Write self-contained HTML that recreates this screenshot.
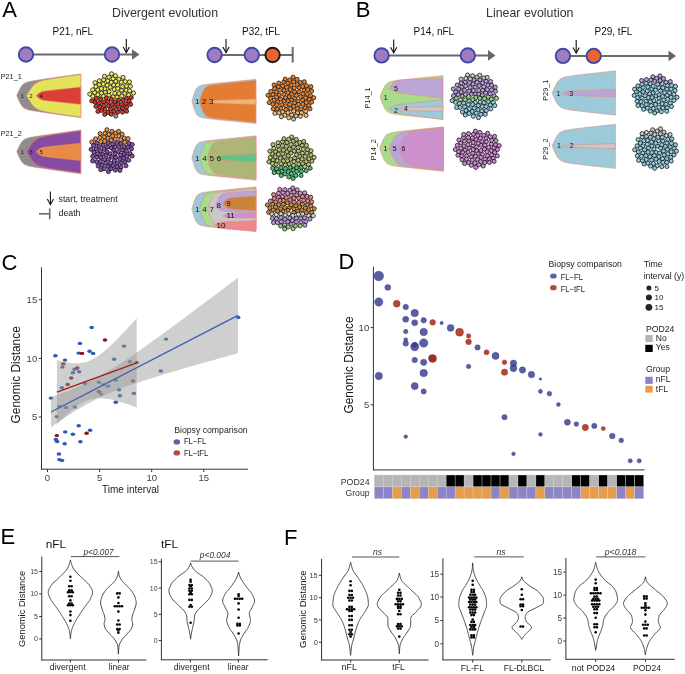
<!DOCTYPE html>
<html><head><meta charset="utf-8"><style>
html,body{margin:0;padding:0;background:#fff;}
svg{display:block;will-change:transform;}
text{font-family:"Liberation Sans", sans-serif;}
</style></head><body>
<svg width="685" height="674" viewBox="0 0 685 674">
<rect width="685" height="674" fill="#fff"/>
<text x="2.20" y="16.80" font-size="22" text-anchor="start" fill="#000" >A</text>
<text x="355.70" y="17.00" font-size="22" text-anchor="start" fill="#000" >B</text>
<text x="1.40" y="269.60" font-size="22" text-anchor="start" fill="#000" >C</text>
<text x="338.50" y="269.40" font-size="22" text-anchor="start" fill="#000" >D</text>
<text x="0.50" y="543.90" font-size="22" text-anchor="start" fill="#000" >E</text>
<text x="283.90" y="545.20" font-size="22" text-anchor="start" fill="#000" >F</text>
<text x="112.00" y="17.00" font-size="12.4" text-anchor="start" fill="#333" >Divergent evolution</text>
<text x="486.00" y="17.00" font-size="12.4" text-anchor="start" fill="#333" >Linear evolution</text>
<text x="52.60" y="35.00" font-size="10" text-anchor="start" fill="#111" >P21, nFL</text>
<line x1="26.00" y1="54.50" x2="133.00" y2="54.50" stroke="#6b6b6b" stroke-width="2.0" />
<path d="M132.00,49.20 L139.50,54.50 L132.00,59.80 Z" fill="#666"/>
<circle cx="26.00" cy="54.50" r="7.2" fill="#a27bbf" stroke="#3c48ab" stroke-width="1.9"/>
<circle cx="112.00" cy="54.50" r="7.2" fill="#a27bbf" stroke="#3c48ab" stroke-width="1.9"/>
<line x1="126.30" y1="39.00" x2="126.30" y2="52.50" stroke="#111" stroke-width="1.1" />
<path d="M123.20,46.90 L126.30,52.50 L129.40,46.90" fill="none" stroke="#111" stroke-width="1.1"/>
<text x="242.00" y="34.60" font-size="10" text-anchor="start" fill="#111" >P32, tFL</text>
<line x1="214.60" y1="55.00" x2="292.70" y2="55.00" stroke="#6b6b6b" stroke-width="2.0" />
<line x1="292.70" y1="47.00" x2="292.70" y2="62.60" stroke="#6b6b6b" stroke-width="2.0" />
<circle cx="214.60" cy="55.00" r="7.2" fill="#a27bbf" stroke="#3c48ab" stroke-width="1.9"/>
<circle cx="251.80" cy="55.00" r="7.2" fill="#a27bbf" stroke="#3c48ab" stroke-width="1.9"/>
<circle cx="272.60" cy="55.00" r="7.2" fill="#e8652d" stroke="#1a1a1a" stroke-width="1.9"/>
<line x1="226.00" y1="39.00" x2="226.00" y2="52.50" stroke="#111" stroke-width="1.1" />
<path d="M222.90,46.90 L226.00,52.50 L229.10,46.90" fill="none" stroke="#111" stroke-width="1.1"/>
<text x="413.60" y="35.00" font-size="10" text-anchor="start" fill="#111" >P14, nFL</text>
<line x1="381.60" y1="55.40" x2="490.00" y2="55.40" stroke="#6b6b6b" stroke-width="2.0" />
<path d="M488.00,50.10 L495.50,55.40 L488.00,60.70 Z" fill="#666"/>
<circle cx="381.60" cy="55.40" r="7.2" fill="#a27bbf" stroke="#3c48ab" stroke-width="1.9"/>
<circle cx="467.80" cy="55.40" r="7.2" fill="#a27bbf" stroke="#3c48ab" stroke-width="1.9"/>
<line x1="393.70" y1="39.50" x2="393.70" y2="52.80" stroke="#111" stroke-width="1.1" />
<path d="M390.60,47.20 L393.70,52.80 L396.80,47.20" fill="none" stroke="#111" stroke-width="1.1"/>
<text x="594.50" y="35.10" font-size="10" text-anchor="start" fill="#111" >P29, tFL</text>
<line x1="562.90" y1="55.90" x2="670.00" y2="55.90" stroke="#6b6b6b" stroke-width="2.0" />
<path d="M668.50,50.60 L676.00,55.90 L668.50,61.20 Z" fill="#666"/>
<circle cx="562.90" cy="55.90" r="7.2" fill="#a27bbf" stroke="#3c48ab" stroke-width="1.9"/>
<circle cx="593.70" cy="55.90" r="7.2" fill="#e8652d" stroke="#3c48ab" stroke-width="1.9"/>
<line x1="576.20" y1="40.00" x2="576.20" y2="53.00" stroke="#111" stroke-width="1.1" />
<path d="M573.10,47.40 L576.20,53.00 L579.30,47.40" fill="none" stroke="#111" stroke-width="1.1"/>
<line x1="50.40" y1="191.60" x2="50.40" y2="204.70" stroke="#111" stroke-width="1.1" />
<path d="M47.30,199.10 L50.40,204.70 L53.50,199.10" fill="none" stroke="#111" stroke-width="1.1"/>
<text x="58.50" y="202.20" font-size="8.8" text-anchor="start" fill="#222" >start, treatment</text>
<line x1="39.00" y1="213.80" x2="49.70" y2="213.80" stroke="#6b6b6b" stroke-width="1.6" />
<line x1="49.70" y1="208.40" x2="49.70" y2="219.30" stroke="#6b6b6b" stroke-width="1.6" />
<text x="58.50" y="216.40" font-size="8.8" text-anchor="start" fill="#222" >death</text>
<text x="0.70" y="78.50" font-size="7.3" text-anchor="start" fill="#222" >P21_1</text>
<path d="M16.7,95.6 L17.5,93.8 L18.3,92.1 L19.1,90.3 L19.9,88.7 L20.7,87.3 L21.5,86.1 L22.3,85.1 L23.1,84.3 L23.9,83.7 L24.7,83.2 L25.5,82.8 L26.3,82.4 L27.1,82.2 L27.9,81.9 L28.7,81.7 L29.5,81.5 L30.3,81.3 L31.1,81.2 L31.9,81.0 L32.7,80.9 L33.5,80.7 L34.3,80.6 L35.1,80.5 L35.9,80.3 L36.7,80.2 L37.5,80.1 L38.3,80.0 L39.1,79.8 L39.9,79.7 L40.7,79.6 L41.5,79.5 L42.3,79.4 L43.1,79.2 L43.9,79.1 L44.7,79.0 L45.5,78.9 L46.3,78.8 L47.1,78.7 L47.9,78.5 L48.7,78.4 L49.5,78.3 L50.3,78.2 L51.1,78.1 L51.9,78.0 L52.7,77.9 L53.5,77.7 L54.3,77.6 L55.1,77.5 L55.9,77.4 L56.7,77.3 L57.5,77.2 L58.3,77.1 L59.1,77.0 L59.9,76.8 L60.7,76.7 L61.5,76.6 L62.3,76.5 L63.1,76.4 L63.9,76.3 L64.7,76.2 L65.5,76.1 L66.3,75.9 L67.1,75.8 L67.9,75.7 L68.7,75.6 L69.5,75.5 L70.3,75.4 L71.1,75.3 L71.9,75.2 L72.7,75.0 L73.5,74.9 L74.3,74.8 L75.1,74.7 L75.9,74.6 L76.7,74.5 L77.5,74.4 L78.3,74.3 L79.1,74.1 L79.9,74.0 L80.7,73.9 L80.8,73.9 L80.8,117.7 L80.7,117.7 L79.9,117.6 L79.1,117.5 L78.3,117.3 L77.5,117.2 L76.7,117.1 L75.9,117.0 L75.1,116.9 L74.3,116.8 L73.5,116.7 L72.7,116.6 L71.9,116.4 L71.1,116.3 L70.3,116.2 L69.5,116.1 L68.7,116.0 L67.9,115.9 L67.1,115.8 L66.3,115.7 L65.5,115.5 L64.7,115.4 L63.9,115.3 L63.1,115.2 L62.3,115.1 L61.5,115.0 L60.7,114.9 L59.9,114.8 L59.1,114.6 L58.3,114.5 L57.5,114.4 L56.7,114.3 L55.9,114.2 L55.1,114.1 L54.3,114.0 L53.5,113.9 L52.7,113.7 L51.9,113.6 L51.1,113.5 L50.3,113.4 L49.5,113.3 L48.7,113.2 L47.9,113.1 L47.1,112.9 L46.3,112.8 L45.5,112.7 L44.7,112.6 L43.9,112.5 L43.1,112.4 L42.3,112.2 L41.5,112.1 L40.7,112.0 L39.9,111.9 L39.1,111.8 L38.3,111.6 L37.5,111.5 L36.7,111.4 L35.9,111.3 L35.1,111.1 L34.3,111.0 L33.5,110.9 L32.7,110.7 L31.9,110.6 L31.1,110.4 L30.3,110.3 L29.5,110.1 L28.7,109.9 L27.9,109.7 L27.1,109.4 L26.3,109.1 L25.5,108.8 L24.7,108.4 L23.9,107.9 L23.1,107.2 L22.3,106.4 L21.5,105.4 L20.7,104.2 L19.9,102.7 L19.1,101.0 L18.3,99.3 L17.5,97.4 L16.7,95.6 Z" fill="#8d8d8d" stroke="#e68b7c" stroke-width="0.6"/>
<path d="M26.4,95.6 L27.2,94.4 L28.0,93.1 L28.8,91.8 L29.6,90.6 L30.4,89.3 L31.2,88.2 L32.0,87.1 L32.8,86.1 L33.6,85.3 L34.4,84.5 L35.2,83.9 L36.0,83.3 L36.8,82.8 L37.6,82.4 L38.4,82.0 L39.2,81.7 L40.0,81.4 L40.8,81.1 L41.6,80.9 L42.4,80.6 L43.2,80.4 L44.0,80.2 L44.8,80.1 L45.6,79.9 L46.4,79.7 L47.2,79.6 L48.0,79.4 L48.8,79.3 L49.6,79.2 L50.4,79.0 L51.2,78.9 L52.0,78.7 L52.8,78.6 L53.6,78.5 L54.4,78.4 L55.2,78.2 L56.0,78.1 L56.8,78.0 L57.6,77.9 L58.4,77.8 L59.2,77.6 L60.0,77.5 L60.8,77.4 L61.6,77.3 L62.4,77.2 L63.2,77.0 L64.0,76.9 L64.8,76.8 L65.6,76.7 L66.4,76.6 L67.2,76.5 L68.0,76.4 L68.8,76.2 L69.6,76.1 L70.4,76.0 L71.2,75.9 L72.0,75.8 L72.8,75.7 L73.6,75.5 L74.4,75.4 L75.2,75.3 L76.0,75.2 L76.8,75.1 L77.6,75.0 L78.4,74.9 L79.2,74.8 L80.0,74.6 L80.8,74.5 L80.8,74.5 L80.8,117.1 L80.8,117.1 L80.0,117.0 L79.2,116.8 L78.4,116.7 L77.6,116.6 L76.8,116.5 L76.0,116.4 L75.2,116.3 L74.4,116.2 L73.6,116.0 L72.8,115.9 L72.0,115.8 L71.2,115.7 L70.4,115.6 L69.6,115.5 L68.8,115.4 L68.0,115.2 L67.2,115.1 L66.4,115.0 L65.6,114.9 L64.8,114.8 L64.0,114.7 L63.2,114.6 L62.4,114.4 L61.6,114.3 L60.8,114.2 L60.0,114.1 L59.2,114.0 L58.4,113.8 L57.6,113.7 L56.8,113.6 L56.0,113.5 L55.2,113.4 L54.4,113.2 L53.6,113.1 L52.8,113.0 L52.0,112.8 L51.2,112.7 L50.4,112.6 L49.6,112.4 L48.8,112.3 L48.0,112.2 L47.2,112.0 L46.4,111.8 L45.6,111.7 L44.8,111.5 L44.0,111.3 L43.2,111.1 L42.4,110.9 L41.6,110.7 L40.8,110.5 L40.0,110.2 L39.2,109.9 L38.4,109.6 L37.6,109.2 L36.8,108.8 L36.0,108.3 L35.2,107.7 L34.4,107.0 L33.6,106.2 L32.8,105.3 L32.0,104.3 L31.2,103.2 L30.4,102.0 L29.6,100.8 L28.8,99.5 L28.0,98.2 L27.2,96.9 L26.4,95.6 Z" fill="#e5e35a" stroke="#e68b7c" stroke-width="0.6"/>
<path d="M36.1,95.7 L36.9,95.0 L37.7,94.2 L38.5,93.5 L39.3,92.9 L40.1,92.4 L40.9,92.0 L41.7,91.7 L42.5,91.5 L43.3,91.3 L44.1,91.2 L44.9,91.0 L45.7,90.9 L46.5,90.8 L47.3,90.7 L48.1,90.6 L48.9,90.5 L49.7,90.4 L50.5,90.3 L51.3,90.2 L52.1,90.2 L52.9,90.1 L53.7,90.0 L54.5,89.9 L55.3,89.8 L56.1,89.7 L56.9,89.6 L57.7,89.5 L58.5,89.5 L59.3,89.4 L60.1,89.3 L60.9,89.2 L61.7,89.1 L62.5,89.0 L63.3,88.9 L64.1,88.9 L64.9,88.8 L65.7,88.7 L66.5,88.6 L67.3,88.5 L68.1,88.4 L68.9,88.4 L69.7,88.3 L70.5,88.2 L71.3,88.1 L72.1,88.0 L72.9,87.9 L73.7,87.8 L74.5,87.8 L75.3,87.7 L76.1,87.6 L76.9,87.5 L77.7,87.4 L78.5,87.3 L79.3,87.3 L80.1,87.2 L80.8,87.1 L80.8,104.4 L80.1,104.3 L79.3,104.2 L78.5,104.2 L77.7,104.1 L76.9,104.0 L76.1,103.9 L75.3,103.8 L74.5,103.7 L73.7,103.7 L72.9,103.6 L72.1,103.5 L71.3,103.4 L70.5,103.3 L69.7,103.2 L68.9,103.1 L68.1,103.1 L67.3,103.0 L66.5,102.9 L65.7,102.8 L64.9,102.7 L64.1,102.6 L63.3,102.6 L62.5,102.5 L61.7,102.4 L60.9,102.3 L60.1,102.2 L59.3,102.1 L58.5,102.0 L57.7,102.0 L56.9,101.9 L56.1,101.8 L55.3,101.7 L54.5,101.6 L53.7,101.5 L52.9,101.4 L52.1,101.3 L51.3,101.3 L50.5,101.2 L49.7,101.1 L48.9,101.0 L48.1,100.9 L47.3,100.8 L46.5,100.7 L45.7,100.6 L44.9,100.4 L44.1,100.3 L43.3,100.2 L42.5,100.0 L41.7,99.7 L40.9,99.4 L40.1,99.1 L39.3,98.6 L38.5,97.9 L37.7,97.2 L36.9,96.5 L36.1,95.7 Z" fill="#dc3f36" stroke="#e68b7c" stroke-width="0.6"/>
<text x="22.30" y="97.58" font-size="5.5" text-anchor="middle" fill="#111" >1</text>
<text x="31.10" y="97.58" font-size="5.5" text-anchor="middle" fill="#111" >2</text>
<text x="41.20" y="97.58" font-size="5.5" text-anchor="middle" fill="#111" >4</text>
<path d="M16.7,151.7 L17.5,149.9 L18.3,148.2 L19.1,146.4 L19.9,144.8 L20.7,143.4 L21.5,142.2 L22.3,141.2 L23.1,140.4 L23.9,139.8 L24.7,139.3 L25.5,138.9 L26.3,138.5 L27.1,138.3 L27.9,138.0 L28.7,137.8 L29.5,137.6 L30.3,137.4 L31.1,137.3 L31.9,137.1 L32.7,137.0 L33.5,136.8 L34.3,136.7 L35.1,136.6 L35.9,136.4 L36.7,136.3 L37.5,136.2 L38.3,136.1 L39.1,135.9 L39.9,135.8 L40.7,135.7 L41.5,135.6 L42.3,135.5 L43.1,135.3 L43.9,135.2 L44.7,135.1 L45.5,135.0 L46.3,134.9 L47.1,134.8 L47.9,134.6 L48.7,134.5 L49.5,134.4 L50.3,134.3 L51.1,134.2 L51.9,134.1 L52.7,134.0 L53.5,133.8 L54.3,133.7 L55.1,133.6 L55.9,133.5 L56.7,133.4 L57.5,133.3 L58.3,133.2 L59.1,133.1 L59.9,132.9 L60.7,132.8 L61.5,132.7 L62.3,132.6 L63.1,132.5 L63.9,132.4 L64.7,132.3 L65.5,132.2 L66.3,132.0 L67.1,131.9 L67.9,131.8 L68.7,131.7 L69.5,131.6 L70.3,131.5 L71.1,131.4 L71.9,131.3 L72.7,131.1 L73.5,131.0 L74.3,130.9 L75.1,130.8 L75.9,130.7 L76.7,130.6 L77.5,130.5 L78.3,130.4 L79.1,130.2 L79.9,130.1 L80.7,130.0 L80.8,130.0 L80.8,173.8 L80.7,173.8 L79.9,173.7 L79.1,173.6 L78.3,173.4 L77.5,173.3 L76.7,173.2 L75.9,173.1 L75.1,173.0 L74.3,172.9 L73.5,172.8 L72.7,172.7 L71.9,172.5 L71.1,172.4 L70.3,172.3 L69.5,172.2 L68.7,172.1 L67.9,172.0 L67.1,171.9 L66.3,171.8 L65.5,171.6 L64.7,171.5 L63.9,171.4 L63.1,171.3 L62.3,171.2 L61.5,171.1 L60.7,171.0 L59.9,170.9 L59.1,170.7 L58.3,170.6 L57.5,170.5 L56.7,170.4 L55.9,170.3 L55.1,170.2 L54.3,170.1 L53.5,170.0 L52.7,169.8 L51.9,169.7 L51.1,169.6 L50.3,169.5 L49.5,169.4 L48.7,169.3 L47.9,169.2 L47.1,169.0 L46.3,168.9 L45.5,168.8 L44.7,168.7 L43.9,168.6 L43.1,168.5 L42.3,168.3 L41.5,168.2 L40.7,168.1 L39.9,168.0 L39.1,167.9 L38.3,167.7 L37.5,167.6 L36.7,167.5 L35.9,167.4 L35.1,167.2 L34.3,167.1 L33.5,167.0 L32.7,166.8 L31.9,166.7 L31.1,166.5 L30.3,166.4 L29.5,166.2 L28.7,166.0 L27.9,165.8 L27.1,165.5 L26.3,165.2 L25.5,164.9 L24.7,164.5 L23.9,164.0 L23.1,163.3 L22.3,162.5 L21.5,161.5 L20.7,160.3 L19.9,158.8 L19.1,157.1 L18.3,155.4 L17.5,153.5 L16.7,151.7 Z" fill="#8d8d8d" stroke="#e68b7c" stroke-width="0.6"/>
<path d="M26.4,151.7 L27.2,150.5 L28.0,149.2 L28.8,147.9 L29.6,146.7 L30.4,145.4 L31.2,144.3 L32.0,143.2 L32.8,142.2 L33.6,141.4 L34.4,140.6 L35.2,140.0 L36.0,139.4 L36.8,138.9 L37.6,138.5 L38.4,138.1 L39.2,137.8 L40.0,137.5 L40.8,137.2 L41.6,137.0 L42.4,136.7 L43.2,136.5 L44.0,136.3 L44.8,136.2 L45.6,136.0 L46.4,135.8 L47.2,135.7 L48.0,135.5 L48.8,135.4 L49.6,135.3 L50.4,135.1 L51.2,135.0 L52.0,134.8 L52.8,134.7 L53.6,134.6 L54.4,134.5 L55.2,134.3 L56.0,134.2 L56.8,134.1 L57.6,134.0 L58.4,133.9 L59.2,133.7 L60.0,133.6 L60.8,133.5 L61.6,133.4 L62.4,133.3 L63.2,133.1 L64.0,133.0 L64.8,132.9 L65.6,132.8 L66.4,132.7 L67.2,132.6 L68.0,132.5 L68.8,132.3 L69.6,132.2 L70.4,132.1 L71.2,132.0 L72.0,131.9 L72.8,131.8 L73.6,131.6 L74.4,131.5 L75.2,131.4 L76.0,131.3 L76.8,131.2 L77.6,131.1 L78.4,131.0 L79.2,130.9 L80.0,130.7 L80.8,130.6 L80.8,130.6 L80.8,173.2 L80.8,173.2 L80.0,173.1 L79.2,172.9 L78.4,172.8 L77.6,172.7 L76.8,172.6 L76.0,172.5 L75.2,172.4 L74.4,172.3 L73.6,172.1 L72.8,172.0 L72.0,171.9 L71.2,171.8 L70.4,171.7 L69.6,171.6 L68.8,171.5 L68.0,171.3 L67.2,171.2 L66.4,171.1 L65.6,171.0 L64.8,170.9 L64.0,170.8 L63.2,170.7 L62.4,170.5 L61.6,170.4 L60.8,170.3 L60.0,170.2 L59.2,170.1 L58.4,169.9 L57.6,169.8 L56.8,169.7 L56.0,169.6 L55.2,169.5 L54.4,169.3 L53.6,169.2 L52.8,169.1 L52.0,168.9 L51.2,168.8 L50.4,168.7 L49.6,168.5 L48.8,168.4 L48.0,168.3 L47.2,168.1 L46.4,167.9 L45.6,167.8 L44.8,167.6 L44.0,167.4 L43.2,167.2 L42.4,167.0 L41.6,166.8 L40.8,166.6 L40.0,166.3 L39.2,166.0 L38.4,165.7 L37.6,165.3 L36.8,164.9 L36.0,164.4 L35.2,163.8 L34.4,163.1 L33.6,162.3 L32.8,161.4 L32.0,160.4 L31.2,159.3 L30.4,158.1 L29.6,156.9 L28.8,155.6 L28.0,154.3 L27.2,153.0 L26.4,151.7 Z" fill="#874ba0" stroke="#e68b7c" stroke-width="0.6"/>
<path d="M36.1,151.8 L36.9,151.1 L37.7,150.3 L38.5,149.6 L39.3,149.0 L40.1,148.5 L40.9,148.1 L41.7,147.8 L42.5,147.6 L43.3,147.4 L44.1,147.3 L44.9,147.1 L45.7,147.0 L46.5,146.9 L47.3,146.8 L48.1,146.7 L48.9,146.6 L49.7,146.5 L50.5,146.4 L51.3,146.3 L52.1,146.3 L52.9,146.2 L53.7,146.1 L54.5,146.0 L55.3,145.9 L56.1,145.8 L56.9,145.7 L57.7,145.6 L58.5,145.6 L59.3,145.5 L60.1,145.4 L60.9,145.3 L61.7,145.2 L62.5,145.1 L63.3,145.0 L64.1,145.0 L64.9,144.9 L65.7,144.8 L66.5,144.7 L67.3,144.6 L68.1,144.5 L68.9,144.5 L69.7,144.4 L70.5,144.3 L71.3,144.2 L72.1,144.1 L72.9,144.0 L73.7,143.9 L74.5,143.9 L75.3,143.8 L76.1,143.7 L76.9,143.6 L77.7,143.5 L78.5,143.4 L79.3,143.4 L80.1,143.3 L80.8,143.2 L80.8,160.5 L80.1,160.4 L79.3,160.3 L78.5,160.3 L77.7,160.2 L76.9,160.1 L76.1,160.0 L75.3,159.9 L74.5,159.8 L73.7,159.8 L72.9,159.7 L72.1,159.6 L71.3,159.5 L70.5,159.4 L69.7,159.3 L68.9,159.2 L68.1,159.2 L67.3,159.1 L66.5,159.0 L65.7,158.9 L64.9,158.8 L64.1,158.7 L63.3,158.7 L62.5,158.6 L61.7,158.5 L60.9,158.4 L60.1,158.3 L59.3,158.2 L58.5,158.1 L57.7,158.1 L56.9,158.0 L56.1,157.9 L55.3,157.8 L54.5,157.7 L53.7,157.6 L52.9,157.5 L52.1,157.4 L51.3,157.4 L50.5,157.3 L49.7,157.2 L48.9,157.1 L48.1,157.0 L47.3,156.9 L46.5,156.8 L45.7,156.7 L44.9,156.5 L44.1,156.4 L43.3,156.3 L42.5,156.1 L41.7,155.8 L40.9,155.5 L40.1,155.2 L39.3,154.7 L38.5,154.0 L37.7,153.3 L36.9,152.6 L36.1,151.8 Z" fill="#e98b45" stroke="#e68b7c" stroke-width="0.6"/>
<text x="22.30" y="153.68" font-size="5.5" text-anchor="middle" fill="#111" >1</text>
<text x="31.10" y="153.68" font-size="5.5" text-anchor="middle" fill="#111" >3</text>
<text x="41.20" y="153.68" font-size="5.5" text-anchor="middle" fill="#111" >5</text>
<text x="0.70" y="136.20" font-size="7.3" text-anchor="start" fill="#222" >P21_2</text>
<path d="M191.9,101.1 L192.7,98.4 L193.5,95.8 L194.3,93.4 L195.1,91.2 L195.9,89.6 L196.7,88.3 L197.5,87.4 L198.3,86.7 L199.1,86.2 L199.9,85.8 L200.7,85.5 L201.5,85.3 L202.3,85.1 L203.1,85.0 L203.9,84.8 L204.7,84.7 L205.5,84.6 L206.3,84.4 L207.1,84.3 L207.9,84.2 L208.7,84.1 L209.5,84.0 L210.3,84.0 L211.1,83.9 L211.9,83.8 L212.7,83.7 L213.5,83.6 L214.3,83.5 L215.1,83.4 L215.9,83.3 L216.7,83.3 L217.5,83.2 L218.3,83.1 L219.1,83.0 L219.9,82.9 L220.7,82.8 L221.5,82.8 L222.3,82.7 L223.1,82.6 L223.9,82.5 L224.7,82.4 L225.5,82.4 L226.3,82.3 L227.1,82.2 L227.9,82.1 L228.7,82.0 L229.5,82.0 L230.3,81.9 L231.1,81.8 L231.9,81.7 L232.7,81.6 L233.5,81.5 L234.3,81.5 L235.1,81.4 L235.9,81.3 L236.7,81.2 L237.5,81.1 L238.3,81.1 L239.1,81.0 L239.9,80.9 L240.7,80.8 L241.5,80.7 L242.3,80.7 L243.1,80.6 L243.9,80.5 L244.7,80.4 L245.5,80.3 L246.3,80.3 L247.1,80.2 L247.9,80.1 L248.7,80.0 L249.5,79.9 L250.3,79.9 L251.1,79.8 L251.9,79.7 L252.7,79.6 L253.5,79.5 L254.3,79.5 L255.1,79.4 L255.9,79.3 L255.9,79.3 L255.9,123.5 L255.9,123.5 L255.1,123.4 L254.3,123.3 L253.5,123.3 L252.7,123.2 L251.9,123.1 L251.1,123.0 L250.3,122.9 L249.5,122.9 L248.7,122.8 L247.9,122.7 L247.1,122.6 L246.3,122.5 L245.5,122.5 L244.7,122.4 L243.9,122.3 L243.1,122.2 L242.3,122.1 L241.5,122.1 L240.7,122.0 L239.9,121.9 L239.1,121.8 L238.3,121.7 L237.5,121.7 L236.7,121.6 L235.9,121.5 L235.1,121.4 L234.3,121.3 L233.5,121.3 L232.7,121.2 L231.9,121.1 L231.1,121.0 L230.3,120.9 L229.5,120.8 L228.7,120.8 L227.9,120.7 L227.1,120.6 L226.3,120.5 L225.5,120.4 L224.7,120.4 L223.9,120.3 L223.1,120.2 L222.3,120.1 L221.5,120.0 L220.7,120.0 L219.9,119.9 L219.1,119.8 L218.3,119.7 L217.5,119.6 L216.7,119.5 L215.9,119.5 L215.1,119.4 L214.3,119.3 L213.5,119.2 L212.7,119.1 L211.9,119.0 L211.1,118.9 L210.3,118.8 L209.5,118.8 L208.7,118.7 L207.9,118.6 L207.1,118.5 L206.3,118.3 L205.5,118.2 L204.7,118.1 L203.9,118.0 L203.1,117.8 L202.3,117.7 L201.5,117.5 L200.7,117.2 L199.9,116.9 L199.1,116.5 L198.3,116.0 L197.5,115.4 L196.7,114.4 L195.9,113.1 L195.1,111.3 L194.3,109.1 L193.5,106.6 L192.7,103.9 L191.9,101.1 Z" fill="#9ccad8" stroke="#e68b7c" stroke-width="0.6"/>
<path d="M199.5,101.1 L200.3,98.6 L201.1,96.0 L201.9,93.7 L202.7,91.6 L203.5,89.9 L204.3,88.7 L205.1,87.7 L205.9,87.0 L206.7,86.5 L207.5,86.1 L208.3,85.8 L209.1,85.6 L209.9,85.4 L210.7,85.2 L211.5,85.1 L212.3,84.9 L213.1,84.8 L213.9,84.7 L214.7,84.6 L215.5,84.5 L216.3,84.4 L217.1,84.3 L217.9,84.2 L218.7,84.1 L219.5,84.0 L220.3,83.9 L221.1,83.8 L221.9,83.8 L222.7,83.7 L223.5,83.6 L224.3,83.5 L225.1,83.4 L225.9,83.3 L226.7,83.3 L227.5,83.2 L228.3,83.1 L229.1,83.0 L229.9,82.9 L230.7,82.8 L231.5,82.8 L232.3,82.7 L233.1,82.6 L233.9,82.5 L234.7,82.4 L235.5,82.4 L236.3,82.3 L237.1,82.2 L237.9,82.1 L238.7,82.0 L239.5,82.0 L240.3,81.9 L241.1,81.8 L241.9,81.7 L242.7,81.6 L243.5,81.5 L244.3,81.5 L245.1,81.4 L245.9,81.3 L246.7,81.2 L247.5,81.1 L248.3,81.1 L249.1,81.0 L249.9,80.9 L250.7,80.8 L251.5,80.7 L252.3,80.7 L253.1,80.6 L253.9,80.5 L254.7,80.4 L255.5,80.3 L255.9,80.3 L255.9,122.5 L255.5,122.5 L254.7,122.4 L253.9,122.3 L253.1,122.2 L252.3,122.1 L251.5,122.1 L250.7,122.0 L249.9,121.9 L249.1,121.8 L248.3,121.7 L247.5,121.7 L246.7,121.6 L245.9,121.5 L245.1,121.4 L244.3,121.3 L243.5,121.3 L242.7,121.2 L241.9,121.1 L241.1,121.0 L240.3,120.9 L239.5,120.8 L238.7,120.8 L237.9,120.7 L237.1,120.6 L236.3,120.5 L235.5,120.4 L234.7,120.4 L233.9,120.3 L233.1,120.2 L232.3,120.1 L231.5,120.0 L230.7,120.0 L229.9,119.9 L229.1,119.8 L228.3,119.7 L227.5,119.6 L226.7,119.5 L225.9,119.5 L225.1,119.4 L224.3,119.3 L223.5,119.2 L222.7,119.1 L221.9,119.0 L221.1,119.0 L220.3,118.9 L219.5,118.8 L218.7,118.7 L217.9,118.6 L217.1,118.5 L216.3,118.4 L215.5,118.3 L214.7,118.2 L213.9,118.1 L213.1,118.0 L212.3,117.9 L211.5,117.7 L210.7,117.6 L209.9,117.4 L209.1,117.2 L208.3,116.9 L207.5,116.6 L206.7,116.2 L205.9,115.7 L205.1,115.0 L204.3,114.0 L203.5,112.7 L202.7,111.0 L201.9,108.8 L201.1,106.4 L200.3,103.7 L199.5,101.1 Z" fill="#e47d33" stroke="#e68b7c" stroke-width="0.6"/>
<path d="M208.2,101.6 L209.0,101.4 L209.8,101.2 L210.6,100.9 L211.4,100.8 L212.2,100.6 L213.0,100.5 L213.8,100.4 L214.6,100.4 L215.4,100.3 L216.2,100.3 L217.0,100.2 L217.8,100.2 L218.6,100.2 L219.4,100.1 L220.2,100.1 L221.0,100.1 L221.8,100.0 L222.6,100.0 L223.4,100.0 L224.2,100.0 L225.0,99.9 L225.8,99.9 L226.6,99.9 L227.4,99.9 L228.2,99.8 L229.0,99.8 L229.8,99.8 L230.6,99.8 L231.4,99.7 L232.2,99.7 L233.0,99.7 L233.8,99.7 L234.6,99.6 L235.4,99.6 L236.2,99.6 L237.0,99.6 L237.8,99.5 L238.6,99.5 L239.4,99.5 L240.2,99.5 L241.0,99.4 L241.8,99.4 L242.6,99.4 L243.4,99.4 L244.2,99.4 L245.0,99.3 L245.8,99.3 L246.6,99.3 L247.4,99.3 L248.2,99.2 L249.0,99.2 L249.8,99.2 L250.6,99.2 L251.4,99.1 L252.2,99.1 L253.0,99.1 L253.8,99.1 L254.6,99.0 L255.4,99.0 L255.9,99.0 L255.9,104.5 L255.4,104.5 L254.6,104.5 L253.8,104.4 L253.0,104.4 L252.2,104.4 L251.4,104.4 L250.6,104.3 L249.8,104.3 L249.0,104.3 L248.2,104.3 L247.4,104.2 L246.6,104.2 L245.8,104.2 L245.0,104.2 L244.2,104.1 L243.4,104.1 L242.6,104.1 L241.8,104.1 L241.0,104.1 L240.2,104.0 L239.4,104.0 L238.6,104.0 L237.8,104.0 L237.0,103.9 L236.2,103.9 L235.4,103.9 L234.6,103.9 L233.8,103.8 L233.0,103.8 L232.2,103.8 L231.4,103.8 L230.6,103.7 L229.8,103.7 L229.0,103.7 L228.2,103.7 L227.4,103.6 L226.6,103.6 L225.8,103.6 L225.0,103.6 L224.2,103.5 L223.4,103.5 L222.6,103.5 L221.8,103.5 L221.0,103.4 L220.2,103.4 L219.4,103.4 L218.6,103.3 L217.8,103.3 L217.0,103.3 L216.2,103.2 L215.4,103.2 L214.6,103.1 L213.8,103.0 L213.0,102.9 L212.2,102.8 L211.4,102.6 L210.6,102.4 L209.8,102.1 L209.0,101.9 L208.2,101.6 Z" fill="#edb777" stroke="#e68b7c" stroke-width="0.6"/>
<text x="197.30" y="103.98" font-size="8" text-anchor="middle" fill="#111" >1</text>
<text x="204.30" y="103.98" font-size="8" text-anchor="middle" fill="#111" >2</text>
<text x="211.30" y="103.98" font-size="8" text-anchor="middle" fill="#111" >3</text>
<path d="M191.9,157.7 L192.7,155.0 L193.5,152.4 L194.3,149.9 L195.1,147.8 L195.9,146.1 L196.7,144.8 L197.5,143.9 L198.3,143.2 L199.1,142.7 L199.9,142.3 L200.7,142.1 L201.5,141.8 L202.3,141.6 L203.1,141.5 L203.9,141.3 L204.7,141.2 L205.5,141.1 L206.3,140.9 L207.1,140.8 L207.9,140.7 L208.7,140.6 L209.5,140.5 L210.3,140.5 L211.1,140.4 L211.9,140.3 L212.7,140.2 L213.5,140.1 L214.3,140.0 L215.1,139.9 L215.9,139.8 L216.7,139.8 L217.5,139.7 L218.3,139.6 L219.1,139.5 L219.9,139.4 L220.7,139.3 L221.5,139.3 L222.3,139.2 L223.1,139.1 L223.9,139.0 L224.7,138.9 L225.5,138.9 L226.3,138.8 L227.1,138.7 L227.9,138.6 L228.7,138.5 L229.5,138.5 L230.3,138.4 L231.1,138.3 L231.9,138.2 L232.7,138.1 L233.5,138.0 L234.3,138.0 L235.1,137.9 L235.9,137.8 L236.7,137.7 L237.5,137.6 L238.3,137.6 L239.1,137.5 L239.9,137.4 L240.7,137.3 L241.5,137.2 L242.3,137.2 L243.1,137.1 L243.9,137.0 L244.7,136.9 L245.5,136.8 L246.3,136.8 L247.1,136.7 L247.9,136.6 L248.7,136.5 L249.5,136.4 L250.3,136.4 L251.1,136.3 L251.9,136.2 L252.7,136.1 L253.5,136.0 L254.3,136.0 L255.1,135.9 L255.9,135.8 L255.9,135.8 L255.9,180.2 L255.9,180.2 L255.1,180.1 L254.3,180.0 L253.5,180.0 L252.7,179.9 L251.9,179.8 L251.1,179.7 L250.3,179.6 L249.5,179.6 L248.7,179.5 L247.9,179.4 L247.1,179.3 L246.3,179.2 L245.5,179.2 L244.7,179.1 L243.9,179.0 L243.1,178.9 L242.3,178.8 L241.5,178.8 L240.7,178.7 L239.9,178.6 L239.1,178.5 L238.3,178.4 L237.5,178.4 L236.7,178.3 L235.9,178.2 L235.1,178.1 L234.3,178.0 L233.5,178.0 L232.7,177.9 L231.9,177.8 L231.1,177.7 L230.3,177.6 L229.5,177.5 L228.7,177.5 L227.9,177.4 L227.1,177.3 L226.3,177.2 L225.5,177.1 L224.7,177.1 L223.9,177.0 L223.1,176.9 L222.3,176.8 L221.5,176.7 L220.7,176.7 L219.9,176.6 L219.1,176.5 L218.3,176.4 L217.5,176.3 L216.7,176.2 L215.9,176.2 L215.1,176.1 L214.3,176.0 L213.5,175.9 L212.7,175.8 L211.9,175.7 L211.1,175.6 L210.3,175.5 L209.5,175.5 L208.7,175.4 L207.9,175.3 L207.1,175.2 L206.3,175.0 L205.5,174.9 L204.7,174.8 L203.9,174.7 L203.1,174.5 L202.3,174.4 L201.5,174.2 L200.7,173.9 L199.9,173.6 L199.1,173.2 L198.3,172.7 L197.5,172.0 L196.7,171.1 L195.9,169.8 L195.1,168.0 L194.3,165.8 L193.5,163.2 L192.7,160.5 L191.9,157.7 Z" fill="#9ccad8" stroke="#e68b7c" stroke-width="0.6"/>
<path d="M199.6,157.7 L200.4,155.1 L201.2,152.5 L202.0,150.1 L202.8,148.0 L203.6,146.3 L204.4,145.0 L205.2,144.1 L206.0,143.4 L206.8,142.8 L207.6,142.4 L208.4,142.1 L209.2,141.9 L210.0,141.7 L210.8,141.5 L211.6,141.4 L212.4,141.2 L213.2,141.1 L214.0,141.0 L214.8,140.9 L215.6,140.8 L216.4,140.7 L217.2,140.6 L218.0,140.5 L218.8,140.4 L219.6,140.3 L220.4,140.2 L221.2,140.1 L222.0,140.0 L222.8,140.0 L223.6,139.9 L224.4,139.8 L225.2,139.7 L226.0,139.6 L226.8,139.5 L227.6,139.5 L228.4,139.4 L229.2,139.3 L230.0,139.2 L230.8,139.1 L231.6,139.1 L232.4,139.0 L233.2,138.9 L234.0,138.8 L234.8,138.7 L235.6,138.6 L236.4,138.6 L237.2,138.5 L238.0,138.4 L238.8,138.3 L239.6,138.2 L240.4,138.2 L241.2,138.1 L242.0,138.0 L242.8,137.9 L243.6,137.8 L244.4,137.8 L245.2,137.7 L246.0,137.6 L246.8,137.5 L247.6,137.4 L248.4,137.4 L249.2,137.3 L250.0,137.2 L250.8,137.1 L251.6,137.0 L252.4,137.0 L253.2,136.9 L254.0,136.8 L254.8,136.7 L255.6,136.6 L255.9,136.6 L255.9,179.4 L255.6,179.4 L254.8,179.3 L254.0,179.2 L253.2,179.1 L252.4,179.0 L251.6,179.0 L250.8,178.9 L250.0,178.8 L249.2,178.7 L248.4,178.6 L247.6,178.6 L246.8,178.5 L246.0,178.4 L245.2,178.3 L244.4,178.2 L243.6,178.2 L242.8,178.1 L242.0,178.0 L241.2,177.9 L240.4,177.8 L239.6,177.8 L238.8,177.7 L238.0,177.6 L237.2,177.5 L236.4,177.4 L235.6,177.4 L234.8,177.3 L234.0,177.2 L233.2,177.1 L232.4,177.0 L231.6,176.9 L230.8,176.9 L230.0,176.8 L229.2,176.7 L228.4,176.6 L227.6,176.5 L226.8,176.5 L226.0,176.4 L225.2,176.3 L224.4,176.2 L223.6,176.1 L222.8,176.0 L222.0,176.0 L221.2,175.9 L220.4,175.8 L219.6,175.7 L218.8,175.6 L218.0,175.5 L217.2,175.4 L216.4,175.3 L215.6,175.2 L214.8,175.1 L214.0,175.0 L213.2,174.9 L212.4,174.8 L211.6,174.6 L210.8,174.5 L210.0,174.3 L209.2,174.1 L208.4,173.8 L207.6,173.5 L206.8,173.1 L206.0,172.6 L205.2,171.8 L204.4,170.9 L203.6,169.5 L202.8,167.7 L202.0,165.6 L201.2,163.1 L200.4,160.4 L199.6,157.7 Z" fill="#a8dc8a" stroke="#e68b7c" stroke-width="0.6"/>
<path d="M207.2,157.7 L208.0,155.2 L208.8,152.7 L209.6,150.3 L210.4,148.3 L211.2,146.6 L212.0,145.2 L212.8,144.3 L213.6,143.5 L214.4,143.0 L215.2,142.6 L216.0,142.2 L216.8,142.0 L217.6,141.8 L218.4,141.6 L219.2,141.4 L220.0,141.3 L220.8,141.2 L221.6,141.0 L222.4,140.9 L223.2,140.8 L224.0,140.7 L224.8,140.6 L225.6,140.5 L226.4,140.4 L227.2,140.4 L228.0,140.3 L228.8,140.2 L229.6,140.1 L230.4,140.0 L231.2,139.9 L232.0,139.8 L232.8,139.8 L233.6,139.7 L234.4,139.6 L235.2,139.5 L236.0,139.4 L236.8,139.3 L237.6,139.3 L238.4,139.2 L239.2,139.1 L240.0,139.0 L240.8,138.9 L241.6,138.8 L242.4,138.8 L243.2,138.7 L244.0,138.6 L244.8,138.5 L245.6,138.4 L246.4,138.4 L247.2,138.3 L248.0,138.2 L248.8,138.1 L249.6,138.0 L250.4,138.0 L251.2,137.9 L252.0,137.8 L252.8,137.7 L253.6,137.6 L254.4,137.6 L255.2,137.5 L255.9,137.4 L255.9,178.6 L255.2,178.5 L254.4,178.4 L253.6,178.4 L252.8,178.3 L252.0,178.2 L251.2,178.1 L250.4,178.0 L249.6,178.0 L248.8,177.9 L248.0,177.8 L247.2,177.7 L246.4,177.6 L245.6,177.6 L244.8,177.5 L244.0,177.4 L243.2,177.3 L242.4,177.2 L241.6,177.2 L240.8,177.1 L240.0,177.0 L239.2,176.9 L238.4,176.8 L237.6,176.7 L236.8,176.7 L236.0,176.6 L235.2,176.5 L234.4,176.4 L233.6,176.3 L232.8,176.2 L232.0,176.2 L231.2,176.1 L230.4,176.0 L229.6,175.9 L228.8,175.8 L228.0,175.7 L227.2,175.6 L226.4,175.5 L225.6,175.5 L224.8,175.4 L224.0,175.3 L223.2,175.2 L222.4,175.1 L221.6,174.9 L220.8,174.8 L220.0,174.7 L219.2,174.5 L218.4,174.4 L217.6,174.2 L216.8,174.0 L216.0,173.7 L215.2,173.4 L214.4,173.0 L213.6,172.4 L212.8,171.6 L212.0,170.6 L211.2,169.3 L210.4,167.5 L209.6,165.3 L208.8,162.9 L208.0,160.3 L207.2,157.7 Z" fill="#acb676" stroke="#e68b7c" stroke-width="0.6"/>
<path d="M215.6,158.0 L216.4,157.7 L217.2,157.4 L218.0,157.0 L218.8,156.8 L219.6,156.5 L220.4,156.4 L221.2,156.2 L222.0,156.1 L222.8,156.0 L223.6,155.9 L224.4,155.9 L225.2,155.8 L226.0,155.7 L226.8,155.7 L227.6,155.6 L228.4,155.6 L229.2,155.5 L230.0,155.5 L230.8,155.4 L231.6,155.4 L232.4,155.3 L233.2,155.3 L234.0,155.2 L234.8,155.2 L235.6,155.1 L236.4,155.1 L237.2,155.0 L238.0,155.0 L238.8,154.9 L239.6,154.9 L240.4,154.8 L241.2,154.8 L242.0,154.7 L242.8,154.7 L243.6,154.6 L244.4,154.6 L245.2,154.5 L246.0,154.5 L246.8,154.4 L247.6,154.4 L248.4,154.4 L249.2,154.3 L250.0,154.3 L250.8,154.2 L251.6,154.2 L252.4,154.1 L253.2,154.1 L254.0,154.0 L254.8,154.0 L255.6,153.9 L255.9,153.9 L255.9,162.1 L255.6,162.1 L254.8,162.0 L254.0,162.0 L253.2,161.9 L252.4,161.9 L251.6,161.8 L250.8,161.8 L250.0,161.7 L249.2,161.7 L248.4,161.6 L247.6,161.6 L246.8,161.6 L246.0,161.5 L245.2,161.5 L244.4,161.4 L243.6,161.4 L242.8,161.3 L242.0,161.3 L241.2,161.2 L240.4,161.2 L239.6,161.1 L238.8,161.1 L238.0,161.0 L237.2,161.0 L236.4,160.9 L235.6,160.9 L234.8,160.8 L234.0,160.8 L233.2,160.7 L232.4,160.7 L231.6,160.6 L230.8,160.6 L230.0,160.5 L229.2,160.5 L228.4,160.4 L227.6,160.4 L226.8,160.3 L226.0,160.3 L225.2,160.2 L224.4,160.1 L223.6,160.1 L222.8,160.0 L222.0,159.9 L221.2,159.8 L220.4,159.6 L219.6,159.5 L218.8,159.2 L218.0,159.0 L217.2,158.6 L216.4,158.3 L215.6,158.0 Z" fill="#5cc486" stroke="#e68b7c" stroke-width="0.6"/>
<text x="197.30" y="160.58" font-size="8" text-anchor="middle" fill="#111" >1</text>
<text x="204.40" y="160.58" font-size="8" text-anchor="middle" fill="#111" >4</text>
<text x="211.70" y="160.58" font-size="8" text-anchor="middle" fill="#111" >5</text>
<text x="219.00" y="160.58" font-size="8" text-anchor="middle" fill="#111" >6</text>
<path d="M191.9,208.9 L192.7,206.2 L193.5,203.5 L194.3,201.1 L195.1,198.9 L195.9,197.2 L196.7,195.9 L197.5,195.0 L198.3,194.3 L199.1,193.8 L199.9,193.4 L200.7,193.2 L201.5,192.9 L202.3,192.7 L203.1,192.6 L203.9,192.4 L204.7,192.3 L205.5,192.2 L206.3,192.0 L207.1,191.9 L207.9,191.8 L208.7,191.7 L209.5,191.6 L210.3,191.6 L211.1,191.5 L211.9,191.4 L212.7,191.3 L213.5,191.2 L214.3,191.1 L215.1,191.0 L215.9,190.9 L216.7,190.9 L217.5,190.8 L218.3,190.7 L219.1,190.6 L219.9,190.5 L220.7,190.4 L221.5,190.4 L222.3,190.3 L223.1,190.2 L223.9,190.1 L224.7,190.0 L225.5,190.0 L226.3,189.9 L227.1,189.8 L227.9,189.7 L228.7,189.6 L229.5,189.6 L230.3,189.5 L231.1,189.4 L231.9,189.3 L232.7,189.2 L233.5,189.1 L234.3,189.1 L235.1,189.0 L235.9,188.9 L236.7,188.8 L237.5,188.7 L238.3,188.7 L239.1,188.6 L239.9,188.5 L240.7,188.4 L241.5,188.3 L242.3,188.3 L243.1,188.2 L243.9,188.1 L244.7,188.0 L245.5,187.9 L246.3,187.9 L247.1,187.8 L247.9,187.7 L248.7,187.6 L249.5,187.5 L250.3,187.5 L251.1,187.4 L251.9,187.3 L252.7,187.2 L253.5,187.1 L254.3,187.1 L255.1,187.0 L255.9,186.9 L255.9,186.9 L255.9,231.6 L255.9,231.6 L255.1,231.5 L254.3,231.4 L253.5,231.4 L252.7,231.3 L251.9,231.2 L251.1,231.1 L250.3,231.0 L249.5,231.0 L248.7,230.9 L247.9,230.8 L247.1,230.7 L246.3,230.6 L245.5,230.6 L244.7,230.5 L243.9,230.4 L243.1,230.3 L242.3,230.2 L241.5,230.2 L240.7,230.1 L239.9,230.0 L239.1,229.9 L238.3,229.8 L237.5,229.8 L236.7,229.7 L235.9,229.6 L235.1,229.5 L234.3,229.4 L233.5,229.4 L232.7,229.3 L231.9,229.2 L231.1,229.1 L230.3,229.0 L229.5,228.9 L228.7,228.9 L227.9,228.8 L227.1,228.7 L226.3,228.6 L225.5,228.5 L224.7,228.5 L223.9,228.4 L223.1,228.3 L222.3,228.2 L221.5,228.1 L220.7,228.1 L219.9,228.0 L219.1,227.9 L218.3,227.8 L217.5,227.7 L216.7,227.6 L215.9,227.6 L215.1,227.5 L214.3,227.4 L213.5,227.3 L212.7,227.2 L211.9,227.1 L211.1,227.0 L210.3,226.9 L209.5,226.9 L208.7,226.8 L207.9,226.7 L207.1,226.6 L206.3,226.4 L205.5,226.3 L204.7,226.2 L203.9,226.1 L203.1,225.9 L202.3,225.8 L201.5,225.6 L200.7,225.3 L199.9,225.0 L199.1,224.6 L198.3,224.1 L197.5,223.4 L196.7,222.4 L195.9,221.1 L195.1,219.3 L194.3,217.1 L193.5,214.5 L192.7,211.7 L191.9,208.9 Z" fill="#9ccad8" stroke="#e68b7c" stroke-width="0.6"/>
<path d="M199.6,208.9 L200.4,206.3 L201.2,203.7 L202.0,201.2 L202.8,199.1 L203.6,197.4 L204.4,196.1 L205.2,195.1 L206.0,194.4 L206.8,193.9 L207.6,193.5 L208.4,193.2 L209.2,192.9 L210.0,192.7 L210.8,192.5 L211.6,192.4 L212.4,192.2 L213.2,192.1 L214.0,192.0 L214.8,191.9 L215.6,191.8 L216.4,191.7 L217.2,191.6 L218.0,191.5 L218.8,191.4 L219.6,191.3 L220.4,191.2 L221.2,191.1 L222.0,191.0 L222.8,191.0 L223.6,190.9 L224.4,190.8 L225.2,190.7 L226.0,190.6 L226.8,190.5 L227.6,190.5 L228.4,190.4 L229.2,190.3 L230.0,190.2 L230.8,190.1 L231.6,190.1 L232.4,190.0 L233.2,189.9 L234.0,189.8 L234.8,189.7 L235.6,189.6 L236.4,189.6 L237.2,189.5 L238.0,189.4 L238.8,189.3 L239.6,189.2 L240.4,189.2 L241.2,189.1 L242.0,189.0 L242.8,188.9 L243.6,188.8 L244.4,188.8 L245.2,188.7 L246.0,188.6 L246.8,188.5 L247.6,188.4 L248.4,188.4 L249.2,188.3 L250.0,188.2 L250.8,188.1 L251.6,188.0 L252.4,188.0 L253.2,187.9 L254.0,187.8 L254.8,187.7 L255.6,187.6 L255.9,187.6 L255.9,230.9 L255.6,230.9 L254.8,230.8 L254.0,230.7 L253.2,230.6 L252.4,230.5 L251.6,230.5 L250.8,230.4 L250.0,230.3 L249.2,230.2 L248.4,230.1 L247.6,230.1 L246.8,230.0 L246.0,229.9 L245.2,229.8 L244.4,229.7 L243.6,229.7 L242.8,229.6 L242.0,229.5 L241.2,229.4 L240.4,229.3 L239.6,229.3 L238.8,229.2 L238.0,229.1 L237.2,229.0 L236.4,228.9 L235.6,228.9 L234.8,228.8 L234.0,228.7 L233.2,228.6 L232.4,228.5 L231.6,228.4 L230.8,228.4 L230.0,228.3 L229.2,228.2 L228.4,228.1 L227.6,228.0 L226.8,228.0 L226.0,227.9 L225.2,227.8 L224.4,227.7 L223.6,227.6 L222.8,227.5 L222.0,227.4 L221.2,227.4 L220.4,227.3 L219.6,227.2 L218.8,227.1 L218.0,227.0 L217.2,226.9 L216.4,226.8 L215.6,226.7 L214.8,226.6 L214.0,226.5 L213.2,226.4 L212.4,226.3 L211.6,226.1 L210.8,226.0 L210.0,225.8 L209.2,225.6 L208.4,225.3 L207.6,225.0 L206.8,224.6 L206.0,224.0 L205.2,223.3 L204.4,222.3 L203.6,220.9 L202.8,219.1 L202.0,216.9 L201.2,214.4 L200.4,211.6 L199.6,208.9 Z" fill="#a8dc8a" stroke="#e68b7c" stroke-width="0.6"/>
<path d="M207.8,208.9 L208.6,206.3 L209.4,203.8 L210.2,201.4 L211.0,199.3 L211.8,197.5 L212.6,196.2 L213.4,195.2 L214.2,194.4 L215.0,193.9 L215.8,193.4 L216.6,193.1 L217.4,192.8 L218.2,192.6 L219.0,192.4 L219.8,192.3 L220.6,192.1 L221.4,192.0 L222.2,191.9 L223.0,191.8 L223.8,191.7 L224.6,191.6 L225.4,191.5 L226.2,191.4 L227.0,191.3 L227.8,191.2 L228.6,191.1 L229.4,191.0 L230.2,190.9 L231.0,190.8 L231.8,190.8 L232.6,190.7 L233.4,190.6 L234.2,190.5 L235.0,190.4 L235.8,190.3 L236.6,190.3 L237.4,190.2 L238.2,190.1 L239.0,190.0 L239.8,189.9 L240.6,189.9 L241.4,189.8 L242.2,189.7 L243.0,189.6 L243.8,189.5 L244.6,189.4 L245.4,189.4 L246.2,189.3 L247.0,189.2 L247.8,189.1 L248.6,189.0 L249.4,189.0 L250.2,188.9 L251.0,188.8 L251.8,188.7 L252.6,188.6 L253.4,188.6 L254.2,188.5 L255.0,188.4 L255.8,188.3 L255.9,188.3 L255.9,230.2 L255.8,230.2 L255.0,230.1 L254.2,230.0 L253.4,229.9 L252.6,229.9 L251.8,229.8 L251.0,229.7 L250.2,229.6 L249.4,229.5 L248.6,229.5 L247.8,229.4 L247.0,229.3 L246.2,229.2 L245.4,229.1 L244.6,229.1 L243.8,229.0 L243.0,228.9 L242.2,228.8 L241.4,228.7 L240.6,228.6 L239.8,228.6 L239.0,228.5 L238.2,228.4 L237.4,228.3 L236.6,228.2 L235.8,228.2 L235.0,228.1 L234.2,228.0 L233.4,227.9 L232.6,227.8 L231.8,227.7 L231.0,227.7 L230.2,227.6 L229.4,227.5 L228.6,227.4 L227.8,227.3 L227.0,227.2 L226.2,227.1 L225.4,227.0 L224.6,226.9 L223.8,226.8 L223.0,226.7 L222.2,226.6 L221.4,226.5 L220.6,226.3 L219.8,226.2 L219.0,226.0 L218.2,225.8 L217.4,225.6 L216.6,225.4 L215.8,225.0 L215.0,224.6 L214.2,224.0 L213.4,223.2 L212.6,222.2 L211.8,220.8 L211.0,219.0 L210.2,216.8 L209.4,214.2 L208.6,211.6 L207.8,208.9 Z" fill="#c8c8c8" stroke="#e68b7c" stroke-width="0.6"/>
<path d="M215.6,206.0 L216.4,203.9 L217.2,201.7 L218.0,199.8 L218.8,198.0 L219.6,196.7 L220.4,195.6 L221.2,194.8 L222.0,194.3 L222.8,193.9 L223.6,193.6 L224.4,193.3 L225.2,193.2 L226.0,193.0 L226.8,192.9 L227.6,192.8 L228.4,192.7 L229.2,192.6 L230.0,192.5 L230.8,192.4 L231.6,192.4 L232.4,192.3 L233.2,192.3 L234.0,192.2 L234.8,192.1 L235.6,192.1 L236.4,192.0 L237.2,192.0 L238.0,191.9 L238.8,191.9 L239.6,191.8 L240.4,191.8 L241.2,191.7 L242.0,191.7 L242.8,191.6 L243.6,191.6 L244.4,191.5 L245.2,191.5 L246.0,191.4 L246.8,191.4 L247.6,191.3 L248.4,191.3 L249.2,191.2 L250.0,191.2 L250.8,191.1 L251.6,191.1 L252.4,191.0 L253.2,191.0 L254.0,190.9 L254.8,190.9 L255.6,190.8 L255.9,190.8 L255.9,213.0 L255.6,213.0 L254.8,212.9 L254.0,212.9 L253.2,212.9 L252.4,212.8 L251.6,212.8 L250.8,212.7 L250.0,212.7 L249.2,212.7 L248.4,212.6 L247.6,212.6 L246.8,212.5 L246.0,212.5 L245.2,212.5 L244.4,212.4 L243.6,212.4 L242.8,212.3 L242.0,212.3 L241.2,212.3 L240.4,212.2 L239.6,212.2 L238.8,212.1 L238.0,212.1 L237.2,212.0 L236.4,212.0 L235.6,212.0 L234.8,211.9 L234.0,211.9 L233.2,211.8 L232.4,211.8 L231.6,211.7 L230.8,211.7 L230.0,211.6 L229.2,211.6 L228.4,211.5 L227.6,211.5 L226.8,211.4 L226.0,211.3 L225.2,211.3 L224.4,211.2 L223.6,211.0 L222.8,210.9 L222.0,210.7 L221.2,210.5 L220.4,210.2 L219.6,209.7 L218.8,209.2 L218.0,208.5 L217.2,207.7 L216.4,206.8 L215.6,206.0 Z" fill="#bba4d6" stroke="#e68b7c" stroke-width="0.6"/>
<path d="M223.0,203.6 L223.8,202.6 L224.6,201.5 L225.4,200.6 L226.2,199.8 L227.0,199.1 L227.8,198.7 L228.6,198.4 L229.4,198.1 L230.2,197.9 L231.0,197.8 L231.8,197.7 L232.6,197.6 L233.4,197.5 L234.2,197.4 L235.0,197.4 L235.8,197.3 L236.6,197.2 L237.4,197.2 L238.2,197.1 L239.0,197.1 L239.8,197.0 L240.6,197.0 L241.4,196.9 L242.2,196.8 L243.0,196.8 L243.8,196.7 L244.6,196.7 L245.4,196.6 L246.2,196.6 L247.0,196.5 L247.8,196.5 L248.6,196.4 L249.4,196.4 L250.2,196.4 L251.0,196.3 L251.8,196.3 L252.6,196.2 L253.4,196.2 L254.2,196.1 L255.0,196.1 L255.8,196.0 L255.9,196.0 L255.9,210.6 L255.8,210.6 L255.0,210.5 L254.2,210.5 L253.4,210.4 L252.6,210.4 L251.8,210.3 L251.0,210.3 L250.2,210.2 L249.4,210.2 L248.6,210.2 L247.8,210.1 L247.0,210.1 L246.2,210.0 L245.4,210.0 L244.6,209.9 L243.8,209.9 L243.0,209.8 L242.2,209.8 L241.4,209.7 L240.6,209.7 L239.8,209.6 L239.0,209.5 L238.2,209.5 L237.4,209.4 L236.6,209.4 L235.8,209.3 L235.0,209.3 L234.2,209.2 L233.4,209.1 L232.6,209.0 L231.8,208.9 L231.0,208.8 L230.2,208.7 L229.4,208.5 L228.6,208.3 L227.8,208.0 L227.0,207.6 L226.2,207.0 L225.4,206.3 L224.6,205.5 L223.8,204.5 L223.0,203.6 Z" fill="#c9843a" stroke="#e68b7c" stroke-width="0.6"/>
<path d="M223.0,215.9 L223.8,215.4 L224.6,214.9 L225.4,214.5 L226.2,214.2 L227.0,214.0 L227.8,213.8 L228.6,213.7 L229.4,213.7 L230.2,213.6 L231.0,213.6 L231.8,213.5 L232.6,213.5 L233.4,213.5 L234.2,213.5 L235.0,213.4 L235.8,213.4 L236.6,213.4 L237.4,213.4 L238.2,213.4 L239.0,213.3 L239.8,213.3 L240.6,213.3 L241.4,213.3 L242.2,213.3 L243.0,213.3 L243.8,213.2 L244.6,213.2 L245.4,213.2 L246.2,213.2 L247.0,213.2 L247.8,213.2 L248.6,213.1 L249.4,213.1 L250.2,213.1 L251.0,213.1 L251.8,213.1 L252.6,213.1 L253.4,213.1 L254.2,213.0 L255.0,213.0 L255.8,213.0 L255.9,213.0 L255.9,218.2 L255.8,218.2 L255.0,218.2 L254.2,218.2 L253.4,218.1 L252.6,218.1 L251.8,218.1 L251.0,218.1 L250.2,218.1 L249.4,218.1 L248.6,218.1 L247.8,218.0 L247.0,218.0 L246.2,218.0 L245.4,218.0 L244.6,218.0 L243.8,218.0 L243.0,217.9 L242.2,217.9 L241.4,217.9 L240.6,217.9 L239.8,217.9 L239.0,217.9 L238.2,217.8 L237.4,217.8 L236.6,217.8 L235.8,217.8 L235.0,217.8 L234.2,217.7 L233.4,217.7 L232.6,217.7 L231.8,217.7 L231.0,217.6 L230.2,217.6 L229.4,217.6 L228.6,217.5 L227.8,217.4 L227.0,217.3 L226.2,217.2 L225.4,216.9 L224.6,216.6 L223.8,216.3 L223.0,215.9 Z" fill="#d08fcf" stroke="#e68b7c" stroke-width="0.6"/>
<path d="M214.8,224.6 L215.6,224.1 L216.4,223.7 L217.2,223.3 L218.0,222.9 L218.8,222.6 L219.6,222.4 L220.4,222.2 L221.2,222.1 L222.0,222.0 L222.8,222.0 L223.6,221.9 L224.4,221.8 L225.2,221.8 L226.0,221.8 L226.8,221.7 L227.6,221.7 L228.4,221.6 L229.2,221.6 L230.0,221.6 L230.8,221.5 L231.6,221.5 L232.4,221.5 L233.2,221.4 L234.0,221.4 L234.8,221.4 L235.6,221.3 L236.4,221.3 L237.2,221.3 L238.0,221.2 L238.8,221.2 L239.6,221.2 L240.4,221.1 L241.2,221.1 L242.0,221.1 L242.8,221.0 L243.6,221.0 L244.4,221.0 L245.2,220.9 L246.0,220.9 L246.8,220.9 L247.6,220.8 L248.4,220.8 L249.2,220.8 L250.0,220.7 L250.8,220.7 L251.6,220.7 L252.4,220.6 L253.2,220.6 L254.0,220.6 L254.8,220.5 L255.6,220.5 L255.9,220.5 L255.9,231.0 L255.6,231.0 L254.8,230.9 L254.0,230.9 L253.2,230.8 L252.4,230.8 L251.6,230.7 L250.8,230.6 L250.0,230.6 L249.2,230.5 L248.4,230.5 L247.6,230.4 L246.8,230.4 L246.0,230.3 L245.2,230.2 L244.4,230.2 L243.6,230.1 L242.8,230.1 L242.0,230.0 L241.2,230.0 L240.4,229.9 L239.6,229.8 L238.8,229.8 L238.0,229.7 L237.2,229.7 L236.4,229.6 L235.6,229.6 L234.8,229.5 L234.0,229.4 L233.2,229.4 L232.4,229.3 L231.6,229.3 L230.8,229.2 L230.0,229.2 L229.2,229.1 L228.4,229.0 L227.6,229.0 L226.8,228.9 L226.0,228.8 L225.2,228.8 L224.4,228.7 L223.6,228.6 L222.8,228.5 L222.0,228.4 L221.2,228.2 L220.4,228.0 L219.6,227.8 L218.8,227.5 L218.0,227.1 L217.2,226.5 L216.4,225.9 L215.6,225.3 L214.8,224.6 Z" fill="#ea8a8d" stroke="#e68b7c" stroke-width="0.6"/>
<text x="197.30" y="211.78" font-size="8" text-anchor="middle" fill="#111" >1</text>
<text x="204.40" y="211.78" font-size="8" text-anchor="middle" fill="#111" >4</text>
<text x="211.70" y="211.78" font-size="8" text-anchor="middle" fill="#111" >7</text>
<text x="218.80" y="208.38" font-size="8" text-anchor="middle" fill="#111" >8</text>
<text x="228.40" y="206.38" font-size="8" text-anchor="middle" fill="#111" >9</text>
<text x="230.60" y="218.28" font-size="8" text-anchor="middle" fill="#111" >11</text>
<text x="221.00" y="227.68" font-size="8" text-anchor="middle" fill="#111" >10</text>
<text x="0" y="0" font-size="7.3" fill="#222" text-anchor="middle" transform="translate(370,98) rotate(-90)">P14_1</text>
<path d="M380.1,97.0 L380.9,94.9 L381.7,92.8 L382.5,90.8 L383.3,88.9 L384.1,87.3 L384.9,85.9 L385.7,84.8 L386.5,83.9 L387.3,83.2 L388.1,82.7 L388.9,82.3 L389.7,82.0 L390.5,81.7 L391.3,81.4 L392.1,81.3 L392.9,81.1 L393.7,80.9 L394.5,80.8 L395.3,80.7 L396.1,80.5 L396.9,80.4 L397.7,80.3 L398.5,80.2 L399.3,80.1 L400.1,80.0 L400.9,79.9 L401.7,79.8 L402.5,79.7 L403.3,79.6 L404.1,79.6 L404.9,79.5 L405.7,79.4 L406.5,79.3 L407.3,79.2 L408.1,79.1 L408.9,79.0 L409.7,79.0 L410.5,78.9 L411.3,78.8 L412.1,78.7 L412.9,78.6 L413.7,78.6 L414.5,78.5 L415.3,78.4 L416.1,78.3 L416.9,78.2 L417.7,78.1 L418.5,78.1 L419.3,78.0 L420.1,77.9 L420.9,77.8 L421.7,77.7 L422.5,77.7 L423.3,77.6 L424.1,77.5 L424.9,77.4 L425.7,77.3 L426.5,77.3 L427.3,77.2 L428.1,77.1 L428.9,77.0 L429.7,76.9 L430.5,76.9 L431.3,76.8 L432.1,76.7 L432.9,76.6 L433.7,76.5 L434.5,76.4 L435.3,76.4 L436.1,76.3 L436.9,76.2 L437.7,76.1 L438.5,76.0 L439.3,76.0 L440.1,75.9 L440.9,75.8 L441.7,75.7 L442.5,75.6 L442.9,75.6 L442.9,119.3 L442.5,119.3 L441.7,119.2 L440.9,119.1 L440.1,119.0 L439.3,118.9 L438.5,118.9 L437.7,118.8 L436.9,118.7 L436.1,118.6 L435.3,118.5 L434.5,118.5 L433.7,118.4 L432.9,118.3 L432.1,118.2 L431.3,118.1 L430.5,118.0 L429.7,118.0 L428.9,117.9 L428.1,117.8 L427.3,117.7 L426.5,117.6 L425.7,117.6 L424.9,117.5 L424.1,117.4 L423.3,117.3 L422.5,117.2 L421.7,117.2 L420.9,117.1 L420.1,117.0 L419.3,116.9 L418.5,116.8 L417.7,116.8 L416.9,116.7 L416.1,116.6 L415.3,116.5 L414.5,116.4 L413.7,116.3 L412.9,116.3 L412.1,116.2 L411.3,116.1 L410.5,116.0 L409.7,115.9 L408.9,115.8 L408.1,115.8 L407.3,115.7 L406.5,115.6 L405.7,115.5 L404.9,115.4 L404.1,115.3 L403.3,115.2 L402.5,115.2 L401.7,115.1 L400.9,115.0 L400.1,114.9 L399.3,114.8 L398.5,114.7 L397.7,114.6 L396.9,114.5 L396.1,114.3 L395.3,114.2 L394.5,114.1 L393.7,114.0 L392.9,113.8 L392.1,113.6 L391.3,113.4 L390.5,113.2 L389.7,112.9 L388.9,112.5 L388.1,112.1 L387.3,111.6 L386.5,110.8 L385.7,109.9 L384.9,108.8 L384.1,107.3 L383.3,105.6 L382.5,103.6 L381.7,101.4 L380.9,99.2 L380.1,97.0 Z" fill="#a8dc8a" stroke="#e68b7c" stroke-width="0.6"/>
<path d="M389.3,88.4 L390.1,87.2 L390.9,86.0 L391.7,84.8 L392.5,83.8 L393.3,82.9 L394.1,82.2 L394.9,81.6 L395.7,81.2 L396.5,80.9 L397.3,80.6 L398.1,80.5 L398.9,80.3 L399.7,80.2 L400.5,80.1 L401.3,80.0 L402.1,79.9 L402.9,79.9 L403.7,79.8 L404.5,79.8 L405.3,79.7 L406.1,79.7 L406.9,79.6 L407.7,79.6 L408.5,79.5 L409.3,79.5 L410.1,79.5 L410.9,79.4 L411.7,79.4 L412.5,79.4 L413.3,79.3 L414.1,79.3 L414.9,79.2 L415.7,79.2 L416.5,79.2 L417.3,79.1 L418.1,79.1 L418.9,79.1 L419.7,79.0 L420.5,79.0 L421.3,79.0 L422.1,78.9 L422.9,78.9 L423.7,78.9 L424.5,78.8 L425.3,78.8 L426.1,78.8 L426.9,78.7 L427.7,78.7 L428.5,78.7 L429.3,78.7 L430.1,78.6 L430.9,78.6 L431.7,78.6 L432.5,78.5 L433.3,78.5 L434.1,78.5 L434.9,78.4 L435.7,78.4 L436.5,78.4 L437.3,78.3 L438.1,78.3 L438.9,78.3 L439.7,78.2 L440.5,78.2 L441.3,78.2 L442.1,78.1 L442.9,78.1 L442.9,98.1 L442.1,98.0 L441.3,97.9 L440.5,97.8 L439.7,97.7 L438.9,97.7 L438.1,97.6 L437.3,97.5 L436.5,97.4 L435.7,97.3 L434.9,97.2 L434.1,97.1 L433.3,97.0 L432.5,96.9 L431.7,96.9 L430.9,96.8 L430.1,96.7 L429.3,96.6 L428.5,96.5 L427.7,96.4 L426.9,96.3 L426.1,96.2 L425.3,96.1 L424.5,96.1 L423.7,96.0 L422.9,95.9 L422.1,95.8 L421.3,95.7 L420.5,95.6 L419.7,95.5 L418.9,95.4 L418.1,95.3 L417.3,95.3 L416.5,95.2 L415.7,95.1 L414.9,95.0 L414.1,94.9 L413.3,94.8 L412.5,94.7 L411.7,94.6 L410.9,94.5 L410.1,94.4 L409.3,94.3 L408.5,94.2 L407.7,94.1 L406.9,94.0 L406.1,93.9 L405.3,93.8 L404.5,93.7 L403.7,93.6 L402.9,93.5 L402.1,93.4 L401.3,93.3 L400.5,93.1 L399.7,93.0 L398.9,92.8 L398.1,92.7 L397.3,92.5 L396.5,92.2 L395.7,91.9 L394.9,91.6 L394.1,91.2 L393.3,90.8 L392.5,90.4 L391.7,89.9 L390.9,89.4 L390.1,88.9 L389.3,88.4 Z" fill="#bba4d6" stroke="#e68b7c" stroke-width="0.6"/>
<path d="M389.3,108.8 L390.1,108.2 L390.9,107.5 L391.7,106.9 L392.5,106.4 L393.3,105.9 L394.1,105.6 L394.9,105.4 L395.7,105.2 L396.5,105.0 L397.3,104.8 L398.1,104.7 L398.9,104.6 L399.7,104.5 L400.5,104.4 L401.3,104.3 L402.1,104.2 L402.9,104.1 L403.7,104.0 L404.5,103.9 L405.3,103.8 L406.1,103.7 L406.9,103.6 L407.7,103.5 L408.5,103.4 L409.3,103.3 L410.1,103.3 L410.9,103.2 L411.7,103.1 L412.5,103.0 L413.3,102.9 L414.1,102.8 L414.9,102.7 L415.7,102.6 L416.5,102.5 L417.3,102.4 L418.1,102.4 L418.9,102.3 L419.7,102.2 L420.5,102.1 L421.3,102.0 L422.1,101.9 L422.9,101.8 L423.7,101.7 L424.5,101.6 L425.3,101.6 L426.1,101.5 L426.9,101.4 L427.7,101.3 L428.5,101.2 L429.3,101.1 L430.1,101.0 L430.9,100.9 L431.7,100.8 L432.5,100.8 L433.3,100.7 L434.1,100.6 L434.9,100.5 L435.7,100.4 L436.5,100.3 L437.3,100.2 L438.1,100.1 L438.9,100.0 L439.7,100.0 L440.5,99.9 L441.3,99.8 L442.1,99.7 L442.9,99.6 L442.9,119.5 L442.1,119.4 L441.3,119.3 L440.5,119.2 L439.7,119.1 L438.9,119.0 L438.1,118.8 L437.3,118.7 L436.5,118.6 L435.7,118.5 L434.9,118.4 L434.1,118.3 L433.3,118.2 L432.5,118.1 L431.7,118.0 L430.9,117.9 L430.1,117.8 L429.3,117.7 L428.5,117.5 L427.7,117.4 L426.9,117.3 L426.1,117.2 L425.3,117.1 L424.5,117.0 L423.7,116.9 L422.9,116.8 L422.1,116.7 L421.3,116.6 L420.5,116.5 L419.7,116.4 L418.9,116.2 L418.1,116.1 L417.3,116.0 L416.5,115.9 L415.7,115.8 L414.9,115.7 L414.1,115.6 L413.3,115.5 L412.5,115.4 L411.7,115.3 L410.9,115.1 L410.1,115.0 L409.3,114.9 L408.5,114.8 L407.7,114.7 L406.9,114.6 L406.1,114.5 L405.3,114.3 L404.5,114.2 L403.7,114.1 L402.9,114.0 L402.1,113.9 L401.3,113.7 L400.5,113.6 L399.7,113.4 L398.9,113.3 L398.1,113.1 L397.3,112.9 L396.5,112.7 L395.7,112.5 L394.9,112.2 L394.1,111.8 L393.3,111.4 L392.5,110.9 L391.7,110.4 L390.9,109.9 L390.1,109.3 L389.3,108.8 Z" fill="#9ccad8" stroke="#e68b7c" stroke-width="0.6"/>
<path d="M399.0,109.3 L399.8,108.9 L400.6,108.5 L401.4,108.1 L402.2,107.8 L403.0,107.6 L403.8,107.5 L404.6,107.4 L405.4,107.4 L406.2,107.3 L407.0,107.3 L407.8,107.3 L408.6,107.3 L409.4,107.2 L410.2,107.2 L411.0,107.2 L411.8,107.2 L412.6,107.2 L413.4,107.2 L414.2,107.1 L415.0,107.1 L415.8,107.1 L416.6,107.1 L417.4,107.1 L418.2,107.1 L419.0,107.1 L419.8,107.1 L420.6,107.0 L421.4,107.0 L422.2,107.0 L423.0,107.0 L423.8,107.0 L424.6,107.0 L425.4,107.0 L426.2,107.0 L427.0,106.9 L427.8,106.9 L428.6,106.9 L429.4,106.9 L430.2,106.9 L431.0,106.9 L431.8,106.9 L432.6,106.9 L433.4,106.8 L434.2,106.8 L435.0,106.8 L435.8,106.8 L436.6,106.8 L437.4,106.8 L438.2,106.8 L439.0,106.8 L439.8,106.7 L440.6,106.7 L441.4,106.7 L442.2,106.7 L442.9,106.7 L442.9,111.3 L442.2,111.3 L441.4,111.3 L440.6,111.3 L439.8,111.3 L439.0,111.2 L438.2,111.2 L437.4,111.2 L436.6,111.2 L435.8,111.2 L435.0,111.2 L434.2,111.2 L433.4,111.2 L432.6,111.1 L431.8,111.1 L431.0,111.1 L430.2,111.1 L429.4,111.1 L428.6,111.1 L427.8,111.1 L427.0,111.1 L426.2,111.0 L425.4,111.0 L424.6,111.0 L423.8,111.0 L423.0,111.0 L422.2,111.0 L421.4,111.0 L420.6,111.0 L419.8,111.0 L419.0,110.9 L418.2,110.9 L417.4,110.9 L416.6,110.9 L415.8,110.9 L415.0,110.9 L414.2,110.9 L413.4,110.8 L412.6,110.8 L411.8,110.8 L411.0,110.8 L410.2,110.8 L409.4,110.8 L408.6,110.8 L407.8,110.7 L407.0,110.7 L406.2,110.7 L405.4,110.7 L404.6,110.6 L403.8,110.6 L403.0,110.5 L402.2,110.3 L401.4,110.1 L400.6,109.9 L399.8,109.6 L399.0,109.3 Z" fill="#c8c8c8" stroke="#e68b7c" stroke-width="0.6"/>
<text x="395.90" y="90.52" font-size="7" text-anchor="middle" fill="#111" >5</text>
<text x="385.80" y="99.52" font-size="7" text-anchor="middle" fill="#111" >1</text>
<text x="395.90" y="112.52" font-size="7" text-anchor="middle" fill="#111" >2</text>
<text x="406.00" y="111.02" font-size="7" text-anchor="middle" fill="#111" >4</text>
<text x="0" y="0" font-size="7.3" fill="#222" text-anchor="middle" transform="translate(375.5,149.7) rotate(-90)">P14_2</text>
<path d="M379.7,148.4 L380.5,146.3 L381.3,144.2 L382.1,142.2 L382.9,140.3 L383.7,138.7 L384.5,137.3 L385.3,136.2 L386.1,135.3 L386.9,134.6 L387.7,134.1 L388.5,133.7 L389.3,133.4 L390.1,133.1 L390.9,132.8 L391.7,132.7 L392.5,132.5 L393.3,132.3 L394.1,132.2 L394.9,132.1 L395.7,131.9 L396.5,131.8 L397.3,131.7 L398.1,131.6 L398.9,131.5 L399.7,131.4 L400.5,131.3 L401.3,131.2 L402.1,131.1 L402.9,131.0 L403.7,131.0 L404.5,130.9 L405.3,130.8 L406.1,130.7 L406.9,130.6 L407.7,130.5 L408.5,130.4 L409.3,130.4 L410.1,130.3 L410.9,130.2 L411.7,130.1 L412.5,130.0 L413.3,130.0 L414.1,129.9 L414.9,129.8 L415.7,129.7 L416.5,129.6 L417.3,129.5 L418.1,129.5 L418.9,129.4 L419.7,129.3 L420.5,129.2 L421.3,129.1 L422.1,129.1 L422.9,129.0 L423.7,128.9 L424.5,128.8 L425.3,128.7 L426.1,128.7 L426.9,128.6 L427.7,128.5 L428.5,128.4 L429.3,128.3 L430.1,128.3 L430.9,128.2 L431.7,128.1 L432.5,128.0 L433.3,127.9 L434.1,127.8 L434.9,127.8 L435.7,127.7 L436.5,127.6 L437.3,127.5 L438.1,127.4 L438.9,127.4 L439.7,127.3 L440.5,127.2 L441.3,127.1 L442.1,127.0 L442.9,127.0 L443.5,126.9 L443.5,171.2 L442.9,171.1 L442.1,171.1 L441.3,171.0 L440.5,170.9 L439.7,170.8 L438.9,170.7 L438.1,170.7 L437.3,170.6 L436.5,170.5 L435.7,170.4 L434.9,170.3 L434.1,170.3 L433.3,170.2 L432.5,170.1 L431.7,170.0 L430.9,169.9 L430.1,169.8 L429.3,169.8 L428.5,169.7 L427.7,169.6 L426.9,169.5 L426.1,169.4 L425.3,169.4 L424.5,169.3 L423.7,169.2 L422.9,169.1 L422.1,169.0 L421.3,169.0 L420.5,168.9 L419.7,168.8 L418.9,168.7 L418.1,168.6 L417.3,168.6 L416.5,168.5 L415.7,168.4 L414.9,168.3 L414.1,168.2 L413.3,168.1 L412.5,168.1 L411.7,168.0 L410.9,167.9 L410.1,167.8 L409.3,167.7 L408.5,167.6 L407.7,167.6 L406.9,167.5 L406.1,167.4 L405.3,167.3 L404.5,167.2 L403.7,167.1 L402.9,167.0 L402.1,167.0 L401.3,166.9 L400.5,166.8 L399.7,166.7 L398.9,166.6 L398.1,166.5 L397.3,166.4 L396.5,166.3 L395.7,166.1 L394.9,166.0 L394.1,165.9 L393.3,165.7 L392.5,165.6 L391.7,165.4 L390.9,165.2 L390.1,165.0 L389.3,164.7 L388.5,164.3 L387.7,163.9 L386.9,163.3 L386.1,162.6 L385.3,161.6 L384.5,160.4 L383.7,159.0 L382.9,157.2 L382.1,155.1 L381.3,152.9 L380.5,150.7 L379.7,148.4 Z" fill="#a8dc8a" stroke="#e68b7c" stroke-width="0.6"/>
<path d="M389.4,148.4 L390.2,146.5 L391.0,144.6 L391.8,142.8 L392.6,141.0 L393.4,139.4 L394.2,138.0 L395.0,136.8 L395.8,135.8 L396.6,135.0 L397.4,134.3 L398.2,133.8 L399.0,133.4 L399.8,133.0 L400.6,132.7 L401.4,132.5 L402.2,132.3 L403.0,132.1 L403.8,131.9 L404.6,131.7 L405.4,131.6 L406.2,131.5 L407.0,131.4 L407.8,131.2 L408.6,131.1 L409.4,131.0 L410.2,130.9 L411.0,130.8 L411.8,130.7 L412.6,130.6 L413.4,130.5 L414.2,130.4 L415.0,130.4 L415.8,130.3 L416.6,130.2 L417.4,130.1 L418.2,130.0 L419.0,129.9 L419.8,129.8 L420.6,129.8 L421.4,129.7 L422.2,129.6 L423.0,129.5 L423.8,129.4 L424.6,129.3 L425.4,129.3 L426.2,129.2 L427.0,129.1 L427.8,129.0 L428.6,128.9 L429.4,128.8 L430.2,128.8 L431.0,128.7 L431.8,128.6 L432.6,128.5 L433.4,128.4 L434.2,128.4 L435.0,128.3 L435.8,128.2 L436.6,128.1 L437.4,128.0 L438.2,127.9 L439.0,127.9 L439.8,127.8 L440.6,127.7 L441.4,127.6 L442.2,127.5 L443.0,127.5 L443.5,127.4 L443.5,170.7 L443.0,170.6 L442.2,170.6 L441.4,170.5 L440.6,170.4 L439.8,170.3 L439.0,170.2 L438.2,170.2 L437.4,170.1 L436.6,170.0 L435.8,169.9 L435.0,169.8 L434.2,169.7 L433.4,169.7 L432.6,169.6 L431.8,169.5 L431.0,169.4 L430.2,169.3 L429.4,169.3 L428.6,169.2 L427.8,169.1 L427.0,169.0 L426.2,168.9 L425.4,168.8 L424.6,168.8 L423.8,168.7 L423.0,168.6 L422.2,168.5 L421.4,168.4 L420.6,168.3 L419.8,168.3 L419.0,168.2 L418.2,168.1 L417.4,168.0 L416.6,167.9 L415.8,167.8 L415.0,167.7 L414.2,167.6 L413.4,167.6 L412.6,167.5 L411.8,167.4 L411.0,167.3 L410.2,167.2 L409.4,167.1 L408.6,167.0 L407.8,166.8 L407.0,166.7 L406.2,166.6 L405.4,166.5 L404.6,166.3 L403.8,166.2 L403.0,166.0 L402.2,165.8 L401.4,165.6 L400.6,165.3 L399.8,165.0 L399.0,164.6 L398.2,164.2 L397.4,163.6 L396.6,162.9 L395.8,162.0 L395.0,160.9 L394.2,159.6 L393.4,158.1 L392.6,156.4 L391.8,154.5 L391.0,152.5 L390.2,150.4 L389.4,148.4 Z" fill="#bba4d6" stroke="#e68b7c" stroke-width="0.6"/>
<path d="M398.7,148.4 L399.5,146.8 L400.3,145.2 L401.1,143.6 L401.9,142.1 L402.7,140.6 L403.5,139.2 L404.3,138.0 L405.1,136.9 L405.9,136.0 L406.7,135.2 L407.5,134.5 L408.3,133.9 L409.1,133.4 L409.9,133.0 L410.7,132.7 L411.5,132.4 L412.3,132.1 L413.1,131.9 L413.9,131.7 L414.7,131.5 L415.5,131.3 L416.3,131.2 L417.1,131.0 L417.9,130.9 L418.7,130.8 L419.5,130.6 L420.3,130.5 L421.1,130.4 L421.9,130.3 L422.7,130.2 L423.5,130.1 L424.3,130.0 L425.1,129.9 L425.9,129.8 L426.7,129.7 L427.5,129.6 L428.3,129.5 L429.1,129.5 L429.9,129.4 L430.7,129.3 L431.5,129.2 L432.3,129.1 L433.1,129.0 L433.9,128.9 L434.7,128.9 L435.5,128.8 L436.3,128.7 L437.1,128.6 L437.9,128.5 L438.7,128.4 L439.5,128.4 L440.3,128.3 L441.1,128.2 L441.9,128.1 L442.7,128.0 L443.5,127.9 L443.5,127.9 L443.5,170.2 L443.5,170.2 L442.7,170.1 L441.9,170.0 L441.1,169.9 L440.3,169.8 L439.5,169.7 L438.7,169.7 L437.9,169.6 L437.1,169.5 L436.3,169.4 L435.5,169.3 L434.7,169.2 L433.9,169.2 L433.1,169.1 L432.3,169.0 L431.5,168.9 L430.7,168.8 L429.9,168.7 L429.1,168.6 L428.3,168.5 L427.5,168.5 L426.7,168.4 L425.9,168.3 L425.1,168.2 L424.3,168.1 L423.5,168.0 L422.7,167.9 L421.9,167.8 L421.1,167.7 L420.3,167.5 L419.5,167.4 L418.7,167.3 L417.9,167.2 L417.1,167.0 L416.3,166.9 L415.5,166.7 L414.7,166.6 L413.9,166.4 L413.1,166.2 L412.3,165.9 L411.5,165.6 L410.7,165.3 L409.9,165.0 L409.1,164.5 L408.3,164.0 L407.5,163.4 L406.7,162.7 L405.9,161.8 L405.1,160.8 L404.3,159.6 L403.5,158.3 L402.7,156.8 L401.9,155.2 L401.1,153.5 L400.3,151.8 L399.5,150.1 L398.7,148.4 Z" fill="#cc90cc" stroke="#e68b7c" stroke-width="0.6"/>
<text x="385.50" y="150.92" font-size="7" text-anchor="middle" fill="#111" >1</text>
<text x="394.80" y="150.92" font-size="7" text-anchor="middle" fill="#111" >5</text>
<text x="403.50" y="150.92" font-size="7" text-anchor="middle" fill="#111" >6</text>
<text x="0" y="0" font-size="7.3" fill="#222" text-anchor="middle" transform="translate(548.3,90.2) rotate(-90)">P29_1</text>
<path d="M552.1,93.1 L552.9,91.3 L553.7,89.5 L554.5,87.7 L555.3,86.0 L556.1,84.4 L556.9,83.0 L557.7,81.8 L558.5,80.8 L559.3,80.0 L560.1,79.3 L560.9,78.7 L561.7,78.3 L562.5,77.9 L563.3,77.6 L564.1,77.4 L564.9,77.1 L565.7,76.9 L566.5,76.7 L567.3,76.6 L568.1,76.4 L568.9,76.3 L569.7,76.1 L570.5,76.0 L571.3,75.9 L572.1,75.8 L572.9,75.7 L573.7,75.6 L574.5,75.5 L575.3,75.4 L576.1,75.3 L576.9,75.2 L577.7,75.1 L578.5,75.0 L579.3,74.9 L580.1,74.8 L580.9,74.7 L581.7,74.6 L582.5,74.5 L583.3,74.4 L584.1,74.3 L584.9,74.2 L585.7,74.1 L586.5,74.0 L587.3,73.9 L588.1,73.8 L588.9,73.8 L589.7,73.7 L590.5,73.6 L591.3,73.5 L592.1,73.4 L592.9,73.3 L593.7,73.2 L594.5,73.1 L595.3,73.0 L596.1,72.9 L596.9,72.9 L597.7,72.8 L598.5,72.7 L599.3,72.6 L600.1,72.5 L600.9,72.4 L601.7,72.3 L602.5,72.2 L603.3,72.1 L604.1,72.1 L604.9,72.0 L605.7,71.9 L606.5,71.8 L607.3,71.7 L608.1,71.6 L608.9,71.5 L609.7,71.4 L610.5,71.4 L611.3,71.3 L612.1,71.2 L612.9,71.1 L613.7,71.0 L614.5,70.9 L615.3,70.8 L615.4,70.8 L615.4,115.2 L615.3,115.2 L614.5,115.1 L613.7,115.0 L612.9,114.9 L612.1,114.8 L611.3,114.7 L610.5,114.6 L609.7,114.6 L608.9,114.5 L608.1,114.4 L607.3,114.3 L606.5,114.2 L605.7,114.1 L604.9,114.0 L604.1,113.9 L603.3,113.9 L602.5,113.8 L601.7,113.7 L600.9,113.6 L600.1,113.5 L599.3,113.4 L598.5,113.3 L597.7,113.2 L596.9,113.1 L596.1,113.1 L595.3,113.0 L594.5,112.9 L593.7,112.8 L592.9,112.7 L592.1,112.6 L591.3,112.5 L590.5,112.4 L589.7,112.3 L588.9,112.2 L588.1,112.2 L587.3,112.1 L586.5,112.0 L585.7,111.9 L584.9,111.8 L584.1,111.7 L583.3,111.6 L582.5,111.5 L581.7,111.4 L580.9,111.3 L580.1,111.2 L579.3,111.1 L578.5,111.0 L577.7,110.9 L576.9,110.8 L576.1,110.7 L575.3,110.6 L574.5,110.5 L573.7,110.4 L572.9,110.3 L572.1,110.2 L571.3,110.1 L570.5,110.0 L569.7,109.9 L568.9,109.7 L568.1,109.6 L567.3,109.4 L566.5,109.3 L565.7,109.1 L564.9,108.9 L564.1,108.7 L563.3,108.4 L562.5,108.1 L561.7,107.7 L560.9,107.3 L560.1,106.7 L559.3,106.1 L558.5,105.3 L557.7,104.3 L556.9,103.1 L556.1,101.7 L555.3,100.1 L554.5,98.4 L553.7,96.7 L552.9,94.9 L552.1,93.1 Z" fill="#9ccad8" stroke="#e68b7c" stroke-width="0.6"/>
<path d="M561.4,93.2 L562.2,92.9 L563.0,92.5 L563.8,92.2 L564.6,91.9 L565.4,91.7 L566.2,91.6 L567.0,91.4 L567.8,91.3 L568.6,91.3 L569.4,91.2 L570.2,91.2 L571.0,91.1 L571.8,91.1 L572.6,91.0 L573.4,91.0 L574.2,91.0 L575.0,90.9 L575.8,90.9 L576.6,90.9 L577.4,90.8 L578.2,90.8 L579.0,90.8 L579.8,90.8 L580.6,90.7 L581.4,90.7 L582.2,90.7 L583.0,90.6 L583.8,90.6 L584.6,90.6 L585.4,90.6 L586.2,90.5 L587.0,90.5 L587.8,90.5 L588.6,90.4 L589.4,90.4 L590.2,90.4 L591.0,90.4 L591.8,90.3 L592.6,90.3 L593.4,90.3 L594.2,90.2 L595.0,90.2 L595.8,90.2 L596.6,90.2 L597.4,90.1 L598.2,90.1 L599.0,90.1 L599.8,90.0 L600.6,90.0 L601.4,90.0 L602.2,90.0 L603.0,89.9 L603.8,89.9 L604.6,89.9 L605.4,89.9 L606.2,89.8 L607.0,89.8 L607.8,89.8 L608.6,89.7 L609.4,89.7 L610.2,89.7 L611.0,89.7 L611.8,89.6 L612.6,89.6 L613.4,89.6 L614.2,89.5 L615.0,89.5 L615.4,89.5 L615.4,96.9 L615.0,96.9 L614.2,96.9 L613.4,96.8 L612.6,96.8 L611.8,96.8 L611.0,96.7 L610.2,96.7 L609.4,96.7 L608.6,96.7 L607.8,96.6 L607.0,96.6 L606.2,96.6 L605.4,96.5 L604.6,96.5 L603.8,96.5 L603.0,96.5 L602.2,96.4 L601.4,96.4 L600.6,96.4 L599.8,96.4 L599.0,96.3 L598.2,96.3 L597.4,96.3 L596.6,96.2 L595.8,96.2 L595.0,96.2 L594.2,96.2 L593.4,96.1 L592.6,96.1 L591.8,96.1 L591.0,96.0 L590.2,96.0 L589.4,96.0 L588.6,96.0 L587.8,95.9 L587.0,95.9 L586.2,95.9 L585.4,95.8 L584.6,95.8 L583.8,95.8 L583.0,95.8 L582.2,95.7 L581.4,95.7 L580.6,95.7 L579.8,95.6 L579.0,95.6 L578.2,95.6 L577.4,95.6 L576.6,95.5 L575.8,95.5 L575.0,95.5 L574.2,95.4 L573.4,95.4 L572.6,95.4 L571.8,95.3 L571.0,95.3 L570.2,95.2 L569.4,95.2 L568.6,95.1 L567.8,95.1 L567.0,95.0 L566.2,94.8 L565.4,94.7 L564.6,94.5 L563.8,94.2 L563.0,93.9 L562.2,93.5 L561.4,93.2 Z" fill="#bba4d6" stroke="#e68b7c" stroke-width="0.6"/>
<text x="558.30" y="95.62" font-size="7" text-anchor="middle" fill="#111" >1</text>
<text x="571.30" y="95.62" font-size="7" text-anchor="middle" fill="#111" >3</text>
<text x="0" y="0" font-size="7.3" fill="#222" text-anchor="middle" transform="translate(548,149.1) rotate(-90)">P29_2</text>
<path d="M552.1,145.8 L552.9,144.1 L553.7,142.3 L554.5,140.6 L555.3,139.0 L556.1,137.5 L556.9,136.1 L557.7,135.0 L558.5,134.0 L559.3,133.2 L560.1,132.6 L560.9,132.1 L561.7,131.6 L562.5,131.3 L563.3,131.0 L564.1,130.7 L564.9,130.5 L565.7,130.3 L566.5,130.1 L567.3,130.0 L568.1,129.8 L568.9,129.7 L569.7,129.5 L570.5,129.4 L571.3,129.3 L572.1,129.2 L572.9,129.1 L573.7,129.0 L574.5,128.9 L575.3,128.8 L576.1,128.7 L576.9,128.6 L577.7,128.5 L578.5,128.4 L579.3,128.3 L580.1,128.2 L580.9,128.1 L581.7,128.0 L582.5,127.9 L583.3,127.8 L584.1,127.7 L584.9,127.6 L585.7,127.5 L586.5,127.4 L587.3,127.3 L588.1,127.2 L588.9,127.2 L589.7,127.1 L590.5,127.0 L591.3,126.9 L592.1,126.8 L592.9,126.7 L593.7,126.6 L594.5,126.5 L595.3,126.4 L596.1,126.3 L596.9,126.3 L597.7,126.2 L598.5,126.1 L599.3,126.0 L600.1,125.9 L600.9,125.8 L601.7,125.7 L602.5,125.6 L603.3,125.5 L604.1,125.5 L604.9,125.4 L605.7,125.3 L606.5,125.2 L607.3,125.1 L608.1,125.0 L608.9,124.9 L609.7,124.8 L610.5,124.8 L611.3,124.7 L612.1,124.6 L612.9,124.5 L613.7,124.4 L614.5,124.3 L615.3,124.2 L615.4,124.2 L615.4,168.5 L615.3,168.5 L614.5,168.4 L613.7,168.3 L612.9,168.2 L612.1,168.1 L611.3,168.0 L610.5,167.9 L609.7,167.9 L608.9,167.8 L608.1,167.7 L607.3,167.6 L606.5,167.5 L605.7,167.4 L604.9,167.3 L604.1,167.2 L603.3,167.2 L602.5,167.1 L601.7,167.0 L600.9,166.9 L600.1,166.8 L599.3,166.7 L598.5,166.6 L597.7,166.5 L596.9,166.4 L596.1,166.4 L595.3,166.3 L594.5,166.2 L593.7,166.1 L592.9,166.0 L592.1,165.9 L591.3,165.8 L590.5,165.7 L589.7,165.6 L588.9,165.5 L588.1,165.5 L587.3,165.4 L586.5,165.3 L585.7,165.2 L584.9,165.1 L584.1,165.0 L583.3,164.9 L582.5,164.8 L581.7,164.7 L580.9,164.6 L580.1,164.5 L579.3,164.4 L578.5,164.3 L577.7,164.2 L576.9,164.1 L576.1,164.0 L575.3,163.9 L574.5,163.8 L573.7,163.7 L572.9,163.6 L572.1,163.5 L571.3,163.4 L570.5,163.3 L569.7,163.1 L568.9,163.0 L568.1,162.9 L567.3,162.7 L566.5,162.5 L565.7,162.4 L564.9,162.2 L564.1,161.9 L563.3,161.7 L562.5,161.3 L561.7,161.0 L560.9,160.5 L560.1,160.0 L559.3,159.3 L558.5,158.4 L557.7,157.4 L556.9,156.2 L556.1,154.7 L555.3,153.1 L554.5,151.4 L553.7,149.5 L552.9,147.7 L552.1,145.8 Z" fill="#9ccad8" stroke="#e68b7c" stroke-width="0.6"/>
<path d="M562.0,146.1 L562.8,145.9 L563.6,145.8 L564.4,145.6 L565.2,145.4 L566.0,145.3 L566.8,145.2 L567.6,145.2 L568.4,145.1 L569.2,145.1 L570.0,145.0 L570.8,145.0 L571.6,144.9 L572.4,144.9 L573.2,144.9 L574.0,144.9 L574.8,144.8 L575.6,144.8 L576.4,144.8 L577.2,144.8 L578.0,144.7 L578.8,144.7 L579.6,144.7 L580.4,144.7 L581.2,144.6 L582.0,144.6 L582.8,144.6 L583.6,144.6 L584.4,144.5 L585.2,144.5 L586.0,144.5 L586.8,144.5 L587.6,144.4 L588.4,144.4 L589.2,144.4 L590.0,144.4 L590.8,144.3 L591.6,144.3 L592.4,144.3 L593.2,144.3 L594.0,144.2 L594.8,144.2 L595.6,144.2 L596.4,144.2 L597.2,144.1 L598.0,144.1 L598.8,144.1 L599.6,144.1 L600.4,144.1 L601.2,144.0 L602.0,144.0 L602.8,144.0 L603.6,144.0 L604.4,143.9 L605.2,143.9 L606.0,143.9 L606.8,143.9 L607.6,143.8 L608.4,143.8 L609.2,143.8 L610.0,143.8 L610.8,143.7 L611.6,143.7 L612.4,143.7 L613.2,143.7 L614.0,143.6 L614.8,143.6 L615.4,143.6 L615.4,148.7 L614.8,148.7 L614.0,148.7 L613.2,148.6 L612.4,148.6 L611.6,148.6 L610.8,148.6 L610.0,148.5 L609.2,148.5 L608.4,148.5 L607.6,148.5 L606.8,148.4 L606.0,148.4 L605.2,148.4 L604.4,148.4 L603.6,148.3 L602.8,148.3 L602.0,148.3 L601.2,148.3 L600.4,148.2 L599.6,148.2 L598.8,148.2 L598.0,148.2 L597.2,148.2 L596.4,148.1 L595.6,148.1 L594.8,148.1 L594.0,148.1 L593.2,148.0 L592.4,148.0 L591.6,148.0 L590.8,148.0 L590.0,147.9 L589.2,147.9 L588.4,147.9 L587.6,147.9 L586.8,147.8 L586.0,147.8 L585.2,147.8 L584.4,147.8 L583.6,147.7 L582.8,147.7 L582.0,147.7 L581.2,147.7 L580.4,147.6 L579.6,147.6 L578.8,147.6 L578.0,147.6 L577.2,147.5 L576.4,147.5 L575.6,147.5 L574.8,147.5 L574.0,147.4 L573.2,147.4 L572.4,147.4 L571.6,147.3 L570.8,147.3 L570.0,147.3 L569.2,147.2 L568.4,147.2 L567.6,147.1 L566.8,147.0 L566.0,146.9 L565.2,146.8 L564.4,146.7 L563.6,146.5 L562.8,146.3 L562.0,146.1 Z" fill="#c8c8c8" stroke="#e68b7c" stroke-width="0.6"/>
<text x="558.90" y="148.32" font-size="7" text-anchor="middle" fill="#111" >1</text>
<text x="571.80" y="148.32" font-size="7" text-anchor="middle" fill="#111" >2</text>
<circle cx="113.2" cy="96.7" r="2.05" fill="#ece85a" stroke="#000" stroke-width="0.7"/>
<circle cx="108.9" cy="95.1" r="2.05" fill="#ece85a" stroke="#000" stroke-width="0.7"/>
<circle cx="114.8" cy="93.3" r="2.05" fill="#ece85a" stroke="#000" stroke-width="0.7"/>
<circle cx="111.3" cy="99.2" r="2.05" fill="#d9372d" stroke="#000" stroke-width="0.7"/>
<circle cx="109.0" cy="91.5" r="2.05" fill="#ece85a" stroke="#000" stroke-width="0.7"/>
<circle cx="117.1" cy="97.0" r="2.05" fill="#ece85a" stroke="#000" stroke-width="0.7"/>
<circle cx="106.3" cy="97.9" r="2.05" fill="#d9372d" stroke="#000" stroke-width="0.7"/>
<circle cx="114.3" cy="89.4" r="2.05" fill="#ece85a" stroke="#000" stroke-width="0.7"/>
<circle cx="114.7" cy="101.8" r="2.05" fill="#d9372d" stroke="#000" stroke-width="0.7"/>
<circle cx="105.2" cy="92.0" r="2.05" fill="#ece85a" stroke="#000" stroke-width="0.7"/>
<circle cx="119.1" cy="93.6" r="2.05" fill="#ece85a" stroke="#000" stroke-width="0.7"/>
<circle cx="107.8" cy="101.7" r="2.05" fill="#d9372d" stroke="#000" stroke-width="0.7"/>
<circle cx="110.2" cy="87.2" r="2.05" fill="#ece85a" stroke="#000" stroke-width="0.7"/>
<circle cx="118.6" cy="100.2" r="2.05" fill="#d9372d" stroke="#000" stroke-width="0.7"/>
<circle cx="103.2" cy="96.1" r="2.05" fill="#ece85a" stroke="#000" stroke-width="0.7"/>
<circle cx="117.7" cy="88.4" r="2.05" fill="#ece85a" stroke="#000" stroke-width="0.7"/>
<circle cx="112.1" cy="104.4" r="2.05" fill="#d9372d" stroke="#000" stroke-width="0.7"/>
<circle cx="104.9" cy="88.8" r="2.05" fill="#ece85a" stroke="#000" stroke-width="0.7"/>
<circle cx="121.8" cy="96.0" r="2.05" fill="#ece85a" stroke="#000" stroke-width="0.7"/>
<circle cx="103.8" cy="102.0" r="2.05" fill="#d9372d" stroke="#000" stroke-width="0.7"/>
<circle cx="113.7" cy="84.9" r="2.05" fill="#ece85a" stroke="#000" stroke-width="0.7"/>
<circle cx="117.8" cy="104.2" r="2.05" fill="#d9372d" stroke="#000" stroke-width="0.7"/>
<circle cx="101.4" cy="93.1" r="2.05" fill="#ece85a" stroke="#000" stroke-width="0.7"/>
<circle cx="121.6" cy="90.3" r="2.05" fill="#ece85a" stroke="#000" stroke-width="0.7"/>
<circle cx="108.4" cy="105.9" r="2.05" fill="#d9372d" stroke="#000" stroke-width="0.7"/>
<circle cx="107.2" cy="85.2" r="2.05" fill="#ece85a" stroke="#000" stroke-width="0.7"/>
<circle cx="123.0" cy="100.0" r="2.05" fill="#d9372d" stroke="#000" stroke-width="0.7"/>
<circle cx="100.5" cy="98.9" r="2.05" fill="#d9372d" stroke="#000" stroke-width="0.7"/>
<circle cx="117.6" cy="84.9" r="2.05" fill="#ece85a" stroke="#000" stroke-width="0.7"/>
<circle cx="114.9" cy="107.1" r="2.05" fill="#d9372d" stroke="#000" stroke-width="0.7"/>
<circle cx="101.3" cy="88.6" r="2.05" fill="#ece85a" stroke="#000" stroke-width="0.7"/>
<circle cx="124.8" cy="93.3" r="2.05" fill="#ece85a" stroke="#000" stroke-width="0.7"/>
<circle cx="103.7" cy="105.5" r="2.05" fill="#d9372d" stroke="#000" stroke-width="0.7"/>
<circle cx="111.2" cy="82.3" r="2.05" fill="#ece85a" stroke="#000" stroke-width="0.7"/>
<circle cx="121.6" cy="104.5" r="2.05" fill="#d9372d" stroke="#000" stroke-width="0.7"/>
<circle cx="97.8" cy="94.8" r="2.05" fill="#ece85a" stroke="#000" stroke-width="0.7"/>
<circle cx="122.5" cy="86.6" r="2.05" fill="#ece85a" stroke="#000" stroke-width="0.7"/>
<circle cx="110.5" cy="109.1" r="2.05" fill="#d9372d" stroke="#000" stroke-width="0.7"/>
<circle cx="103.2" cy="84.0" r="2.05" fill="#ece85a" stroke="#000" stroke-width="0.7"/>
<circle cx="126.4" cy="98.3" r="2.05" fill="#d9372d" stroke="#000" stroke-width="0.7"/>
<circle cx="99.4" cy="103.1" r="2.05" fill="#d9372d" stroke="#000" stroke-width="0.7"/>
<circle cx="115.8" cy="81.3" r="2.05" fill="#ece85a" stroke="#000" stroke-width="0.7"/>
<circle cx="118.9" cy="108.7" r="2.05" fill="#d9372d" stroke="#000" stroke-width="0.7"/>
<circle cx="97.7" cy="89.8" r="2.05" fill="#ece85a" stroke="#000" stroke-width="0.7"/>
<circle cx="126.3" cy="90.2" r="2.05" fill="#ece85a" stroke="#000" stroke-width="0.7"/>
<circle cx="104.7" cy="109.3" r="2.05" fill="#d9372d" stroke="#000" stroke-width="0.7"/>
<circle cx="107.7" cy="80.8" r="2.05" fill="#ece85a" stroke="#000" stroke-width="0.7"/>
<circle cx="125.6" cy="103.7" r="2.05" fill="#d9372d" stroke="#000" stroke-width="0.7"/>
<circle cx="96.2" cy="98.5" r="2.05" fill="#d9372d" stroke="#000" stroke-width="0.7"/>
<circle cx="121.4" cy="82.2" r="2.05" fill="#ece85a" stroke="#000" stroke-width="0.7"/>
<circle cx="113.9" cy="111.4" r="2.05" fill="#d9372d" stroke="#000" stroke-width="0.7"/>
<circle cx="99.3" cy="84.6" r="2.05" fill="#ece85a" stroke="#000" stroke-width="0.7"/>
<circle cx="128.6" cy="94.9" r="2.05" fill="#ece85a" stroke="#000" stroke-width="0.7"/>
<circle cx="99.6" cy="106.8" r="2.05" fill="#d9372d" stroke="#000" stroke-width="0.7"/>
<circle cx="113.1" cy="78.7" r="2.05" fill="#ece85a" stroke="#000" stroke-width="0.7"/>
<circle cx="122.6" cy="108.2" r="2.05" fill="#d9372d" stroke="#000" stroke-width="0.7"/>
<circle cx="94.6" cy="92.5" r="2.05" fill="#ece85a" stroke="#000" stroke-width="0.7"/>
<circle cx="126.5" cy="86.1" r="2.05" fill="#ece85a" stroke="#000" stroke-width="0.7"/>
<circle cx="107.9" cy="112.4" r="2.05" fill="#d9372d" stroke="#000" stroke-width="0.7"/>
<circle cx="103.6" cy="79.8" r="2.05" fill="#ece85a" stroke="#000" stroke-width="0.7"/>
<circle cx="129.1" cy="101.2" r="2.05" fill="#d9372d" stroke="#000" stroke-width="0.7"/>
<circle cx="95.1" cy="102.2" r="2.05" fill="#d9372d" stroke="#000" stroke-width="0.7"/>
<circle cx="118.9" cy="79.1" r="2.05" fill="#ece85a" stroke="#000" stroke-width="0.7"/>
<circle cx="117.6" cy="112.2" r="2.05" fill="#d9372d" stroke="#000" stroke-width="0.7"/>
<circle cx="95.8" cy="86.5" r="2.05" fill="#ece85a" stroke="#000" stroke-width="0.7"/>
<circle cx="129.7" cy="90.8" r="2.05" fill="#ece85a" stroke="#000" stroke-width="0.7"/>
<circle cx="101.5" cy="110.5" r="2.05" fill="#d9372d" stroke="#000" stroke-width="0.7"/>
<circle cx="108.9" cy="77.1" r="2.05" fill="#ece85a" stroke="#000" stroke-width="0.7"/>
<circle cx="126.7" cy="107.0" r="2.05" fill="#d9372d" stroke="#000" stroke-width="0.7"/>
<circle cx="92.7" cy="96.2" r="2.05" fill="#ece85a" stroke="#000" stroke-width="0.7"/>
<circle cx="125.2" cy="81.6" r="2.05" fill="#ece85a" stroke="#000" stroke-width="0.7"/>
<circle cx="111.2" cy="114.2" r="2.05" fill="#d9372d" stroke="#000" stroke-width="0.7"/>
<circle cx="99.3" cy="80.8" r="2.05" fill="#ece85a" stroke="#000" stroke-width="0.7"/>
<circle cx="131.3" cy="97.6" r="2.05" fill="#d9372d" stroke="#000" stroke-width="0.7"/>
<circle cx="96.0" cy="106.5" r="2.05" fill="#d9372d" stroke="#000" stroke-width="0.7"/>
<circle cx="115.5" cy="75.8" r="2.05" fill="#ece85a" stroke="#000" stroke-width="0.7"/>
<circle cx="122.5" cy="112.1" r="2.05" fill="#d9372d" stroke="#000" stroke-width="0.7"/>
<circle cx="92.6" cy="89.8" r="2.05" fill="#ece85a" stroke="#000" stroke-width="0.7"/>
<circle cx="130.3" cy="86.3" r="2.05" fill="#ece85a" stroke="#000" stroke-width="0.7"/>
<circle cx="104.7" cy="114.4" r="2.05" fill="#d9372d" stroke="#000" stroke-width="0.7"/>
<circle cx="104.5" cy="76.2" r="2.05" fill="#ece85a" stroke="#000" stroke-width="0.7"/>
<circle cx="130.6" cy="104.4" r="2.05" fill="#d9372d" stroke="#000" stroke-width="0.7"/>
<circle cx="91.8" cy="100.9" r="2.05" fill="#d9372d" stroke="#000" stroke-width="0.7"/>
<circle cx="123.0" cy="77.4" r="2.05" fill="#ece85a" stroke="#000" stroke-width="0.7"/>
<circle cx="115.8" cy="116.1" r="2.05" fill="#9a9a9a" stroke="#000" stroke-width="0.7"/>
<circle cx="95.0" cy="82.7" r="2.05" fill="#ece85a" stroke="#000" stroke-width="0.7"/>
<circle cx="133.5" cy="93.0" r="2.05" fill="#ece85a" stroke="#000" stroke-width="0.7"/>
<circle cx="97.9" cy="111.4" r="2.05" fill="#d9372d" stroke="#000" stroke-width="0.7"/>
<circle cx="111.5" cy="73.8" r="2.05" fill="#ece85a" stroke="#000" stroke-width="0.7"/>
<circle cx="126.6" cy="111.2" r="2.05" fill="#d9372d" stroke="#000" stroke-width="0.7"/>
<circle cx="89.7" cy="94.1" r="2.05" fill="#ece85a" stroke="#000" stroke-width="0.7"/>
<circle cx="129.5" cy="81.9" r="2.05" fill="#ece85a" stroke="#000" stroke-width="0.7"/>
<circle cx="113.6" cy="150.3" r="2.05" fill="#8a4fb0" stroke="#000" stroke-width="0.7"/>
<circle cx="109.9" cy="153.7" r="2.05" fill="#8a4fb0" stroke="#000" stroke-width="0.7"/>
<circle cx="111.2" cy="147.7" r="2.05" fill="#8a4fb0" stroke="#000" stroke-width="0.7"/>
<circle cx="115.0" cy="153.7" r="2.05" fill="#8a4fb0" stroke="#000" stroke-width="0.7"/>
<circle cx="106.9" cy="151.7" r="2.05" fill="#8a4fb0" stroke="#000" stroke-width="0.7"/>
<circle cx="115.0" cy="147.1" r="2.05" fill="#8a4fb0" stroke="#000" stroke-width="0.7"/>
<circle cx="111.7" cy="157.0" r="2.05" fill="#8a4fb0" stroke="#000" stroke-width="0.7"/>
<circle cx="107.7" cy="146.9" r="2.05" fill="#8a4fb0" stroke="#000" stroke-width="0.7"/>
<circle cx="118.4" cy="151.5" r="2.05" fill="#8a4fb0" stroke="#000" stroke-width="0.7"/>
<circle cx="106.0" cy="155.1" r="2.05" fill="#8a4fb0" stroke="#000" stroke-width="0.7"/>
<circle cx="112.5" cy="143.8" r="2.05" fill="#8a4fb0" stroke="#000" stroke-width="0.7"/>
<circle cx="115.9" cy="157.4" r="2.05" fill="#8a4fb0" stroke="#000" stroke-width="0.7"/>
<circle cx="104.1" cy="149.2" r="2.05" fill="#8a4fb0" stroke="#000" stroke-width="0.7"/>
<circle cx="119.2" cy="146.9" r="2.05" fill="#8a4fb0" stroke="#000" stroke-width="0.7"/>
<circle cx="108.5" cy="159.2" r="2.05" fill="#8a4fb0" stroke="#000" stroke-width="0.7"/>
<circle cx="107.9" cy="142.9" r="2.05" fill="#8a4fb0" stroke="#000" stroke-width="0.7"/>
<circle cx="120.6" cy="155.0" r="2.05" fill="#8a4fb0" stroke="#000" stroke-width="0.7"/>
<circle cx="102.4" cy="154.4" r="2.05" fill="#8a4fb0" stroke="#000" stroke-width="0.7"/>
<circle cx="116.7" cy="142.7" r="2.05" fill="#8a4fb0" stroke="#000" stroke-width="0.7"/>
<circle cx="114.3" cy="161.0" r="2.05" fill="#8a4fb0" stroke="#000" stroke-width="0.7"/>
<circle cx="103.3" cy="145.2" r="2.05" fill="#8a4fb0" stroke="#000" stroke-width="0.7"/>
<circle cx="122.6" cy="149.9" r="2.05" fill="#8a4fb0" stroke="#000" stroke-width="0.7"/>
<circle cx="104.6" cy="159.6" r="2.05" fill="#8a4fb0" stroke="#000" stroke-width="0.7"/>
<circle cx="111.2" cy="140.1" r="2.05" fill="#ec9440" stroke="#000" stroke-width="0.7"/>
<circle cx="119.9" cy="158.9" r="2.05" fill="#8a4fb0" stroke="#000" stroke-width="0.7"/>
<circle cx="100.4" cy="150.8" r="2.05" fill="#8a4fb0" stroke="#000" stroke-width="0.7"/>
<circle cx="120.9" cy="143.4" r="2.05" fill="#8a4fb0" stroke="#000" stroke-width="0.7"/>
<circle cx="110.6" cy="163.2" r="2.05" fill="#8a4fb0" stroke="#000" stroke-width="0.7"/>
<circle cx="104.5" cy="141.3" r="2.05" fill="#ec9440" stroke="#000" stroke-width="0.7"/>
<circle cx="124.2" cy="153.8" r="2.05" fill="#8a4fb0" stroke="#000" stroke-width="0.7"/>
<circle cx="100.8" cy="157.3" r="2.05" fill="#8a4fb0" stroke="#000" stroke-width="0.7"/>
<circle cx="115.3" cy="139.0" r="2.05" fill="#ec9440" stroke="#000" stroke-width="0.7"/>
<circle cx="117.2" cy="163.1" r="2.05" fill="#8a4fb0" stroke="#000" stroke-width="0.7"/>
<circle cx="99.2" cy="146.5" r="2.05" fill="#8a4fb0" stroke="#000" stroke-width="0.7"/>
<circle cx="124.2" cy="146.7" r="2.05" fill="#8a4fb0" stroke="#000" stroke-width="0.7"/>
<circle cx="105.7" cy="163.2" r="2.05" fill="#8a4fb0" stroke="#000" stroke-width="0.7"/>
<circle cx="107.9" cy="138.0" r="2.05" fill="#ec9440" stroke="#000" stroke-width="0.7"/>
<circle cx="123.7" cy="158.3" r="2.05" fill="#8a4fb0" stroke="#000" stroke-width="0.7"/>
<circle cx="97.5" cy="153.7" r="2.05" fill="#8a4fb0" stroke="#000" stroke-width="0.7"/>
<circle cx="120.7" cy="139.7" r="2.05" fill="#ec9440" stroke="#000" stroke-width="0.7"/>
<circle cx="112.9" cy="165.7" r="2.05" fill="#8a4fb0" stroke="#000" stroke-width="0.7"/>
<circle cx="100.8" cy="141.6" r="2.05" fill="#ec9440" stroke="#000" stroke-width="0.7"/>
<circle cx="126.5" cy="151.1" r="2.05" fill="#8a4fb0" stroke="#000" stroke-width="0.7"/>
<circle cx="100.3" cy="161.5" r="2.05" fill="#8a4fb0" stroke="#000" stroke-width="0.7"/>
<circle cx="112.7" cy="135.8" r="2.05" fill="#ec9440" stroke="#000" stroke-width="0.7"/>
<circle cx="121.5" cy="162.9" r="2.05" fill="#8a4fb0" stroke="#000" stroke-width="0.7"/>
<circle cx="96.2" cy="148.8" r="2.05" fill="#8a4fb0" stroke="#000" stroke-width="0.7"/>
<circle cx="124.8" cy="142.3" r="2.05" fill="#ec9440" stroke="#000" stroke-width="0.7"/>
<circle cx="108.0" cy="166.4" r="2.05" fill="#8a4fb0" stroke="#000" stroke-width="0.7"/>
<circle cx="104.2" cy="136.7" r="2.05" fill="#ec9440" stroke="#000" stroke-width="0.7"/>
<circle cx="127.0" cy="156.2" r="2.05" fill="#8a4fb0" stroke="#000" stroke-width="0.7"/>
<circle cx="96.6" cy="157.2" r="2.05" fill="#8a4fb0" stroke="#000" stroke-width="0.7"/>
<circle cx="118.9" cy="135.8" r="2.05" fill="#ec9440" stroke="#000" stroke-width="0.7"/>
<circle cx="117.1" cy="166.6" r="2.05" fill="#8a4fb0" stroke="#000" stroke-width="0.7"/>
<circle cx="96.7" cy="143.1" r="2.05" fill="#8a4fb0" stroke="#000" stroke-width="0.7"/>
<circle cx="128.1" cy="147.0" r="2.05" fill="#8a4fb0" stroke="#000" stroke-width="0.7"/>
<circle cx="102.1" cy="165.1" r="2.05" fill="#8a4fb0" stroke="#000" stroke-width="0.7"/>
<circle cx="108.9" cy="134.4" r="2.05" fill="#ec9440" stroke="#000" stroke-width="0.7"/>
<circle cx="125.0" cy="161.8" r="2.05" fill="#8a4fb0" stroke="#000" stroke-width="0.7"/>
<circle cx="93.9" cy="152.1" r="2.05" fill="#8a4fb0" stroke="#000" stroke-width="0.7"/>
<circle cx="124.4" cy="138.2" r="2.05" fill="#ec9440" stroke="#000" stroke-width="0.7"/>
<circle cx="111.0" cy="168.6" r="2.05" fill="#8a4fb0" stroke="#000" stroke-width="0.7"/>
<circle cx="99.9" cy="137.6" r="2.05" fill="#ec9440" stroke="#000" stroke-width="0.7"/>
<circle cx="130.1" cy="153.6" r="2.05" fill="#8a4fb0" stroke="#000" stroke-width="0.7"/>
<circle cx="96.8" cy="162.0" r="2.05" fill="#8a4fb0" stroke="#000" stroke-width="0.7"/>
<circle cx="115.7" cy="133.1" r="2.05" fill="#ec9440" stroke="#000" stroke-width="0.7"/>
<circle cx="121.0" cy="167.2" r="2.05" fill="#8a4fb0" stroke="#000" stroke-width="0.7"/>
<circle cx="93.5" cy="145.4" r="2.05" fill="#8a4fb0" stroke="#000" stroke-width="0.7"/>
<circle cx="128.8" cy="143.3" r="2.05" fill="#8a4fb0" stroke="#000" stroke-width="0.7"/>
<circle cx="104.2" cy="168.7" r="2.05" fill="#8a4fb0" stroke="#000" stroke-width="0.7"/>
<circle cx="104.9" cy="133.2" r="2.05" fill="#ec9440" stroke="#000" stroke-width="0.7"/>
<circle cx="128.8" cy="160.2" r="2.05" fill="#8a4fb0" stroke="#000" stroke-width="0.7"/>
<circle cx="92.7" cy="156.3" r="2.05" fill="#8a4fb0" stroke="#000" stroke-width="0.7"/>
<circle cx="122.1" cy="134.2" r="2.05" fill="#ec9440" stroke="#000" stroke-width="0.7"/>
<circle cx="115.3" cy="170.1" r="2.05" fill="#8a4fb0" stroke="#000" stroke-width="0.7"/>
<circle cx="95.5" cy="138.9" r="2.05" fill="#ec9440" stroke="#000" stroke-width="0.7"/>
<circle cx="131.5" cy="148.9" r="2.05" fill="#8a4fb0" stroke="#000" stroke-width="0.7"/>
<circle cx="98.2" cy="166.0" r="2.05" fill="#8a4fb0" stroke="#000" stroke-width="0.7"/>
<circle cx="111.9" cy="131.3" r="2.05" fill="#ec9440" stroke="#000" stroke-width="0.7"/>
<circle cx="126.0" cy="165.8" r="2.05" fill="#8a4fb0" stroke="#000" stroke-width="0.7"/>
<circle cx="91.1" cy="149.3" r="2.05" fill="#8a4fb0" stroke="#000" stroke-width="0.7"/>
<circle cx="128.1" cy="138.6" r="2.05" fill="#ec9440" stroke="#000" stroke-width="0.7"/>
<circle cx="108.4" cy="171.6" r="2.05" fill="#8a4fb0" stroke="#000" stroke-width="0.7"/>
<circle cx="100.1" cy="133.6" r="2.05" fill="#ec9440" stroke="#000" stroke-width="0.7"/>
<circle cx="132.2" cy="156.0" r="2.05" fill="#8a4fb0" stroke="#000" stroke-width="0.7"/>
<circle cx="92.6" cy="160.9" r="2.05" fill="#8a4fb0" stroke="#000" stroke-width="0.7"/>
<circle cx="118.6" cy="131.4" r="2.05" fill="#ec9440" stroke="#000" stroke-width="0.7"/>
<circle cx="119.9" cy="170.4" r="2.05" fill="#8a4fb0" stroke="#000" stroke-width="0.7"/>
<circle cx="91.8" cy="142.0" r="2.05" fill="#ec9440" stroke="#000" stroke-width="0.7"/>
<circle cx="132.2" cy="144.5" r="2.05" fill="#8a4fb0" stroke="#000" stroke-width="0.7"/>
<circle cx="100.8" cy="169.7" r="2.05" fill="#8a4fb0" stroke="#000" stroke-width="0.7"/>
<circle cx="106.9" cy="129.7" r="2.05" fill="#ec9440" stroke="#000" stroke-width="0.7"/>
<circle cx="291.4" cy="99.9" r="2.05" fill="#e9802c" stroke="#000" stroke-width="0.7"/>
<circle cx="289.1" cy="96.7" r="2.05" fill="#e9802c" stroke="#000" stroke-width="0.7"/>
<circle cx="294.7" cy="98.1" r="2.05" fill="#e9802c" stroke="#000" stroke-width="0.7"/>
<circle cx="288.1" cy="101.0" r="2.05" fill="#e9802c" stroke="#000" stroke-width="0.7"/>
<circle cx="291.5" cy="94.2" r="2.05" fill="#e9802c" stroke="#000" stroke-width="0.7"/>
<circle cx="294.5" cy="102.8" r="2.05" fill="#e9802c" stroke="#000" stroke-width="0.7"/>
<circle cx="285.2" cy="97.5" r="2.05" fill="#e9802c" stroke="#000" stroke-width="0.7"/>
<circle cx="296.5" cy="95.4" r="2.05" fill="#e9802c" stroke="#000" stroke-width="0.7"/>
<circle cx="289.6" cy="104.6" r="2.05" fill="#e9802c" stroke="#000" stroke-width="0.7"/>
<circle cx="288.1" cy="92.5" r="2.05" fill="#e9802c" stroke="#000" stroke-width="0.7"/>
<circle cx="298.1" cy="101.1" r="2.05" fill="#e9802c" stroke="#000" stroke-width="0.7"/>
<circle cx="283.8" cy="101.1" r="2.05" fill="#e9802c" stroke="#000" stroke-width="0.7"/>
<circle cx="294.5" cy="91.7" r="2.05" fill="#e9802c" stroke="#000" stroke-width="0.7"/>
<circle cx="293.7" cy="106.3" r="2.05" fill="#e9802c" stroke="#000" stroke-width="0.7"/>
<circle cx="283.7" cy="94.3" r="2.05" fill="#e9802c" stroke="#000" stroke-width="0.7"/>
<circle cx="300.7" cy="96.6" r="2.05" fill="#e9802c" stroke="#000" stroke-width="0.7"/>
<circle cx="285.8" cy="105.7" r="2.05" fill="#e9802c" stroke="#000" stroke-width="0.7"/>
<circle cx="290.3" cy="89.6" r="2.05" fill="#e9802c" stroke="#000" stroke-width="0.7"/>
<circle cx="298.7" cy="104.4" r="2.05" fill="#e9802c" stroke="#000" stroke-width="0.7"/>
<circle cx="280.5" cy="99.1" r="2.05" fill="#e9802c" stroke="#000" stroke-width="0.7"/>
<circle cx="298.9" cy="91.6" r="2.05" fill="#e9802c" stroke="#000" stroke-width="0.7"/>
<circle cx="290.4" cy="108.6" r="2.05" fill="#e9802c" stroke="#000" stroke-width="0.7"/>
<circle cx="284.0" cy="90.3" r="2.05" fill="#e9802c" stroke="#000" stroke-width="0.7"/>
<circle cx="302.7" cy="100.0" r="2.05" fill="#e9802c" stroke="#000" stroke-width="0.7"/>
<circle cx="281.7" cy="104.7" r="2.05" fill="#e9802c" stroke="#000" stroke-width="0.7"/>
<circle cx="294.3" cy="87.9" r="2.05" fill="#e9802c" stroke="#000" stroke-width="0.7"/>
<circle cx="297.5" cy="108.5" r="2.05" fill="#e9802c" stroke="#000" stroke-width="0.7"/>
<circle cx="279.1" cy="95.1" r="2.05" fill="#e9802c" stroke="#000" stroke-width="0.7"/>
<circle cx="303.1" cy="93.9" r="2.05" fill="#e9802c" stroke="#000" stroke-width="0.7"/>
<circle cx="286.1" cy="109.6" r="2.05" fill="#e9802c" stroke="#000" stroke-width="0.7"/>
<circle cx="286.7" cy="87.2" r="2.05" fill="#e9802c" stroke="#000" stroke-width="0.7"/>
<circle cx="303.0" cy="104.2" r="2.05" fill="#e9802c" stroke="#000" stroke-width="0.7"/>
<circle cx="277.7" cy="101.8" r="2.05" fill="#e9802c" stroke="#000" stroke-width="0.7"/>
<circle cx="299.1" cy="87.5" r="2.05" fill="#e9802c" stroke="#000" stroke-width="0.7"/>
<circle cx="293.6" cy="111.1" r="2.05" fill="#f2bd74" stroke="#000" stroke-width="0.7"/>
<circle cx="279.8" cy="90.2" r="2.05" fill="#e9802c" stroke="#000" stroke-width="0.7"/>
<circle cx="305.7" cy="97.8" r="2.05" fill="#e9802c" stroke="#000" stroke-width="0.7"/>
<circle cx="280.9" cy="108.3" r="2.05" fill="#e9802c" stroke="#000" stroke-width="0.7"/>
<circle cx="291.1" cy="85.0" r="2.05" fill="#e9802c" stroke="#000" stroke-width="0.7"/>
<circle cx="301.0" cy="109.1" r="2.05" fill="#e9802c" stroke="#000" stroke-width="0.7"/>
<circle cx="276.5" cy="97.0" r="2.05" fill="#e9802c" stroke="#000" stroke-width="0.7"/>
<circle cx="303.9" cy="89.9" r="2.05" fill="#e9802c" stroke="#000" stroke-width="0.7"/>
<circle cx="288.0" cy="112.6" r="2.05" fill="#f2bd74" stroke="#000" stroke-width="0.7"/>
<circle cx="282.7" cy="85.9" r="2.05" fill="#e9802c" stroke="#000" stroke-width="0.7"/>
<circle cx="306.4" cy="102.6" r="2.05" fill="#e9802c" stroke="#000" stroke-width="0.7"/>
<circle cx="276.6" cy="104.8" r="2.05" fill="#e9802c" stroke="#000" stroke-width="0.7"/>
<circle cx="297.3" cy="84.3" r="2.05" fill="#e9802c" stroke="#000" stroke-width="0.7"/>
<circle cx="297.5" cy="112.8" r="2.05" fill="#f2bd74" stroke="#000" stroke-width="0.7"/>
<circle cx="276.2" cy="91.7" r="2.05" fill="#e9802c" stroke="#000" stroke-width="0.7"/>
<circle cx="307.3" cy="94.2" r="2.05" fill="#e9802c" stroke="#000" stroke-width="0.7"/>
<circle cx="282.5" cy="111.9" r="2.05" fill="#f2bd74" stroke="#000" stroke-width="0.7"/>
<circle cx="287.9" cy="83.3" r="2.05" fill="#e9802c" stroke="#000" stroke-width="0.7"/>
<circle cx="305.2" cy="107.8" r="2.05" fill="#e9802c" stroke="#000" stroke-width="0.7"/>
<circle cx="274.0" cy="100.1" r="2.05" fill="#e9802c" stroke="#000" stroke-width="0.7"/>
<circle cx="302.6" cy="86.5" r="2.05" fill="#e9802c" stroke="#000" stroke-width="0.7"/>
<circle cx="291.7" cy="114.9" r="2.05" fill="#f2bd74" stroke="#000" stroke-width="0.7"/>
<circle cx="278.4" cy="86.5" r="2.05" fill="#e9802c" stroke="#000" stroke-width="0.7"/>
<circle cx="309.3" cy="99.2" r="2.05" fill="#e9802c" stroke="#000" stroke-width="0.7"/>
<circle cx="277.1" cy="109.1" r="2.05" fill="#e9802c" stroke="#000" stroke-width="0.7"/>
<circle cx="293.6" cy="81.8" r="2.05" fill="#e9802c" stroke="#000" stroke-width="0.7"/>
<circle cx="301.5" cy="112.8" r="2.05" fill="#f2bd74" stroke="#000" stroke-width="0.7"/>
<circle cx="272.9" cy="94.5" r="2.05" fill="#e9802c" stroke="#000" stroke-width="0.7"/>
<circle cx="307.8" cy="89.7" r="2.05" fill="#e9802c" stroke="#000" stroke-width="0.7"/>
<circle cx="284.8" cy="115.2" r="2.05" fill="#f2bd74" stroke="#000" stroke-width="0.7"/>
<circle cx="283.8" cy="82.1" r="2.05" fill="#e9802c" stroke="#000" stroke-width="0.7"/>
<circle cx="308.8" cy="105.6" r="2.05" fill="#e9802c" stroke="#000" stroke-width="0.7"/>
<circle cx="272.7" cy="104.2" r="2.05" fill="#e9802c" stroke="#000" stroke-width="0.7"/>
<circle cx="300.4" cy="82.5" r="2.05" fill="#e9802c" stroke="#000" stroke-width="0.7"/>
<circle cx="296.0" cy="116.0" r="2.05" fill="#f2bd74" stroke="#000" stroke-width="0.7"/>
<circle cx="274.6" cy="88.5" r="2.05" fill="#e9802c" stroke="#000" stroke-width="0.7"/>
<circle cx="310.6" cy="95.7" r="2.05" fill="#e9802c" stroke="#000" stroke-width="0.7"/>
<circle cx="278.8" cy="112.8" r="2.05" fill="#f2bd74" stroke="#000" stroke-width="0.7"/>
<circle cx="289.7" cy="80.0" r="2.05" fill="#e9802c" stroke="#000" stroke-width="0.7"/>
<circle cx="305.8" cy="111.2" r="2.05" fill="#f2bd74" stroke="#000" stroke-width="0.7"/>
<circle cx="270.6" cy="98.2" r="2.05" fill="#e9802c" stroke="#000" stroke-width="0.7"/>
<circle cx="306.5" cy="85.7" r="2.05" fill="#e9802c" stroke="#000" stroke-width="0.7"/>
<circle cx="288.8" cy="117.8" r="2.05" fill="#f2bd74" stroke="#000" stroke-width="0.7"/>
<circle cx="278.8" cy="83.1" r="2.05" fill="#e9802c" stroke="#000" stroke-width="0.7"/>
<circle cx="311.7" cy="102.1" r="2.05" fill="#e9802c" stroke="#000" stroke-width="0.7"/>
<circle cx="273.2" cy="108.9" r="2.05" fill="#e9802c" stroke="#000" stroke-width="0.7"/>
<circle cx="297.1" cy="79.3" r="2.05" fill="#e9802c" stroke="#000" stroke-width="0.7"/>
<circle cx="300.4" cy="116.3" r="2.05" fill="#f2bd74" stroke="#000" stroke-width="0.7"/>
<circle cx="270.8" cy="91.4" r="2.05" fill="#e9802c" stroke="#000" stroke-width="0.7"/>
<circle cx="311.7" cy="91.0" r="2.05" fill="#e9802c" stroke="#000" stroke-width="0.7"/>
<circle cx="281.4" cy="116.8" r="2.05" fill="#f2bd74" stroke="#000" stroke-width="0.7"/>
<circle cx="285.2" cy="79.1" r="2.05" fill="#e9802c" stroke="#000" stroke-width="0.7"/>
<circle cx="310.0" cy="108.8" r="2.05" fill="#e9802c" stroke="#000" stroke-width="0.7"/>
<circle cx="269.2" cy="102.6" r="2.05" fill="#e9802c" stroke="#000" stroke-width="0.7"/>
<circle cx="304.3" cy="81.7" r="2.05" fill="#e9802c" stroke="#000" stroke-width="0.7"/>
<circle cx="293.6" cy="119.1" r="2.05" fill="#9bd0e0" stroke="#000" stroke-width="0.7"/>
<circle cx="274.1" cy="84.9" r="2.05" fill="#e9802c" stroke="#000" stroke-width="0.7"/>
<circle cx="313.7" cy="97.7" r="2.05" fill="#e9802c" stroke="#000" stroke-width="0.7"/>
<circle cx="274.9" cy="113.3" r="2.05" fill="#f2bd74" stroke="#000" stroke-width="0.7"/>
<circle cx="293.1" cy="77.2" r="2.05" fill="#e9802c" stroke="#000" stroke-width="0.7"/>
<circle cx="306.0" cy="115.4" r="2.05" fill="#f2bd74" stroke="#000" stroke-width="0.7"/>
<circle cx="268.0" cy="95.3" r="2.05" fill="#e9802c" stroke="#000" stroke-width="0.7"/>
<circle cx="310.9" cy="86.6" r="2.05" fill="#e9802c" stroke="#000" stroke-width="0.7"/>
<circle cx="290.6" cy="159.3" r="2.05" fill="#b8c272" stroke="#000" stroke-width="0.7"/>
<circle cx="288.3" cy="155.7" r="2.05" fill="#b8c272" stroke="#000" stroke-width="0.7"/>
<circle cx="294.5" cy="158.1" r="2.05" fill="#b8c272" stroke="#000" stroke-width="0.7"/>
<circle cx="287.6" cy="160.7" r="2.05" fill="#b8c272" stroke="#000" stroke-width="0.7"/>
<circle cx="291.0" cy="153.2" r="2.05" fill="#b8c272" stroke="#000" stroke-width="0.7"/>
<circle cx="294.0" cy="161.6" r="2.05" fill="#b8c272" stroke="#000" stroke-width="0.7"/>
<circle cx="284.4" cy="156.6" r="2.05" fill="#b8c272" stroke="#000" stroke-width="0.7"/>
<circle cx="296.6" cy="154.8" r="2.05" fill="#b8c272" stroke="#000" stroke-width="0.7"/>
<circle cx="289.1" cy="164.1" r="2.05" fill="#b8c272" stroke="#000" stroke-width="0.7"/>
<circle cx="287.1" cy="151.7" r="2.05" fill="#b8c272" stroke="#000" stroke-width="0.7"/>
<circle cx="298.2" cy="160.4" r="2.05" fill="#b8c272" stroke="#000" stroke-width="0.7"/>
<circle cx="283.4" cy="160.9" r="2.05" fill="#b8c272" stroke="#000" stroke-width="0.7"/>
<circle cx="294.1" cy="150.9" r="2.05" fill="#b8c272" stroke="#000" stroke-width="0.7"/>
<circle cx="293.5" cy="165.4" r="2.05" fill="#b8c272" stroke="#000" stroke-width="0.7"/>
<circle cx="282.6" cy="153.7" r="2.05" fill="#b8c272" stroke="#000" stroke-width="0.7"/>
<circle cx="299.8" cy="156.3" r="2.05" fill="#b8c272" stroke="#000" stroke-width="0.7"/>
<circle cx="285.4" cy="165.0" r="2.05" fill="#b8c272" stroke="#000" stroke-width="0.7"/>
<circle cx="289.3" cy="149.1" r="2.05" fill="#b8c272" stroke="#000" stroke-width="0.7"/>
<circle cx="298.8" cy="164.1" r="2.05" fill="#b8c272" stroke="#000" stroke-width="0.7"/>
<circle cx="280.3" cy="158.2" r="2.05" fill="#b8c272" stroke="#000" stroke-width="0.7"/>
<circle cx="298.4" cy="150.9" r="2.05" fill="#b8c272" stroke="#000" stroke-width="0.7"/>
<circle cx="290.2" cy="167.6" r="2.05" fill="#4fc27c" stroke="#000" stroke-width="0.7"/>
<circle cx="283.3" cy="150.1" r="2.05" fill="#b8c272" stroke="#000" stroke-width="0.7"/>
<circle cx="302.1" cy="158.9" r="2.05" fill="#b8c272" stroke="#000" stroke-width="0.7"/>
<circle cx="281.0" cy="163.8" r="2.05" fill="#b8c272" stroke="#000" stroke-width="0.7"/>
<circle cx="293.4" cy="147.1" r="2.05" fill="#b8c272" stroke="#000" stroke-width="0.7"/>
<circle cx="296.8" cy="167.8" r="2.05" fill="#4fc27c" stroke="#000" stroke-width="0.7"/>
<circle cx="278.4" cy="154.3" r="2.05" fill="#b8c272" stroke="#000" stroke-width="0.7"/>
<circle cx="302.3" cy="153.0" r="2.05" fill="#b8c272" stroke="#000" stroke-width="0.7"/>
<circle cx="285.5" cy="168.6" r="2.05" fill="#4fc27c" stroke="#000" stroke-width="0.7"/>
<circle cx="286.4" cy="146.4" r="2.05" fill="#b8c272" stroke="#000" stroke-width="0.7"/>
<circle cx="302.8" cy="163.7" r="2.05" fill="#b8c272" stroke="#000" stroke-width="0.7"/>
<circle cx="277.1" cy="160.7" r="2.05" fill="#b8c272" stroke="#000" stroke-width="0.7"/>
<circle cx="298.1" cy="147.4" r="2.05" fill="#b8c272" stroke="#000" stroke-width="0.7"/>
<circle cx="293.2" cy="170.2" r="2.05" fill="#4fc27c" stroke="#000" stroke-width="0.7"/>
<circle cx="279.2" cy="149.7" r="2.05" fill="#b8c272" stroke="#000" stroke-width="0.7"/>
<circle cx="305.3" cy="156.4" r="2.05" fill="#b8c272" stroke="#000" stroke-width="0.7"/>
<circle cx="280.8" cy="167.8" r="2.05" fill="#4fc27c" stroke="#000" stroke-width="0.7"/>
<circle cx="291.1" cy="144.5" r="2.05" fill="#b8c272" stroke="#000" stroke-width="0.7"/>
<circle cx="301.3" cy="167.5" r="2.05" fill="#4fc27c" stroke="#000" stroke-width="0.7"/>
<circle cx="275.3" cy="156.9" r="2.05" fill="#b8c272" stroke="#000" stroke-width="0.7"/>
<circle cx="303.3" cy="149.3" r="2.05" fill="#b8c272" stroke="#000" stroke-width="0.7"/>
<circle cx="288.3" cy="171.8" r="2.05" fill="#4fc27c" stroke="#000" stroke-width="0.7"/>
<circle cx="282.5" cy="145.6" r="2.05" fill="#b8c272" stroke="#000" stroke-width="0.7"/>
<circle cx="306.1" cy="161.6" r="2.05" fill="#b8c272" stroke="#000" stroke-width="0.7"/>
<circle cx="276.0" cy="164.4" r="2.05" fill="#b8c272" stroke="#000" stroke-width="0.7"/>
<circle cx="296.8" cy="143.8" r="2.05" fill="#b8c272" stroke="#000" stroke-width="0.7"/>
<circle cx="296.7" cy="171.3" r="2.05" fill="#4fc27c" stroke="#000" stroke-width="0.7"/>
<circle cx="275.3" cy="151.6" r="2.05" fill="#b8c272" stroke="#000" stroke-width="0.7"/>
<circle cx="306.9" cy="153.2" r="2.05" fill="#b8c272" stroke="#000" stroke-width="0.7"/>
<circle cx="281.8" cy="171.4" r="2.05" fill="#4fc27c" stroke="#000" stroke-width="0.7"/>
<circle cx="287.0" cy="142.4" r="2.05" fill="#b8c272" stroke="#000" stroke-width="0.7"/>
<circle cx="304.7" cy="166.6" r="2.05" fill="#b8c272" stroke="#000" stroke-width="0.7"/>
<circle cx="273.0" cy="159.9" r="2.05" fill="#b8c272" stroke="#000" stroke-width="0.7"/>
<circle cx="302.1" cy="145.3" r="2.05" fill="#b8c272" stroke="#000" stroke-width="0.7"/>
<circle cx="291.4" cy="173.7" r="2.05" fill="#4fc27c" stroke="#000" stroke-width="0.7"/>
<circle cx="278.3" cy="145.9" r="2.05" fill="#b8c272" stroke="#000" stroke-width="0.7"/>
<circle cx="309.1" cy="158.8" r="2.05" fill="#b8c272" stroke="#000" stroke-width="0.7"/>
<circle cx="276.4" cy="168.7" r="2.05" fill="#4fc27c" stroke="#000" stroke-width="0.7"/>
<circle cx="293.3" cy="141.1" r="2.05" fill="#b8c272" stroke="#000" stroke-width="0.7"/>
<circle cx="301.4" cy="171.3" r="2.05" fill="#4fc27c" stroke="#000" stroke-width="0.7"/>
<circle cx="272.2" cy="153.8" r="2.05" fill="#b8c272" stroke="#000" stroke-width="0.7"/>
<circle cx="307.7" cy="149.6" r="2.05" fill="#b8c272" stroke="#000" stroke-width="0.7"/>
<circle cx="284.8" cy="173.9" r="2.05" fill="#4fc27c" stroke="#000" stroke-width="0.7"/>
<circle cx="282.5" cy="141.8" r="2.05" fill="#b8c272" stroke="#000" stroke-width="0.7"/>
<circle cx="308.6" cy="164.4" r="2.05" fill="#b8c272" stroke="#000" stroke-width="0.7"/>
<circle cx="272.4" cy="163.5" r="2.05" fill="#b8c272" stroke="#000" stroke-width="0.7"/>
<circle cx="299.8" cy="142.4" r="2.05" fill="#b8c272" stroke="#000" stroke-width="0.7"/>
<circle cx="295.8" cy="175.5" r="2.05" fill="#4fc27c" stroke="#000" stroke-width="0.7"/>
<circle cx="273.8" cy="148.3" r="2.05" fill="#b8c272" stroke="#000" stroke-width="0.7"/>
<circle cx="310.9" cy="155.0" r="2.05" fill="#b8c272" stroke="#000" stroke-width="0.7"/>
<circle cx="278.3" cy="172.2" r="2.05" fill="#4fc27c" stroke="#000" stroke-width="0.7"/>
<circle cx="288.8" cy="139.2" r="2.05" fill="#b8c272" stroke="#000" stroke-width="0.7"/>
<circle cx="306.2" cy="170.7" r="2.05" fill="#4fc27c" stroke="#000" stroke-width="0.7"/>
<circle cx="270.2" cy="157.5" r="2.05" fill="#b8c272" stroke="#000" stroke-width="0.7"/>
<circle cx="306.5" cy="145.4" r="2.05" fill="#b8c272" stroke="#000" stroke-width="0.7"/>
<circle cx="288.8" cy="176.9" r="2.05" fill="#4fc27c" stroke="#000" stroke-width="0.7"/>
<circle cx="278.0" cy="142.7" r="2.05" fill="#b8c272" stroke="#000" stroke-width="0.7"/>
<circle cx="311.9" cy="161.1" r="2.05" fill="#b8c272" stroke="#000" stroke-width="0.7"/>
<circle cx="272.7" cy="168.3" r="2.05" fill="#4fc27c" stroke="#000" stroke-width="0.7"/>
<circle cx="296.3" cy="139.4" r="2.05" fill="#b8c272" stroke="#000" stroke-width="0.7"/>
<circle cx="301.0" cy="175.4" r="2.05" fill="#4fc27c" stroke="#000" stroke-width="0.7"/>
<circle cx="269.9" cy="151.2" r="2.05" fill="#b8c272" stroke="#000" stroke-width="0.7"/>
<circle cx="311.0" cy="150.7" r="2.05" fill="#b8c272" stroke="#000" stroke-width="0.7"/>
<circle cx="281.3" cy="175.5" r="2.05" fill="#4fc27c" stroke="#000" stroke-width="0.7"/>
<circle cx="284.0" cy="138.7" r="2.05" fill="#b8c272" stroke="#000" stroke-width="0.7"/>
<circle cx="310.2" cy="168.2" r="2.05" fill="#4fc27c" stroke="#000" stroke-width="0.7"/>
<circle cx="268.9" cy="161.8" r="2.05" fill="#b8c272" stroke="#000" stroke-width="0.7"/>
<circle cx="303.7" cy="141.5" r="2.05" fill="#b8c272" stroke="#000" stroke-width="0.7"/>
<circle cx="293.1" cy="178.4" r="2.05" fill="#4fc27c" stroke="#000" stroke-width="0.7"/>
<circle cx="273.0" cy="144.6" r="2.05" fill="#b8c272" stroke="#000" stroke-width="0.7"/>
<circle cx="314.1" cy="157.4" r="2.05" fill="#b8c272" stroke="#000" stroke-width="0.7"/>
<circle cx="274.2" cy="172.6" r="2.05" fill="#4fc27c" stroke="#000" stroke-width="0.7"/>
<circle cx="291.8" cy="137.0" r="2.05" fill="#b8c272" stroke="#000" stroke-width="0.7"/>
<circle cx="289.6" cy="207.6" r="2.05" fill="#d48a32" stroke="#000" stroke-width="0.7"/>
<circle cx="294.0" cy="208.7" r="2.05" fill="#d48a32" stroke="#000" stroke-width="0.7"/>
<circle cx="288.1" cy="210.4" r="2.05" fill="#d48a32" stroke="#000" stroke-width="0.7"/>
<circle cx="291.2" cy="204.8" r="2.05" fill="#d48a32" stroke="#000" stroke-width="0.7"/>
<circle cx="293.8" cy="212.5" r="2.05" fill="#d48a32" stroke="#000" stroke-width="0.7"/>
<circle cx="284.8" cy="207.5" r="2.05" fill="#d48a32" stroke="#000" stroke-width="0.7"/>
<circle cx="295.9" cy="205.7" r="2.05" fill="#d48a32" stroke="#000" stroke-width="0.7"/>
<circle cx="288.8" cy="213.8" r="2.05" fill="#d4d4d4" stroke="#000" stroke-width="0.7"/>
<circle cx="287.4" cy="202.7" r="2.05" fill="#d48a32" stroke="#000" stroke-width="0.7"/>
<circle cx="298.0" cy="211.1" r="2.05" fill="#d48a32" stroke="#000" stroke-width="0.7"/>
<circle cx="283.1" cy="211.2" r="2.05" fill="#d48a32" stroke="#000" stroke-width="0.7"/>
<circle cx="294.2" cy="202.1" r="2.05" fill="#ec8591" stroke="#000" stroke-width="0.7"/>
<circle cx="292.8" cy="215.5" r="2.05" fill="#d4d4d4" stroke="#000" stroke-width="0.7"/>
<circle cx="283.3" cy="204.1" r="2.05" fill="#d48a32" stroke="#000" stroke-width="0.7"/>
<circle cx="299.6" cy="207.3" r="2.05" fill="#d48a32" stroke="#000" stroke-width="0.7"/>
<circle cx="285.2" cy="215.1" r="2.05" fill="#d4d4d4" stroke="#000" stroke-width="0.7"/>
<circle cx="290.0" cy="199.8" r="2.05" fill="#ec8591" stroke="#000" stroke-width="0.7"/>
<circle cx="298.4" cy="214.3" r="2.05" fill="#d4d4d4" stroke="#000" stroke-width="0.7"/>
<circle cx="280.5" cy="208.8" r="2.05" fill="#d48a32" stroke="#000" stroke-width="0.7"/>
<circle cx="298.9" cy="202.3" r="2.05" fill="#ec8591" stroke="#000" stroke-width="0.7"/>
<circle cx="289.7" cy="218.1" r="2.05" fill="#bb98dc" stroke="#000" stroke-width="0.7"/>
<circle cx="283.5" cy="200.4" r="2.05" fill="#ec8591" stroke="#000" stroke-width="0.7"/>
<circle cx="301.8" cy="210.0" r="2.05" fill="#d48a32" stroke="#000" stroke-width="0.7"/>
<circle cx="280.9" cy="213.9" r="2.05" fill="#d4d4d4" stroke="#000" stroke-width="0.7"/>
<circle cx="293.8" cy="198.1" r="2.05" fill="#ec8591" stroke="#000" stroke-width="0.7"/>
<circle cx="296.4" cy="218.3" r="2.05" fill="#bb98dc" stroke="#000" stroke-width="0.7"/>
<circle cx="278.8" cy="204.7" r="2.05" fill="#d48a32" stroke="#000" stroke-width="0.7"/>
<circle cx="302.5" cy="204.2" r="2.05" fill="#d48a32" stroke="#000" stroke-width="0.7"/>
<circle cx="285.0" cy="219.3" r="2.05" fill="#bb98dc" stroke="#000" stroke-width="0.7"/>
<circle cx="286.2" cy="197.6" r="2.05" fill="#ec8591" stroke="#000" stroke-width="0.7"/>
<circle cx="302.7" cy="214.0" r="2.05" fill="#d4d4d4" stroke="#000" stroke-width="0.7"/>
<circle cx="277.6" cy="211.1" r="2.05" fill="#d48a32" stroke="#000" stroke-width="0.7"/>
<circle cx="298.6" cy="198.0" r="2.05" fill="#ec8591" stroke="#000" stroke-width="0.7"/>
<circle cx="292.4" cy="220.6" r="2.05" fill="#bb98dc" stroke="#000" stroke-width="0.7"/>
<circle cx="279.9" cy="200.3" r="2.05" fill="#ec8591" stroke="#000" stroke-width="0.7"/>
<circle cx="305.4" cy="208.1" r="2.05" fill="#d48a32" stroke="#000" stroke-width="0.7"/>
<circle cx="280.7" cy="217.7" r="2.05" fill="#bb98dc" stroke="#000" stroke-width="0.7"/>
<circle cx="291.1" cy="195.4" r="2.05" fill="#ec8591" stroke="#000" stroke-width="0.7"/>
<circle cx="300.7" cy="218.4" r="2.05" fill="#bb98dc" stroke="#000" stroke-width="0.7"/>
<circle cx="275.6" cy="207.1" r="2.05" fill="#d48a32" stroke="#000" stroke-width="0.7"/>
<circle cx="303.6" cy="200.2" r="2.05" fill="#ec8591" stroke="#000" stroke-width="0.7"/>
<circle cx="287.8" cy="221.8" r="2.05" fill="#bb98dc" stroke="#000" stroke-width="0.7"/>
<circle cx="282.5" cy="196.5" r="2.05" fill="#ec8591" stroke="#000" stroke-width="0.7"/>
<circle cx="306.4" cy="212.5" r="2.05" fill="#d48a32" stroke="#000" stroke-width="0.7"/>
<circle cx="276.3" cy="214.7" r="2.05" fill="#d4d4d4" stroke="#000" stroke-width="0.7"/>
<circle cx="296.7" cy="194.9" r="2.05" fill="#ec8591" stroke="#000" stroke-width="0.7"/>
<circle cx="296.3" cy="221.9" r="2.05" fill="#bb98dc" stroke="#000" stroke-width="0.7"/>
<circle cx="275.5" cy="201.9" r="2.05" fill="#ec8591" stroke="#000" stroke-width="0.7"/>
<circle cx="307.4" cy="204.3" r="2.05" fill="#d48a32" stroke="#000" stroke-width="0.7"/>
<circle cx="281.3" cy="221.7" r="2.05" fill="#bb98dc" stroke="#000" stroke-width="0.7"/>
<circle cx="287.6" cy="193.4" r="2.05" fill="#d88fd6" stroke="#000" stroke-width="0.7"/>
<circle cx="304.5" cy="217.9" r="2.05" fill="#bb98dc" stroke="#000" stroke-width="0.7"/>
<circle cx="273.3" cy="210.0" r="2.05" fill="#d48a32" stroke="#000" stroke-width="0.7"/>
<circle cx="302.6" cy="196.5" r="2.05" fill="#ec8591" stroke="#000" stroke-width="0.7"/>
<circle cx="291.1" cy="224.1" r="2.05" fill="#bb98dc" stroke="#000" stroke-width="0.7"/>
<circle cx="278.3" cy="197.0" r="2.05" fill="#ec8591" stroke="#000" stroke-width="0.7"/>
<circle cx="308.7" cy="209.9" r="2.05" fill="#d48a32" stroke="#000" stroke-width="0.7"/>
<circle cx="276.4" cy="218.6" r="2.05" fill="#bb98dc" stroke="#000" stroke-width="0.7"/>
<circle cx="294.0" cy="192.0" r="2.05" fill="#d88fd6" stroke="#000" stroke-width="0.7"/>
<circle cx="300.9" cy="222.2" r="2.05" fill="#bb98dc" stroke="#000" stroke-width="0.7"/>
<circle cx="272.6" cy="204.1" r="2.05" fill="#d48a32" stroke="#000" stroke-width="0.7"/>
<circle cx="307.6" cy="201.0" r="2.05" fill="#ec8591" stroke="#000" stroke-width="0.7"/>
<circle cx="284.5" cy="224.9" r="2.05" fill="#bb98dc" stroke="#000" stroke-width="0.7"/>
<circle cx="283.1" cy="192.7" r="2.05" fill="#d88fd6" stroke="#000" stroke-width="0.7"/>
<circle cx="308.7" cy="215.7" r="2.05" fill="#d4d4d4" stroke="#000" stroke-width="0.7"/>
<circle cx="271.7" cy="213.8" r="2.05" fill="#d4d4d4" stroke="#000" stroke-width="0.7"/>
<circle cx="300.3" cy="193.2" r="2.05" fill="#d88fd6" stroke="#000" stroke-width="0.7"/>
<circle cx="295.5" cy="226.0" r="2.05" fill="#8fdc78" stroke="#000" stroke-width="0.7"/>
<circle cx="274.2" cy="198.4" r="2.05" fill="#ec8591" stroke="#000" stroke-width="0.7"/>
<circle cx="310.8" cy="205.8" r="2.05" fill="#d48a32" stroke="#000" stroke-width="0.7"/>
<circle cx="277.4" cy="222.6" r="2.05" fill="#bb98dc" stroke="#000" stroke-width="0.7"/>
<circle cx="289.9" cy="190.2" r="2.05" fill="#d88fd6" stroke="#000" stroke-width="0.7"/>
<circle cx="305.7" cy="221.6" r="2.05" fill="#bb98dc" stroke="#000" stroke-width="0.7"/>
<circle cx="269.9" cy="207.9" r="2.05" fill="#d48a32" stroke="#000" stroke-width="0.7"/>
<circle cx="307.0" cy="196.4" r="2.05" fill="#ec8591" stroke="#000" stroke-width="0.7"/>
<circle cx="288.2" cy="226.9" r="2.05" fill="#8fdc78" stroke="#000" stroke-width="0.7"/>
<circle cx="278.4" cy="193.3" r="2.05" fill="#d88fd6" stroke="#000" stroke-width="0.7"/>
<circle cx="311.8" cy="212.4" r="2.05" fill="#d48a32" stroke="#000" stroke-width="0.7"/>
<circle cx="272.3" cy="218.2" r="2.05" fill="#bb98dc" stroke="#000" stroke-width="0.7"/>
<circle cx="297.2" cy="189.8" r="2.05" fill="#d88fd6" stroke="#000" stroke-width="0.7"/>
<circle cx="300.1" cy="225.8" r="2.05" fill="#8fdc78" stroke="#000" stroke-width="0.7"/>
<circle cx="270.4" cy="201.1" r="2.05" fill="#ec8591" stroke="#000" stroke-width="0.7"/>
<circle cx="311.7" cy="201.8" r="2.05" fill="#ec8591" stroke="#000" stroke-width="0.7"/>
<circle cx="280.7" cy="225.9" r="2.05" fill="#8fdc78" stroke="#000" stroke-width="0.7"/>
<circle cx="284.9" cy="189.6" r="2.05" fill="#d88fd6" stroke="#000" stroke-width="0.7"/>
<circle cx="310.0" cy="219.0" r="2.05" fill="#bb98dc" stroke="#000" stroke-width="0.7"/>
<circle cx="268.6" cy="212.3" r="2.05" fill="#d48a32" stroke="#000" stroke-width="0.7"/>
<circle cx="304.7" cy="192.8" r="2.05" fill="#d88fd6" stroke="#000" stroke-width="0.7"/>
<circle cx="293.1" cy="228.7" r="2.05" fill="#8fdc78" stroke="#000" stroke-width="0.7"/>
<circle cx="273.6" cy="194.6" r="2.05" fill="#ec8591" stroke="#000" stroke-width="0.7"/>
<circle cx="314.2" cy="208.7" r="2.05" fill="#d48a32" stroke="#000" stroke-width="0.7"/>
<circle cx="273.5" cy="222.6" r="2.05" fill="#bb98dc" stroke="#000" stroke-width="0.7"/>
<circle cx="292.8" cy="188.0" r="2.05" fill="#d88fd6" stroke="#000" stroke-width="0.7"/>
<circle cx="304.9" cy="225.2" r="2.05" fill="#bb98dc" stroke="#000" stroke-width="0.7"/>
<circle cx="267.4" cy="205.0" r="2.05" fill="#d48a32" stroke="#000" stroke-width="0.7"/>
<circle cx="310.7" cy="197.3" r="2.05" fill="#ec8591" stroke="#000" stroke-width="0.7"/>
<circle cx="284.7" cy="229.0" r="2.05" fill="#8fdc78" stroke="#000" stroke-width="0.7"/>
<circle cx="279.7" cy="189.4" r="2.05" fill="#d88fd6" stroke="#000" stroke-width="0.7"/>
<circle cx="313.3" cy="215.7" r="2.05" fill="#d4d4d4" stroke="#000" stroke-width="0.7"/>
<circle cx="475.4" cy="93.9" r="2.05" fill="#bb9ce0" stroke="#000" stroke-width="0.7"/>
<circle cx="475.8" cy="97.5" r="2.05" fill="#93dc78" stroke="#000" stroke-width="0.7"/>
<circle cx="471.3" cy="94.2" r="2.05" fill="#bb9ce0" stroke="#000" stroke-width="0.7"/>
<circle cx="478.9" cy="93.8" r="2.05" fill="#bb9ce0" stroke="#000" stroke-width="0.7"/>
<circle cx="472.8" cy="99.6" r="2.05" fill="#93dc78" stroke="#000" stroke-width="0.7"/>
<circle cx="473.3" cy="90.6" r="2.05" fill="#bb9ce0" stroke="#000" stroke-width="0.7"/>
<circle cx="479.8" cy="98.4" r="2.05" fill="#93dc78" stroke="#000" stroke-width="0.7"/>
<circle cx="468.6" cy="96.5" r="2.05" fill="#93dc78" stroke="#000" stroke-width="0.7"/>
<circle cx="478.7" cy="90.4" r="2.05" fill="#bb9ce0" stroke="#000" stroke-width="0.7"/>
<circle cx="475.4" cy="102.5" r="2.05" fill="#8fcde0" stroke="#000" stroke-width="0.7"/>
<circle cx="469.1" cy="91.0" r="2.05" fill="#bb9ce0" stroke="#000" stroke-width="0.7"/>
<circle cx="482.5" cy="94.9" r="2.05" fill="#bb9ce0" stroke="#000" stroke-width="0.7"/>
<circle cx="469.0" cy="101.2" r="2.05" fill="#8fcde0" stroke="#000" stroke-width="0.7"/>
<circle cx="475.1" cy="87.0" r="2.05" fill="#bb9ce0" stroke="#000" stroke-width="0.7"/>
<circle cx="480.2" cy="102.1" r="2.05" fill="#8fcde0" stroke="#000" stroke-width="0.7"/>
<circle cx="465.4" cy="94.5" r="2.05" fill="#bb9ce0" stroke="#000" stroke-width="0.7"/>
<circle cx="482.6" cy="90.1" r="2.05" fill="#bb9ce0" stroke="#000" stroke-width="0.7"/>
<circle cx="472.6" cy="104.5" r="2.05" fill="#8fcde0" stroke="#000" stroke-width="0.7"/>
<circle cx="470.1" cy="87.4" r="2.05" fill="#bb9ce0" stroke="#000" stroke-width="0.7"/>
<circle cx="484.5" cy="98.6" r="2.05" fill="#93dc78" stroke="#000" stroke-width="0.7"/>
<circle cx="465.2" cy="99.8" r="2.05" fill="#93dc78" stroke="#000" stroke-width="0.7"/>
<circle cx="479.3" cy="85.6" r="2.05" fill="#bb9ce0" stroke="#000" stroke-width="0.7"/>
<circle cx="478.3" cy="105.5" r="2.05" fill="#8fcde0" stroke="#000" stroke-width="0.7"/>
<circle cx="464.6" cy="90.4" r="2.05" fill="#bb9ce0" stroke="#000" stroke-width="0.7"/>
<circle cx="485.6" cy="93.0" r="2.05" fill="#bb9ce0" stroke="#000" stroke-width="0.7"/>
<circle cx="468.3" cy="104.6" r="2.05" fill="#8fcde0" stroke="#000" stroke-width="0.7"/>
<circle cx="472.9" cy="84.0" r="2.05" fill="#bb9ce0" stroke="#000" stroke-width="0.7"/>
<circle cx="484.1" cy="102.7" r="2.05" fill="#8fcde0" stroke="#000" stroke-width="0.7"/>
<circle cx="462.0" cy="96.1" r="2.05" fill="#bb9ce0" stroke="#000" stroke-width="0.7"/>
<circle cx="483.7" cy="86.7" r="2.05" fill="#bb9ce0" stroke="#000" stroke-width="0.7"/>
<circle cx="474.2" cy="108.0" r="2.05" fill="#8fcde0" stroke="#000" stroke-width="0.7"/>
<circle cx="465.6" cy="86.0" r="2.05" fill="#bb9ce0" stroke="#000" stroke-width="0.7"/>
<circle cx="488.3" cy="96.8" r="2.05" fill="#93dc78" stroke="#000" stroke-width="0.7"/>
<circle cx="463.7" cy="103.1" r="2.05" fill="#8fcde0" stroke="#000" stroke-width="0.7"/>
<circle cx="477.2" cy="82.3" r="2.05" fill="#bb9ce0" stroke="#000" stroke-width="0.7"/>
<circle cx="482.4" cy="106.5" r="2.05" fill="#8fcde0" stroke="#000" stroke-width="0.7"/>
<circle cx="461.0" cy="92.0" r="2.05" fill="#bb9ce0" stroke="#000" stroke-width="0.7"/>
<circle cx="487.4" cy="89.6" r="2.05" fill="#bb9ce0" stroke="#000" stroke-width="0.7"/>
<circle cx="469.4" cy="108.8" r="2.05" fill="#8fcde0" stroke="#000" stroke-width="0.7"/>
<circle cx="469.5" cy="82.5" r="2.05" fill="#bb9ce0" stroke="#000" stroke-width="0.7"/>
<circle cx="488.4" cy="101.6" r="2.05" fill="#8fcde0" stroke="#000" stroke-width="0.7"/>
<circle cx="460.5" cy="99.8" r="2.05" fill="#93dc78" stroke="#000" stroke-width="0.7"/>
<circle cx="482.5" cy="82.9" r="2.05" fill="#bb9ce0" stroke="#000" stroke-width="0.7"/>
<circle cx="478.0" cy="109.8" r="2.05" fill="#8fcde0" stroke="#000" stroke-width="0.7"/>
<circle cx="461.7" cy="86.9" r="2.05" fill="#bb9ce0" stroke="#000" stroke-width="0.7"/>
<circle cx="490.2" cy="93.7" r="2.05" fill="#bb9ce0" stroke="#000" stroke-width="0.7"/>
<circle cx="464.5" cy="106.8" r="2.05" fill="#8fcde0" stroke="#000" stroke-width="0.7"/>
<circle cx="473.9" cy="79.8" r="2.05" fill="#bb9ce0" stroke="#000" stroke-width="0.7"/>
<circle cx="486.1" cy="106.5" r="2.05" fill="#8fcde0" stroke="#000" stroke-width="0.7"/>
<circle cx="458.1" cy="94.5" r="2.05" fill="#bb9ce0" stroke="#000" stroke-width="0.7"/>
<circle cx="487.9" cy="85.2" r="2.05" fill="#bb9ce0" stroke="#000" stroke-width="0.7"/>
<circle cx="472.2" cy="111.6" r="2.05" fill="#8fcde0" stroke="#000" stroke-width="0.7"/>
<circle cx="465.3" cy="81.9" r="2.05" fill="#bb9ce0" stroke="#000" stroke-width="0.7"/>
<circle cx="491.3" cy="99.2" r="2.05" fill="#93dc78" stroke="#000" stroke-width="0.7"/>
<circle cx="459.3" cy="103.4" r="2.05" fill="#8fcde0" stroke="#000" stroke-width="0.7"/>
<circle cx="480.1" cy="79.9" r="2.05" fill="#bb9ce0" stroke="#000" stroke-width="0.7"/>
<circle cx="481.8" cy="110.9" r="2.05" fill="#8fcde0" stroke="#000" stroke-width="0.7"/>
<circle cx="458.7" cy="89.0" r="2.05" fill="#bb9ce0" stroke="#000" stroke-width="0.7"/>
<circle cx="491.5" cy="89.9" r="2.05" fill="#bb9ce0" stroke="#000" stroke-width="0.7"/>
<circle cx="466.0" cy="110.5" r="2.05" fill="#8fcde0" stroke="#000" stroke-width="0.7"/>
<circle cx="470.3" cy="78.8" r="2.05" fill="#c8c8c8" stroke="#000" stroke-width="0.7"/>
<circle cx="490.3" cy="105.0" r="2.05" fill="#8fcde0" stroke="#000" stroke-width="0.7"/>
<circle cx="456.1" cy="98.2" r="2.05" fill="#93dc78" stroke="#000" stroke-width="0.7"/>
<circle cx="486.0" cy="81.2" r="2.05" fill="#bb9ce0" stroke="#000" stroke-width="0.7"/>
<circle cx="476.2" cy="113.1" r="2.05" fill="#8fcde0" stroke="#000" stroke-width="0.7"/>
<circle cx="461.1" cy="82.9" r="2.05" fill="#bb9ce0" stroke="#000" stroke-width="0.7"/>
<circle cx="494.1" cy="96.0" r="2.05" fill="#bb9ce0" stroke="#000" stroke-width="0.7"/>
<circle cx="460.0" cy="107.4" r="2.05" fill="#8fcde0" stroke="#000" stroke-width="0.7"/>
<circle cx="477.0" cy="77.1" r="2.05" fill="#c8c8c8" stroke="#000" stroke-width="0.7"/>
<circle cx="486.3" cy="110.6" r="2.05" fill="#8fcde0" stroke="#000" stroke-width="0.7"/>
<circle cx="455.6" cy="91.9" r="2.05" fill="#bb9ce0" stroke="#000" stroke-width="0.7"/>
<circle cx="491.6" cy="85.3" r="2.05" fill="#bb9ce0" stroke="#000" stroke-width="0.7"/>
<circle cx="469.1" cy="113.5" r="2.05" fill="#8fcde0" stroke="#000" stroke-width="0.7"/>
<circle cx="465.8" cy="78.4" r="2.05" fill="#c8c8c8" stroke="#000" stroke-width="0.7"/>
<circle cx="493.3" cy="102.5" r="2.05" fill="#8fcde0" stroke="#000" stroke-width="0.7"/>
<circle cx="455.5" cy="102.3" r="2.05" fill="#8fcde0" stroke="#000" stroke-width="0.7"/>
<circle cx="483.8" cy="77.9" r="2.05" fill="#c8c8c8" stroke="#000" stroke-width="0.7"/>
<circle cx="480.8" cy="114.4" r="2.05" fill="#8fcde0" stroke="#000" stroke-width="0.7"/>
<circle cx="457.1" cy="85.0" r="2.05" fill="#bb9ce0" stroke="#000" stroke-width="0.7"/>
<circle cx="495.4" cy="91.2" r="2.05" fill="#bb9ce0" stroke="#000" stroke-width="0.7"/>
<circle cx="462.4" cy="112.0" r="2.05" fill="#8fcde0" stroke="#000" stroke-width="0.7"/>
<circle cx="472.6" cy="75.7" r="2.05" fill="#c8c8c8" stroke="#000" stroke-width="0.7"/>
<circle cx="490.7" cy="108.9" r="2.05" fill="#8fcde0" stroke="#000" stroke-width="0.7"/>
<circle cx="453.5" cy="95.7" r="2.05" fill="#bb9ce0" stroke="#000" stroke-width="0.7"/>
<circle cx="490.5" cy="81.5" r="2.05" fill="#bb9ce0" stroke="#000" stroke-width="0.7"/>
<circle cx="473.3" cy="116.3" r="2.05" fill="#8fcde0" stroke="#000" stroke-width="0.7"/>
<circle cx="461.0" cy="79.1" r="2.05" fill="#c8c8c8" stroke="#000" stroke-width="0.7"/>
<circle cx="496.5" cy="98.3" r="2.05" fill="#93dc78" stroke="#000" stroke-width="0.7"/>
<circle cx="456.6" cy="107.5" r="2.05" fill="#8fcde0" stroke="#000" stroke-width="0.7"/>
<circle cx="479.8" cy="75.2" r="2.05" fill="#c8c8c8" stroke="#000" stroke-width="0.7"/>
<circle cx="485.2" cy="114.3" r="2.05" fill="#8fcde0" stroke="#000" stroke-width="0.7"/>
<circle cx="453.3" cy="88.9" r="2.05" fill="#bb9ce0" stroke="#000" stroke-width="0.7"/>
<circle cx="495.3" cy="87.1" r="2.05" fill="#bb9ce0" stroke="#000" stroke-width="0.7"/>
<circle cx="465.3" cy="115.0" r="2.05" fill="#8fcde0" stroke="#000" stroke-width="0.7"/>
<circle cx="467.6" cy="75.0" r="2.05" fill="#c8c8c8" stroke="#000" stroke-width="0.7"/>
<circle cx="494.8" cy="105.6" r="2.05" fill="#8fcde0" stroke="#000" stroke-width="0.7"/>
<circle cx="452.1" cy="100.6" r="2.05" fill="#8fcde0" stroke="#000" stroke-width="0.7"/>
<circle cx="487.2" cy="77.4" r="2.05" fill="#c8c8c8" stroke="#000" stroke-width="0.7"/>
<circle cx="478.4" cy="117.7" r="2.05" fill="#8fcde0" stroke="#000" stroke-width="0.7"/>
<circle cx="476.7" cy="150.6" r="2.05" fill="#d08ad6" stroke="#000" stroke-width="0.7"/>
<circle cx="476.5" cy="146.8" r="2.05" fill="#d08ad6" stroke="#000" stroke-width="0.7"/>
<circle cx="481.0" cy="150.5" r="2.05" fill="#d08ad6" stroke="#000" stroke-width="0.7"/>
<circle cx="473.0" cy="149.6" r="2.05" fill="#d08ad6" stroke="#000" stroke-width="0.7"/>
<circle cx="480.9" cy="145.3" r="2.05" fill="#d08ad6" stroke="#000" stroke-width="0.7"/>
<circle cx="478.0" cy="153.9" r="2.05" fill="#d08ad6" stroke="#000" stroke-width="0.7"/>
<circle cx="473.1" cy="145.4" r="2.05" fill="#d08ad6" stroke="#000" stroke-width="0.7"/>
<circle cx="484.5" cy="149.1" r="2.05" fill="#d08ad6" stroke="#000" stroke-width="0.7"/>
<circle cx="472.6" cy="153.3" r="2.05" fill="#d08ad6" stroke="#000" stroke-width="0.7"/>
<circle cx="478.2" cy="143.2" r="2.05" fill="#d08ad6" stroke="#000" stroke-width="0.7"/>
<circle cx="482.5" cy="154.6" r="2.05" fill="#d08ad6" stroke="#000" stroke-width="0.7"/>
<circle cx="469.0" cy="147.8" r="2.05" fill="#d08ad6" stroke="#000" stroke-width="0.7"/>
<circle cx="485.0" cy="145.0" r="2.05" fill="#d08ad6" stroke="#000" stroke-width="0.7"/>
<circle cx="475.6" cy="156.3" r="2.05" fill="#d08ad6" stroke="#000" stroke-width="0.7"/>
<circle cx="473.1" cy="142.4" r="2.05" fill="#d08ad6" stroke="#000" stroke-width="0.7"/>
<circle cx="487.1" cy="151.8" r="2.05" fill="#d08ad6" stroke="#000" stroke-width="0.7"/>
<circle cx="467.9" cy="152.2" r="2.05" fill="#d08ad6" stroke="#000" stroke-width="0.7"/>
<circle cx="481.9" cy="141.4" r="2.05" fill="#d08ad6" stroke="#000" stroke-width="0.7"/>
<circle cx="481.1" cy="157.4" r="2.05" fill="#d08ad6" stroke="#000" stroke-width="0.7"/>
<circle cx="467.9" cy="144.7" r="2.05" fill="#d08ad6" stroke="#000" stroke-width="0.7"/>
<circle cx="488.8" cy="147.2" r="2.05" fill="#d08ad6" stroke="#000" stroke-width="0.7"/>
<circle cx="471.2" cy="156.9" r="2.05" fill="#d08ad6" stroke="#000" stroke-width="0.7"/>
<circle cx="476.0" cy="139.5" r="2.05" fill="#d08ad6" stroke="#000" stroke-width="0.7"/>
<circle cx="487.5" cy="155.6" r="2.05" fill="#d08ad6" stroke="#000" stroke-width="0.7"/>
<circle cx="465.0" cy="150.1" r="2.05" fill="#d08ad6" stroke="#000" stroke-width="0.7"/>
<circle cx="486.4" cy="141.6" r="2.05" fill="#d08ad6" stroke="#000" stroke-width="0.7"/>
<circle cx="477.5" cy="159.5" r="2.05" fill="#d08ad6" stroke="#000" stroke-width="0.7"/>
<circle cx="469.0" cy="140.7" r="2.05" fill="#d08ad6" stroke="#000" stroke-width="0.7"/>
<circle cx="491.3" cy="150.6" r="2.05" fill="#d08ad6" stroke="#000" stroke-width="0.7"/>
<circle cx="466.5" cy="155.9" r="2.05" fill="#d08ad6" stroke="#000" stroke-width="0.7"/>
<circle cx="480.4" cy="138.2" r="2.05" fill="#d08ad6" stroke="#000" stroke-width="0.7"/>
<circle cx="485.1" cy="159.1" r="2.05" fill="#d08ad6" stroke="#000" stroke-width="0.7"/>
<circle cx="463.8" cy="146.0" r="2.05" fill="#d08ad6" stroke="#000" stroke-width="0.7"/>
<circle cx="491.3" cy="144.0" r="2.05" fill="#d08ad6" stroke="#000" stroke-width="0.7"/>
<circle cx="472.3" cy="160.1" r="2.05" fill="#d08ad6" stroke="#000" stroke-width="0.7"/>
<circle cx="472.5" cy="137.8" r="2.05" fill="#d08ad6" stroke="#000" stroke-width="0.7"/>
<circle cx="491.8" cy="155.0" r="2.05" fill="#d08ad6" stroke="#000" stroke-width="0.7"/>
<circle cx="462.5" cy="152.5" r="2.05" fill="#d08ad6" stroke="#000" stroke-width="0.7"/>
<circle cx="486.1" cy="138.0" r="2.05" fill="#d08ad6" stroke="#000" stroke-width="0.7"/>
<circle cx="480.6" cy="161.6" r="2.05" fill="#d08ad6" stroke="#000" stroke-width="0.7"/>
<circle cx="464.5" cy="141.0" r="2.05" fill="#d08ad6" stroke="#000" stroke-width="0.7"/>
<circle cx="494.2" cy="147.6" r="2.05" fill="#d08ad6" stroke="#000" stroke-width="0.7"/>
<circle cx="466.4" cy="159.1" r="2.05" fill="#d08ad6" stroke="#000" stroke-width="0.7"/>
<circle cx="477.8" cy="135.3" r="2.05" fill="#d08ad6" stroke="#000" stroke-width="0.7"/>
<circle cx="489.3" cy="159.2" r="2.05" fill="#d08ad6" stroke="#000" stroke-width="0.7"/>
<circle cx="460.8" cy="148.3" r="2.05" fill="#d08ad6" stroke="#000" stroke-width="0.7"/>
<circle cx="491.6" cy="140.3" r="2.05" fill="#d08ad6" stroke="#000" stroke-width="0.7"/>
<circle cx="474.8" cy="163.0" r="2.05" fill="#d08ad6" stroke="#000" stroke-width="0.7"/>
<circle cx="468.3" cy="137.5" r="2.05" fill="#d08ad6" stroke="#000" stroke-width="0.7"/>
<circle cx="494.8" cy="152.5" r="2.05" fill="#d08ad6" stroke="#000" stroke-width="0.7"/>
<circle cx="461.5" cy="155.9" r="2.05" fill="#d08ad6" stroke="#000" stroke-width="0.7"/>
<circle cx="483.8" cy="135.3" r="2.05" fill="#d08ad6" stroke="#000" stroke-width="0.7"/>
<circle cx="484.8" cy="162.5" r="2.05" fill="#d08ad6" stroke="#000" stroke-width="0.7"/>
<circle cx="460.7" cy="142.8" r="2.05" fill="#d08ad6" stroke="#000" stroke-width="0.7"/>
<circle cx="495.6" cy="144.8" r="2.05" fill="#d08ad6" stroke="#000" stroke-width="0.7"/>
<circle cx="468.5" cy="162.5" r="2.05" fill="#d08ad6" stroke="#000" stroke-width="0.7"/>
<circle cx="473.5" cy="134.2" r="2.05" fill="#d08ad6" stroke="#000" stroke-width="0.7"/>
<circle cx="493.3" cy="158.3" r="2.05" fill="#d08ad6" stroke="#000" stroke-width="0.7"/>
<circle cx="458.6" cy="151.6" r="2.05" fill="#d08ad6" stroke="#000" stroke-width="0.7"/>
<circle cx="490.4" cy="136.8" r="2.05" fill="#d08ad6" stroke="#000" stroke-width="0.7"/>
<circle cx="478.7" cy="164.9" r="2.05" fill="#d08ad6" stroke="#000" stroke-width="0.7"/>
<circle cx="463.5" cy="137.5" r="2.05" fill="#d08ad6" stroke="#000" stroke-width="0.7"/>
<circle cx="497.5" cy="149.5" r="2.05" fill="#d08ad6" stroke="#000" stroke-width="0.7"/>
<circle cx="462.0" cy="159.7" r="2.05" fill="#d08ad6" stroke="#000" stroke-width="0.7"/>
<circle cx="479.9" cy="132.4" r="2.05" fill="#d08ad6" stroke="#000" stroke-width="0.7"/>
<circle cx="489.4" cy="162.4" r="2.05" fill="#d08ad6" stroke="#000" stroke-width="0.7"/>
<circle cx="457.3" cy="145.3" r="2.05" fill="#d08ad6" stroke="#000" stroke-width="0.7"/>
<circle cx="496.0" cy="140.7" r="2.05" fill="#d08ad6" stroke="#000" stroke-width="0.7"/>
<circle cx="471.3" cy="165.3" r="2.05" fill="#d08ad6" stroke="#000" stroke-width="0.7"/>
<circle cx="468.5" cy="133.6" r="2.05" fill="#d08ad6" stroke="#000" stroke-width="0.7"/>
<circle cx="497.3" cy="155.9" r="2.05" fill="#d08ad6" stroke="#000" stroke-width="0.7"/>
<circle cx="457.9" cy="155.2" r="2.05" fill="#d08ad6" stroke="#000" stroke-width="0.7"/>
<circle cx="487.6" cy="133.3" r="2.05" fill="#d08ad6" stroke="#000" stroke-width="0.7"/>
<circle cx="483.2" cy="166.0" r="2.05" fill="#d08ad6" stroke="#000" stroke-width="0.7"/>
<circle cx="458.9" cy="139.9" r="2.05" fill="#d08ad6" stroke="#000" stroke-width="0.7"/>
<circle cx="499.2" cy="145.6" r="2.05" fill="#d08ad6" stroke="#000" stroke-width="0.7"/>
<circle cx="464.6" cy="163.5" r="2.05" fill="#d08ad6" stroke="#000" stroke-width="0.7"/>
<circle cx="475.4" cy="131.1" r="2.05" fill="#d08ad6" stroke="#000" stroke-width="0.7"/>
<circle cx="494.1" cy="161.4" r="2.05" fill="#d08ad6" stroke="#000" stroke-width="0.7"/>
<circle cx="455.3" cy="149.5" r="2.05" fill="#d08ad6" stroke="#000" stroke-width="0.7"/>
<circle cx="494.6" cy="136.4" r="2.05" fill="#d08ad6" stroke="#000" stroke-width="0.7"/>
<circle cx="475.7" cy="167.4" r="2.05" fill="#d08ad6" stroke="#000" stroke-width="0.7"/>
<circle cx="463.7" cy="134.4" r="2.05" fill="#d08ad6" stroke="#000" stroke-width="0.7"/>
<circle cx="656.0" cy="95.9" r="2.05" fill="#8fcde0" stroke="#000" stroke-width="0.7"/>
<circle cx="653.2" cy="92.7" r="2.05" fill="#8fcde0" stroke="#000" stroke-width="0.7"/>
<circle cx="659.1" cy="94.8" r="2.05" fill="#8fcde0" stroke="#000" stroke-width="0.7"/>
<circle cx="652.0" cy="97.6" r="2.05" fill="#8fcde0" stroke="#000" stroke-width="0.7"/>
<circle cx="655.5" cy="90.1" r="2.05" fill="#8fcde0" stroke="#000" stroke-width="0.7"/>
<circle cx="659.1" cy="98.2" r="2.05" fill="#8fcde0" stroke="#000" stroke-width="0.7"/>
<circle cx="649.5" cy="93.7" r="2.05" fill="#8fcde0" stroke="#000" stroke-width="0.7"/>
<circle cx="660.6" cy="90.9" r="2.05" fill="#8fcde0" stroke="#000" stroke-width="0.7"/>
<circle cx="653.8" cy="100.7" r="2.05" fill="#8fcde0" stroke="#000" stroke-width="0.7"/>
<circle cx="651.8" cy="88.9" r="2.05" fill="#8fcde0" stroke="#000" stroke-width="0.7"/>
<circle cx="662.7" cy="96.5" r="2.05" fill="#8fcde0" stroke="#000" stroke-width="0.7"/>
<circle cx="648.3" cy="97.5" r="2.05" fill="#8fcde0" stroke="#000" stroke-width="0.7"/>
<circle cx="658.7" cy="87.5" r="2.05" fill="#8fcde0" stroke="#000" stroke-width="0.7"/>
<circle cx="658.7" cy="101.9" r="2.05" fill="#8fcde0" stroke="#000" stroke-width="0.7"/>
<circle cx="647.3" cy="91.0" r="2.05" fill="#8fcde0" stroke="#000" stroke-width="0.7"/>
<circle cx="664.7" cy="92.6" r="2.05" fill="#8fcde0" stroke="#000" stroke-width="0.7"/>
<circle cx="650.3" cy="101.8" r="2.05" fill="#8fcde0" stroke="#000" stroke-width="0.7"/>
<circle cx="653.2" cy="86.2" r="2.05" fill="#8fcde0" stroke="#000" stroke-width="0.7"/>
<circle cx="663.8" cy="99.9" r="2.05" fill="#8fcde0" stroke="#000" stroke-width="0.7"/>
<circle cx="645.0" cy="95.7" r="2.05" fill="#8fcde0" stroke="#000" stroke-width="0.7"/>
<circle cx="662.9" cy="87.7" r="2.05" fill="#8fcde0" stroke="#000" stroke-width="0.7"/>
<circle cx="655.4" cy="104.5" r="2.05" fill="#8fcde0" stroke="#000" stroke-width="0.7"/>
<circle cx="647.8" cy="87.0" r="2.05" fill="#8fcde0" stroke="#000" stroke-width="0.7"/>
<circle cx="667.3" cy="95.1" r="2.05" fill="#8fcde0" stroke="#000" stroke-width="0.7"/>
<circle cx="646.1" cy="101.4" r="2.05" fill="#8fcde0" stroke="#000" stroke-width="0.7"/>
<circle cx="657.7" cy="84.2" r="2.05" fill="#8fcde0" stroke="#000" stroke-width="0.7"/>
<circle cx="662.3" cy="103.7" r="2.05" fill="#8fcde0" stroke="#000" stroke-width="0.7"/>
<circle cx="642.8" cy="91.9" r="2.05" fill="#8fcde0" stroke="#000" stroke-width="0.7"/>
<circle cx="666.9" cy="88.9" r="2.05" fill="#8fcde0" stroke="#000" stroke-width="0.7"/>
<circle cx="651.3" cy="105.6" r="2.05" fill="#8fcde0" stroke="#000" stroke-width="0.7"/>
<circle cx="650.2" cy="83.6" r="2.05" fill="#8fcde0" stroke="#000" stroke-width="0.7"/>
<circle cx="667.7" cy="99.3" r="2.05" fill="#8fcde0" stroke="#000" stroke-width="0.7"/>
<circle cx="642.1" cy="98.3" r="2.05" fill="#8fcde0" stroke="#000" stroke-width="0.7"/>
<circle cx="662.2" cy="83.7" r="2.05" fill="#8fcde0" stroke="#000" stroke-width="0.7"/>
<circle cx="658.9" cy="107.2" r="2.05" fill="#8fcde0" stroke="#000" stroke-width="0.7"/>
<circle cx="643.2" cy="87.4" r="2.05" fill="#8fcde0" stroke="#000" stroke-width="0.7"/>
<circle cx="669.7" cy="92.9" r="2.05" fill="#8fcde0" stroke="#000" stroke-width="0.7"/>
<circle cx="646.3" cy="104.6" r="2.05" fill="#8fcde0" stroke="#000" stroke-width="0.7"/>
<circle cx="654.8" cy="81.2" r="2.05" fill="#bb9ce0" stroke="#000" stroke-width="0.7"/>
<circle cx="666.0" cy="104.3" r="2.05" fill="#8fcde0" stroke="#000" stroke-width="0.7"/>
<circle cx="639.8" cy="94.0" r="2.05" fill="#8fcde0" stroke="#000" stroke-width="0.7"/>
<circle cx="667.3" cy="85.5" r="2.05" fill="#8fcde0" stroke="#000" stroke-width="0.7"/>
<circle cx="653.4" cy="108.5" r="2.05" fill="#8fcde0" stroke="#000" stroke-width="0.7"/>
<circle cx="646.0" cy="83.2" r="2.05" fill="#8fcde0" stroke="#000" stroke-width="0.7"/>
<circle cx="671.1" cy="97.3" r="2.05" fill="#8fcde0" stroke="#000" stroke-width="0.7"/>
<circle cx="641.0" cy="101.7" r="2.05" fill="#8fcde0" stroke="#000" stroke-width="0.7"/>
<circle cx="660.2" cy="80.6" r="2.05" fill="#bb9ce0" stroke="#000" stroke-width="0.7"/>
<circle cx="662.9" cy="108.0" r="2.05" fill="#8fcde0" stroke="#000" stroke-width="0.7"/>
<circle cx="639.8" cy="89.4" r="2.05" fill="#8fcde0" stroke="#000" stroke-width="0.7"/>
<circle cx="671.1" cy="89.0" r="2.05" fill="#8fcde0" stroke="#000" stroke-width="0.7"/>
<circle cx="647.3" cy="108.2" r="2.05" fill="#8fcde0" stroke="#000" stroke-width="0.7"/>
<circle cx="650.8" cy="80.0" r="2.05" fill="#bb9ce0" stroke="#000" stroke-width="0.7"/>
<circle cx="670.3" cy="103.2" r="2.05" fill="#8fcde0" stroke="#000" stroke-width="0.7"/>
<circle cx="637.6" cy="97.7" r="2.05" fill="#8fcde0" stroke="#000" stroke-width="0.7"/>
<circle cx="666.0" cy="82.3" r="2.05" fill="#bb9ce0" stroke="#000" stroke-width="0.7"/>
<circle cx="656.8" cy="110.9" r="2.05" fill="#8fcde0" stroke="#000" stroke-width="0.7"/>
<circle cx="642.0" cy="84.2" r="2.05" fill="#8fcde0" stroke="#000" stroke-width="0.7"/>
<circle cx="673.9" cy="94.3" r="2.05" fill="#8fcde0" stroke="#000" stroke-width="0.7"/>
<circle cx="642.1" cy="105.8" r="2.05" fill="#8fcde0" stroke="#000" stroke-width="0.7"/>
<circle cx="656.6" cy="78.2" r="2.05" fill="#bb9ce0" stroke="#000" stroke-width="0.7"/>
<circle cx="667.0" cy="107.8" r="2.05" fill="#8fcde0" stroke="#000" stroke-width="0.7"/>
<circle cx="636.3" cy="91.6" r="2.05" fill="#8fcde0" stroke="#000" stroke-width="0.7"/>
<circle cx="671.6" cy="85.4" r="2.05" fill="#8fcde0" stroke="#000" stroke-width="0.7"/>
<circle cx="650.3" cy="111.1" r="2.05" fill="#8fcde0" stroke="#000" stroke-width="0.7"/>
<circle cx="646.4" cy="79.6" r="2.05" fill="#bb9ce0" stroke="#000" stroke-width="0.7"/>
<circle cx="673.9" cy="100.4" r="2.05" fill="#8fcde0" stroke="#000" stroke-width="0.7"/>
<circle cx="637.0" cy="101.3" r="2.05" fill="#8fcde0" stroke="#000" stroke-width="0.7"/>
<circle cx="663.5" cy="78.6" r="2.05" fill="#bb9ce0" stroke="#000" stroke-width="0.7"/>
<circle cx="661.3" cy="111.7" r="2.05" fill="#8fcde0" stroke="#000" stroke-width="0.7"/>
<circle cx="637.9" cy="85.9" r="2.05" fill="#8fcde0" stroke="#000" stroke-width="0.7"/>
<circle cx="675.0" cy="90.5" r="2.05" fill="#8fcde0" stroke="#000" stroke-width="0.7"/>
<circle cx="643.7" cy="109.3" r="2.05" fill="#8fcde0" stroke="#000" stroke-width="0.7"/>
<circle cx="652.9" cy="76.7" r="2.05" fill="#bb9ce0" stroke="#000" stroke-width="0.7"/>
<circle cx="671.5" cy="106.5" r="2.05" fill="#8fcde0" stroke="#000" stroke-width="0.7"/>
<circle cx="634.2" cy="95.4" r="2.05" fill="#8fcde0" stroke="#000" stroke-width="0.7"/>
<circle cx="670.3" cy="81.6" r="2.05" fill="#bb9ce0" stroke="#000" stroke-width="0.7"/>
<circle cx="654.7" cy="113.0" r="2.05" fill="#8fcde0" stroke="#000" stroke-width="0.7"/>
<circle cx="641.6" cy="80.5" r="2.05" fill="#bb9ce0" stroke="#000" stroke-width="0.7"/>
<circle cx="677.0" cy="97.3" r="2.05" fill="#8fcde0" stroke="#000" stroke-width="0.7"/>
<circle cx="638.0" cy="105.5" r="2.05" fill="#8fcde0" stroke="#000" stroke-width="0.7"/>
<circle cx="659.9" cy="75.9" r="2.05" fill="#bb9ce0" stroke="#000" stroke-width="0.7"/>
<circle cx="666.8" cy="111.3" r="2.05" fill="#8fcde0" stroke="#000" stroke-width="0.7"/>
<circle cx="634.6" cy="89.1" r="2.05" fill="#8fcde0" stroke="#000" stroke-width="0.7"/>
<circle cx="675.5" cy="86.4" r="2.05" fill="#8fcde0" stroke="#000" stroke-width="0.7"/>
<circle cx="653.9" cy="148.8" r="2.05" fill="#8fcde0" stroke="#000" stroke-width="0.7"/>
<circle cx="657.5" cy="146.1" r="2.05" fill="#8fcde0" stroke="#000" stroke-width="0.7"/>
<circle cx="656.2" cy="152.4" r="2.05" fill="#8fcde0" stroke="#000" stroke-width="0.7"/>
<circle cx="651.9" cy="146.1" r="2.05" fill="#8fcde0" stroke="#000" stroke-width="0.7"/>
<circle cx="660.7" cy="148.1" r="2.05" fill="#8fcde0" stroke="#000" stroke-width="0.7"/>
<circle cx="651.7" cy="152.6" r="2.05" fill="#8fcde0" stroke="#000" stroke-width="0.7"/>
<circle cx="655.8" cy="143.2" r="2.05" fill="#8fcde0" stroke="#000" stroke-width="0.7"/>
<circle cx="659.6" cy="153.1" r="2.05" fill="#8fcde0" stroke="#000" stroke-width="0.7"/>
<circle cx="648.5" cy="148.0" r="2.05" fill="#8fcde0" stroke="#000" stroke-width="0.7"/>
<circle cx="661.8" cy="144.8" r="2.05" fill="#8fcde0" stroke="#000" stroke-width="0.7"/>
<circle cx="654.3" cy="155.6" r="2.05" fill="#8fcde0" stroke="#000" stroke-width="0.7"/>
<circle cx="651.7" cy="142.0" r="2.05" fill="#8fcde0" stroke="#000" stroke-width="0.7"/>
<circle cx="663.5" cy="151.1" r="2.05" fill="#8fcde0" stroke="#000" stroke-width="0.7"/>
<circle cx="648.0" cy="152.2" r="2.05" fill="#8fcde0" stroke="#000" stroke-width="0.7"/>
<circle cx="658.7" cy="140.7" r="2.05" fill="#8fcde0" stroke="#000" stroke-width="0.7"/>
<circle cx="658.7" cy="156.7" r="2.05" fill="#8fcde0" stroke="#000" stroke-width="0.7"/>
<circle cx="647.3" cy="144.4" r="2.05" fill="#8fcde0" stroke="#000" stroke-width="0.7"/>
<circle cx="665.4" cy="146.4" r="2.05" fill="#8fcde0" stroke="#000" stroke-width="0.7"/>
<circle cx="650.0" cy="156.7" r="2.05" fill="#8fcde0" stroke="#000" stroke-width="0.7"/>
<circle cx="653.7" cy="138.8" r="2.05" fill="#8fcde0" stroke="#000" stroke-width="0.7"/>
<circle cx="664.2" cy="155.0" r="2.05" fill="#8fcde0" stroke="#000" stroke-width="0.7"/>
<circle cx="644.5" cy="149.8" r="2.05" fill="#8fcde0" stroke="#000" stroke-width="0.7"/>
<circle cx="662.8" cy="140.9" r="2.05" fill="#8fcde0" stroke="#000" stroke-width="0.7"/>
<circle cx="656.1" cy="159.2" r="2.05" fill="#8fcde0" stroke="#000" stroke-width="0.7"/>
<circle cx="647.3" cy="140.4" r="2.05" fill="#8fcde0" stroke="#000" stroke-width="0.7"/>
<circle cx="667.6" cy="149.2" r="2.05" fill="#8fcde0" stroke="#000" stroke-width="0.7"/>
<circle cx="645.8" cy="155.7" r="2.05" fill="#8fcde0" stroke="#000" stroke-width="0.7"/>
<circle cx="657.9" cy="137.2" r="2.05" fill="#8fcde0" stroke="#000" stroke-width="0.7"/>
<circle cx="662.5" cy="158.7" r="2.05" fill="#8fcde0" stroke="#000" stroke-width="0.7"/>
<circle cx="642.9" cy="145.8" r="2.05" fill="#8fcde0" stroke="#000" stroke-width="0.7"/>
<circle cx="666.9" cy="143.0" r="2.05" fill="#8fcde0" stroke="#000" stroke-width="0.7"/>
<circle cx="651.6" cy="160.1" r="2.05" fill="#8fcde0" stroke="#000" stroke-width="0.7"/>
<circle cx="650.4" cy="137.2" r="2.05" fill="#8fcde0" stroke="#000" stroke-width="0.7"/>
<circle cx="667.9" cy="153.8" r="2.05" fill="#8fcde0" stroke="#000" stroke-width="0.7"/>
<circle cx="642.8" cy="153.1" r="2.05" fill="#8fcde0" stroke="#000" stroke-width="0.7"/>
<circle cx="662.3" cy="137.3" r="2.05" fill="#8fcde0" stroke="#000" stroke-width="0.7"/>
<circle cx="659.2" cy="161.5" r="2.05" fill="#8fcde0" stroke="#000" stroke-width="0.7"/>
<circle cx="643.8" cy="140.7" r="2.05" fill="#8fcde0" stroke="#000" stroke-width="0.7"/>
<circle cx="670.1" cy="146.9" r="2.05" fill="#8fcde0" stroke="#000" stroke-width="0.7"/>
<circle cx="646.3" cy="159.6" r="2.05" fill="#8fcde0" stroke="#000" stroke-width="0.7"/>
<circle cx="654.6" cy="134.5" r="2.05" fill="#c8c8c8" stroke="#000" stroke-width="0.7"/>
<circle cx="666.8" cy="158.7" r="2.05" fill="#8fcde0" stroke="#000" stroke-width="0.7"/>
<circle cx="640.2" cy="148.1" r="2.05" fill="#8fcde0" stroke="#000" stroke-width="0.7"/>
<circle cx="667.8" cy="139.3" r="2.05" fill="#8fcde0" stroke="#000" stroke-width="0.7"/>
<circle cx="653.4" cy="163.6" r="2.05" fill="#8fcde0" stroke="#000" stroke-width="0.7"/>
<circle cx="646.3" cy="136.5" r="2.05" fill="#8fcde0" stroke="#000" stroke-width="0.7"/>
<circle cx="671.2" cy="151.8" r="2.05" fill="#8fcde0" stroke="#000" stroke-width="0.7"/>
<circle cx="641.5" cy="156.2" r="2.05" fill="#8fcde0" stroke="#000" stroke-width="0.7"/>
<circle cx="660.5" cy="133.7" r="2.05" fill="#c8c8c8" stroke="#000" stroke-width="0.7"/>
<circle cx="663.0" cy="162.4" r="2.05" fill="#8fcde0" stroke="#000" stroke-width="0.7"/>
<circle cx="640.3" cy="143.0" r="2.05" fill="#8fcde0" stroke="#000" stroke-width="0.7"/>
<circle cx="671.5" cy="143.3" r="2.05" fill="#8fcde0" stroke="#000" stroke-width="0.7"/>
<circle cx="647.7" cy="163.2" r="2.05" fill="#8fcde0" stroke="#000" stroke-width="0.7"/>
<circle cx="651.0" cy="132.9" r="2.05" fill="#c8c8c8" stroke="#000" stroke-width="0.7"/>
<circle cx="670.8" cy="157.3" r="2.05" fill="#8fcde0" stroke="#000" stroke-width="0.7"/>
<circle cx="638.3" cy="152.0" r="2.05" fill="#8fcde0" stroke="#000" stroke-width="0.7"/>
<circle cx="666.3" cy="135.5" r="2.05" fill="#c8c8c8" stroke="#000" stroke-width="0.7"/>
<circle cx="657.1" cy="165.7" r="2.05" fill="#8fcde0" stroke="#000" stroke-width="0.7"/>
<circle cx="642.1" cy="137.0" r="2.05" fill="#8fcde0" stroke="#000" stroke-width="0.7"/>
<circle cx="674.2" cy="148.3" r="2.05" fill="#8fcde0" stroke="#000" stroke-width="0.7"/>
<circle cx="642.5" cy="160.8" r="2.05" fill="#8fcde0" stroke="#000" stroke-width="0.7"/>
<circle cx="657.2" cy="131.0" r="2.05" fill="#c8c8c8" stroke="#000" stroke-width="0.7"/>
<circle cx="666.8" cy="162.3" r="2.05" fill="#8fcde0" stroke="#000" stroke-width="0.7"/>
<circle cx="637.0" cy="145.8" r="2.05" fill="#8fcde0" stroke="#000" stroke-width="0.7"/>
<circle cx="671.9" cy="138.9" r="2.05" fill="#8fcde0" stroke="#000" stroke-width="0.7"/>
<circle cx="650.6" cy="166.1" r="2.05" fill="#8fcde0" stroke="#000" stroke-width="0.7"/>
<circle cx="646.4" cy="132.4" r="2.05" fill="#c8c8c8" stroke="#000" stroke-width="0.7"/>
<circle cx="674.0" cy="154.9" r="2.05" fill="#8fcde0" stroke="#000" stroke-width="0.7"/>
<circle cx="637.3" cy="155.8" r="2.05" fill="#8fcde0" stroke="#000" stroke-width="0.7"/>
<circle cx="664.0" cy="132.1" r="2.05" fill="#c8c8c8" stroke="#000" stroke-width="0.7"/>
<circle cx="661.7" cy="166.7" r="2.05" fill="#8fcde0" stroke="#000" stroke-width="0.7"/>
<circle cx="638.1" cy="139.6" r="2.05" fill="#8fcde0" stroke="#000" stroke-width="0.7"/>
<circle cx="675.5" cy="144.8" r="2.05" fill="#8fcde0" stroke="#000" stroke-width="0.7"/>
<circle cx="644.1" cy="164.0" r="2.05" fill="#8fcde0" stroke="#000" stroke-width="0.7"/>
<circle cx="652.6" cy="129.8" r="2.05" fill="#c8c8c8" stroke="#000" stroke-width="0.7"/>
<circle cx="671.2" cy="161.1" r="2.05" fill="#8fcde0" stroke="#000" stroke-width="0.7"/>
<circle cx="634.7" cy="149.8" r="2.05" fill="#8fcde0" stroke="#000" stroke-width="0.7"/>
<circle cx="670.1" cy="134.5" r="2.05" fill="#c8c8c8" stroke="#000" stroke-width="0.7"/>
<circle cx="654.6" cy="168.3" r="2.05" fill="#8fcde0" stroke="#000" stroke-width="0.7"/>
<circle cx="642.1" cy="133.6" r="2.05" fill="#c8c8c8" stroke="#000" stroke-width="0.7"/>
<circle cx="676.4" cy="151.2" r="2.05" fill="#8fcde0" stroke="#000" stroke-width="0.7"/>
<circle cx="638.6" cy="160.3" r="2.05" fill="#8fcde0" stroke="#000" stroke-width="0.7"/>
<circle cx="660.5" cy="128.7" r="2.05" fill="#c8c8c8" stroke="#000" stroke-width="0.7"/>
<circle cx="666.9" cy="166.5" r="2.05" fill="#8fcde0" stroke="#000" stroke-width="0.7"/>
<line x1="41.50" y1="267.40" x2="41.50" y2="469.70" stroke="#333333" stroke-width="1.0" />
<line x1="41.00" y1="469.20" x2="248.00" y2="469.20" stroke="#333333" stroke-width="1.0" />
<line x1="38.70" y1="417.05" x2="41.50" y2="417.05" stroke="#333333" stroke-width="1.0" />
<text x="37.20" y="420.45" font-size="9.5" text-anchor="end" fill="#3d3d3d" >5</text>
<line x1="38.70" y1="358.40" x2="41.50" y2="358.40" stroke="#333333" stroke-width="1.0" />
<text x="37.20" y="361.80" font-size="9.5" text-anchor="end" fill="#3d3d3d" >10</text>
<line x1="38.70" y1="299.75" x2="41.50" y2="299.75" stroke="#333333" stroke-width="1.0" />
<text x="37.20" y="303.15" font-size="9.5" text-anchor="end" fill="#3d3d3d" >15</text>
<line x1="47.50" y1="469.20" x2="47.50" y2="472.00" stroke="#333333" stroke-width="1.0" />
<text x="47.50" y="481.30" font-size="9.5" text-anchor="middle" fill="#3d3d3d" >0</text>
<line x1="99.60" y1="469.20" x2="99.60" y2="472.00" stroke="#333333" stroke-width="1.0" />
<text x="99.60" y="481.30" font-size="9.5" text-anchor="middle" fill="#3d3d3d" >5</text>
<line x1="151.70" y1="469.20" x2="151.70" y2="472.00" stroke="#333333" stroke-width="1.0" />
<text x="151.70" y="481.30" font-size="9.5" text-anchor="middle" fill="#3d3d3d" >10</text>
<line x1="203.80" y1="469.20" x2="203.80" y2="472.00" stroke="#333333" stroke-width="1.0" />
<text x="203.80" y="481.30" font-size="9.5" text-anchor="middle" fill="#3d3d3d" >15</text>
<text x="130.50" y="493.20" font-size="10" text-anchor="middle" fill="#222" >Time interval</text>
<text x="0" y="0" font-size="11.9" fill="#111" text-anchor="middle" transform="translate(20.3,374.8) rotate(-90)">Genomic Distance</text>
<ellipse cx="91.7" cy="327.5" rx="2.3" ry="1.7" fill="#2f58b4"/>
<ellipse cx="79.9" cy="343.4" rx="2.3" ry="1.7" fill="#2f58b4"/>
<ellipse cx="55.4" cy="355.7" rx="2.3" ry="1.7" fill="#2f58b4"/>
<ellipse cx="78.7" cy="353.1" rx="2.3" ry="1.7" fill="#2f58b4"/>
<ellipse cx="89.6" cy="351.2" rx="2.3" ry="1.7" fill="#2f58b4"/>
<ellipse cx="93.1" cy="353.4" rx="2.3" ry="1.7" fill="#2f58b4"/>
<ellipse cx="124.1" cy="346.1" rx="2.3" ry="1.7" fill="#2f58b4"/>
<ellipse cx="65" cy="360.1" rx="2.3" ry="1.7" fill="#2f58b4"/>
<ellipse cx="62.4" cy="367.1" rx="2.3" ry="1.7" fill="#2f58b4"/>
<ellipse cx="74.7" cy="369.2" rx="2.3" ry="1.7" fill="#2f58b4"/>
<ellipse cx="72.9" cy="372.7" rx="2.3" ry="1.7" fill="#2f58b4"/>
<ellipse cx="79.1" cy="371.8" rx="2.3" ry="1.7" fill="#2f58b4"/>
<ellipse cx="114.1" cy="359.2" rx="2.3" ry="1.7" fill="#2f58b4"/>
<ellipse cx="129.9" cy="361.7" rx="2.3" ry="1.7" fill="#2f58b4"/>
<ellipse cx="61.9" cy="387.6" rx="2.3" ry="1.7" fill="#2f58b4"/>
<ellipse cx="85.2" cy="383.7" rx="2.3" ry="1.7" fill="#2f58b4"/>
<ellipse cx="98.9" cy="382.3" rx="2.3" ry="1.7" fill="#2f58b4"/>
<ellipse cx="103.2" cy="384.6" rx="2.3" ry="1.7" fill="#2f58b4"/>
<ellipse cx="108" cy="386.2" rx="2.3" ry="1.7" fill="#2f58b4"/>
<ellipse cx="115.8" cy="380.1" rx="2.3" ry="1.7" fill="#2f58b4"/>
<ellipse cx="101" cy="394.1" rx="2.3" ry="1.7" fill="#2f58b4"/>
<ellipse cx="119" cy="389.7" rx="2.3" ry="1.7" fill="#2f58b4"/>
<ellipse cx="119.9" cy="395.7" rx="2.3" ry="1.7" fill="#2f58b4"/>
<ellipse cx="133.9" cy="393.4" rx="2.3" ry="1.7" fill="#2f58b4"/>
<ellipse cx="51" cy="398.1" rx="2.3" ry="1.7" fill="#2f58b4"/>
<ellipse cx="55.9" cy="439.4" rx="2.3" ry="1.7" fill="#2f58b4"/>
<ellipse cx="57.1" cy="441.5" rx="2.3" ry="1.7" fill="#2f58b4"/>
<ellipse cx="58.9" cy="454" rx="2.3" ry="1.7" fill="#2f58b4"/>
<ellipse cx="59.4" cy="459.6" rx="2.3" ry="1.7" fill="#2f58b4"/>
<ellipse cx="62" cy="460.4" rx="2.3" ry="1.7" fill="#2f58b4"/>
<ellipse cx="65.2" cy="431.9" rx="2.3" ry="1.7" fill="#2f58b4"/>
<ellipse cx="64.7" cy="443.8" rx="2.3" ry="1.7" fill="#2f58b4"/>
<ellipse cx="72.9" cy="434.2" rx="2.3" ry="1.7" fill="#2f58b4"/>
<ellipse cx="78.7" cy="425.8" rx="2.3" ry="1.7" fill="#2f58b4"/>
<ellipse cx="80.4" cy="441.7" rx="2.3" ry="1.7" fill="#2f58b4"/>
<ellipse cx="90.1" cy="430.3" rx="2.3" ry="1.7" fill="#2f58b4"/>
<ellipse cx="115.8" cy="402.3" rx="2.3" ry="1.7" fill="#2f58b4"/>
<ellipse cx="56.8" cy="416.6" rx="2.3" ry="1.7" fill="#2f58b4"/>
<ellipse cx="59.4" cy="406.5" rx="2.3" ry="1.7" fill="#2f58b4"/>
<ellipse cx="65.9" cy="407.5" rx="2.3" ry="1.7" fill="#2f58b4"/>
<ellipse cx="74.8" cy="407" rx="2.3" ry="1.7" fill="#2f58b4"/>
<ellipse cx="238.2" cy="317.5" rx="2.3" ry="1.7" fill="#2f58b4"/>
<ellipse cx="166" cy="339.1" rx="2.3" ry="1.7" fill="#2f58b4"/>
<ellipse cx="160.8" cy="371" rx="2.3" ry="1.7" fill="#2f58b4"/>
<ellipse cx="105" cy="340" rx="2.3" ry="1.7" fill="#8e1115"/>
<ellipse cx="82" cy="353.4" rx="2.3" ry="1.7" fill="#8e1115"/>
<ellipse cx="63.3" cy="363.9" rx="2.3" ry="1.7" fill="#8e1115"/>
<ellipse cx="77.3" cy="368" rx="2.3" ry="1.7" fill="#8e1115"/>
<ellipse cx="71.2" cy="378" rx="2.3" ry="1.7" fill="#8e1115"/>
<ellipse cx="136.5" cy="362.5" rx="2.3" ry="1.7" fill="#8e1115"/>
<ellipse cx="67.7" cy="384.4" rx="2.3" ry="1.7" fill="#8e1115"/>
<ellipse cx="133" cy="380.9" rx="2.3" ry="1.7" fill="#8e1115"/>
<ellipse cx="98.9" cy="391.5" rx="2.3" ry="1.7" fill="#8e1115"/>
<ellipse cx="56.8" cy="435.6" rx="2.3" ry="1.7" fill="#8e1115"/>
<ellipse cx="86.6" cy="433.3" rx="2.3" ry="1.7" fill="#8e1115"/>
<path d="M51.0,397.0 L54.1,395.9 L57.2,394.8 L60.4,393.7 L63.5,392.6 L66.6,391.4 L69.7,390.2 L72.8,388.9 L75.9,387.6 L79.0,386.3 L82.2,384.9 L85.3,383.4 L88.4,381.9 L91.5,380.4 L94.6,378.8 L97.8,377.1 L100.9,375.4 L104.0,373.6 L107.1,371.8 L110.2,369.9 L113.3,368.0 L116.5,366.0 L119.6,364.0 L122.7,362.0 L125.8,359.9 L128.9,357.8 L132.0,355.7 L135.2,353.5 L138.3,351.4 L141.4,349.2 L144.5,347.0 L147.6,344.8 L150.7,342.5 L153.8,340.3 L157.0,338.0 L160.1,335.8 L163.2,333.5 L166.3,331.2 L169.4,328.9 L172.6,326.6 L175.7,324.3 L178.8,322.0 L181.9,319.7 L185.0,317.4 L188.1,315.1 L191.2,312.8 L194.4,310.4 L197.5,308.1 L200.6,305.8 L203.7,303.4 L206.8,301.1 L209.9,298.7 L213.1,296.4 L216.2,294.1 L219.3,291.7 L222.4,289.4 L225.5,287.0 L228.7,284.7 L231.8,282.3 L234.9,279.9 L238.0,277.6 L238.0,353.2 L234.9,354.1 L231.8,354.9 L228.7,355.8 L225.5,356.7 L222.4,357.5 L219.3,358.4 L216.2,359.3 L213.1,360.2 L209.9,361.0 L206.8,361.9 L203.7,362.8 L200.6,363.7 L197.5,364.6 L194.4,365.5 L191.2,366.3 L188.1,367.2 L185.0,368.1 L181.9,369.0 L178.8,370.0 L175.7,370.9 L172.6,371.8 L169.4,372.7 L166.3,373.6 L163.2,374.6 L160.1,375.5 L157.0,376.5 L153.8,377.5 L150.7,378.4 L147.6,379.4 L144.5,380.4 L141.4,381.4 L138.3,382.5 L135.2,383.5 L132.0,384.6 L128.9,385.7 L125.8,386.8 L122.7,388.0 L119.6,389.1 L116.5,390.4 L113.3,391.6 L110.2,392.9 L107.1,394.3 L104.0,395.6 L100.9,397.1 L97.8,398.6 L94.6,400.1 L91.5,401.7 L88.4,403.4 L85.3,405.1 L82.2,406.9 L79.0,408.7 L75.9,410.6 L72.8,412.5 L69.7,414.5 L66.6,416.5 L63.5,418.6 L60.4,420.6 L57.2,422.7 L54.1,424.9 L51.0,427.0 Z" fill="#999999" fill-opacity="0.47"/>
<path d="M56.9,360.0 L58.2,360.4 L59.6,360.7 L60.9,361.1 L62.2,361.4 L63.5,361.7 L64.9,362.0 L66.2,362.3 L67.5,362.5 L68.9,362.7 L70.2,362.9 L71.5,363.1 L72.9,363.2 L74.2,363.3 L75.5,363.3 L76.8,363.3 L78.2,363.3 L79.5,363.2 L80.8,363.0 L82.2,362.8 L83.5,362.6 L84.8,362.3 L86.2,361.9 L87.5,361.5 L88.8,361.0 L90.1,360.4 L91.5,359.8 L92.8,359.1 L94.1,358.4 L95.5,357.6 L96.8,356.7 L98.1,355.9 L99.5,354.9 L100.8,353.9 L102.1,352.9 L103.4,351.8 L104.8,350.7 L106.1,349.6 L107.4,348.4 L108.8,347.2 L110.1,346.0 L111.4,344.7 L112.8,343.5 L114.1,342.2 L115.4,340.9 L116.7,339.5 L118.1,338.2 L119.4,336.8 L120.7,335.5 L122.1,334.1 L123.4,332.7 L124.7,331.3 L126.1,329.9 L127.4,328.5 L128.7,327.0 L130.0,325.6 L131.4,324.1 L132.7,322.7 L134.0,321.2 L135.4,319.8 L136.7,318.3 L136.7,407.5 L135.4,407.0 L134.0,406.5 L132.7,406.0 L131.4,405.6 L130.0,405.1 L128.7,404.6 L127.4,404.2 L126.1,403.7 L124.7,403.3 L123.4,402.9 L122.1,402.5 L120.7,402.0 L119.4,401.7 L118.1,401.3 L116.7,400.9 L115.4,400.6 L114.1,400.2 L112.8,399.9 L111.4,399.6 L110.1,399.3 L108.8,399.1 L107.4,398.9 L106.1,398.7 L104.8,398.5 L103.4,398.4 L102.1,398.3 L100.8,398.3 L99.5,398.2 L98.1,398.3 L96.8,398.4 L95.5,398.5 L94.1,398.7 L92.8,398.9 L91.5,399.2 L90.1,399.6 L88.8,400.0 L87.5,400.5 L86.2,401.0 L84.8,401.6 L83.5,402.3 L82.2,403.0 L80.8,403.8 L79.5,404.6 L78.2,405.5 L76.8,406.4 L75.5,407.4 L74.2,408.4 L72.9,409.5 L71.5,410.6 L70.2,411.7 L68.9,412.9 L67.5,414.1 L66.2,415.3 L64.9,416.5 L63.5,417.8 L62.2,419.1 L60.9,420.4 L59.6,421.7 L58.2,423.0 L56.9,424.4 Z" fill="#999999" fill-opacity="0.47"/>
<line x1="51.00" y1="412.00" x2="238.00" y2="315.40" stroke="#3a5fb0" stroke-width="1.3" />
<line x1="56.90" y1="392.20" x2="136.70" y2="362.90" stroke="#a11c1c" stroke-width="1.3" />
<text x="174.20" y="433.10" font-size="8.7" text-anchor="start" fill="#222" >Biopsy comparison</text>
<ellipse cx="176.8" cy="441.9" rx="3.3" ry="2.7" fill="#5a64a6"/>
<ellipse cx="176.8" cy="452.9" rx="3.3" ry="2.7" fill="#b2493c"/>
<text x="183.90" y="444.20" font-size="8.4" text-anchor="start" fill="#222" textLength="22.3" lengthAdjust="spacingAndGlyphs">FL&#8722;FL</text>
<text x="183.90" y="455.60" font-size="8.4" text-anchor="start" fill="#222" textLength="24.3" lengthAdjust="spacingAndGlyphs">FL&#8722;tFL</text>
<line x1="373.40" y1="266.90" x2="373.40" y2="470.20" stroke="#333333" stroke-width="1.0" />
<line x1="373.00" y1="469.90" x2="644.50" y2="469.90" stroke="#333333" stroke-width="1.0" />
<line x1="370.60" y1="404.80" x2="373.40" y2="404.80" stroke="#333333" stroke-width="1.0" />
<text x="369.20" y="408.20" font-size="9.5" text-anchor="end" fill="#3d3d3d" >5</text>
<line x1="370.60" y1="327.60" x2="373.40" y2="327.60" stroke="#333333" stroke-width="1.0" />
<text x="369.20" y="331.00" font-size="9.5" text-anchor="end" fill="#3d3d3d" >10</text>
<text x="0" y="0" font-size="11.9" fill="#111" text-anchor="middle" transform="translate(352.5,365) rotate(-90)">Genomic Distance</text>
<circle cx="378.79" cy="276" r="4.85" fill="rgba(55,60,140,0.82)" stroke="rgba(55,60,140,0.82)" stroke-width="0.5"/>
<circle cx="378.79" cy="302" r="4.15" fill="rgba(55,60,140,0.82)" stroke="rgba(55,60,140,0.82)" stroke-width="0.5"/>
<circle cx="378.79" cy="376" r="3.65" fill="rgba(55,60,140,0.82)" stroke="rgba(55,60,140,0.82)" stroke-width="0.5"/>
<circle cx="387.77" cy="287.4" r="2.95" fill="rgba(55,60,140,0.82)" stroke="rgba(55,60,140,0.82)" stroke-width="0.5"/>
<circle cx="396.75" cy="303.7" r="3.45" fill="rgba(165,40,20,0.85)" stroke="rgba(165,40,20,0.85)" stroke-width="0.5"/>
<circle cx="405.73" cy="307" r="2.75" fill="rgba(55,60,140,0.82)" stroke="rgba(55,60,140,0.82)" stroke-width="0.5"/>
<circle cx="405.73" cy="319.3" r="3.05" fill="rgba(55,60,140,0.82)" stroke="rgba(55,60,140,0.82)" stroke-width="0.5"/>
<circle cx="405.73" cy="331.6" r="2.25" fill="rgba(55,60,140,0.82)" stroke="rgba(55,60,140,0.82)" stroke-width="0.5"/>
<circle cx="405.73" cy="339.8" r="2.05" fill="rgba(55,60,140,0.82)" stroke="rgba(55,60,140,0.82)" stroke-width="0.5"/>
<circle cx="405.73" cy="343.5" r="2.75" fill="rgba(55,60,140,0.82)" stroke="rgba(55,60,140,0.82)" stroke-width="0.5"/>
<circle cx="405.73" cy="436.6" r="1.85" fill="rgba(55,60,140,0.82)" stroke="rgba(55,60,140,0.82)" stroke-width="0.5"/>
<circle cx="414.71" cy="313.1" r="3.75" fill="rgba(55,60,140,0.82)" stroke="rgba(55,60,140,0.82)" stroke-width="0.5"/>
<circle cx="414.71" cy="322.7" r="3.05" fill="rgba(55,60,140,0.82)" stroke="rgba(55,60,140,0.82)" stroke-width="0.5"/>
<circle cx="414.71" cy="345" r="2.75" fill="rgba(55,60,140,0.82)" stroke="rgba(55,60,140,0.82)" stroke-width="0.5"/>
<circle cx="414.71" cy="346.7" r="4.15" fill="rgba(55,60,140,0.82)" stroke="rgba(55,60,140,0.82)" stroke-width="0.5"/>
<circle cx="414.71" cy="360.1" r="2.75" fill="rgba(55,60,140,0.82)" stroke="rgba(55,60,140,0.82)" stroke-width="0.5"/>
<circle cx="414.71" cy="386.1" r="3.55" fill="rgba(55,60,140,0.82)" stroke="rgba(55,60,140,0.82)" stroke-width="0.5"/>
<circle cx="423.69" cy="320.3" r="2.75" fill="rgba(55,60,140,0.82)" stroke="rgba(55,60,140,0.82)" stroke-width="0.5"/>
<circle cx="423.69" cy="331.9" r="3.75" fill="rgba(55,60,140,0.82)" stroke="rgba(55,60,140,0.82)" stroke-width="0.5"/>
<circle cx="423.69" cy="343" r="4.25" fill="rgba(55,60,140,0.82)" stroke="rgba(55,60,140,0.82)" stroke-width="0.5"/>
<circle cx="423.69" cy="362.3" r="3.15" fill="rgba(55,60,140,0.82)" stroke="rgba(55,60,140,0.82)" stroke-width="0.5"/>
<circle cx="423.69" cy="373.1" r="3.75" fill="rgba(55,60,140,0.82)" stroke="rgba(55,60,140,0.82)" stroke-width="0.5"/>
<circle cx="423.69" cy="391.4" r="2.65" fill="rgba(55,60,140,0.82)" stroke="rgba(55,60,140,0.82)" stroke-width="0.5"/>
<circle cx="432.67" cy="322.3" r="2.85" fill="rgba(165,40,20,0.85)" stroke="rgba(165,40,20,0.85)" stroke-width="0.5"/>
<circle cx="431.97" cy="358.3" r="3.35" fill="rgba(55,60,140,0.82)" stroke="rgba(55,60,140,0.82)" stroke-width="0.5"/>
<circle cx="432.67" cy="358.5" r="3.9000000000000004" fill="rgba(165,40,20,0.85)" stroke="rgba(165,40,20,0.85)" stroke-width="0.5"/>
<circle cx="441.65" cy="323" r="1.65" fill="rgba(55,60,140,0.82)" stroke="rgba(55,60,140,0.82)" stroke-width="0.5"/>
<circle cx="450.63" cy="327.9" r="3.45" fill="rgba(55,60,140,0.82)" stroke="rgba(55,60,140,0.82)" stroke-width="0.5"/>
<circle cx="459.61" cy="332.2" r="3.95" fill="rgba(165,40,20,0.85)" stroke="rgba(165,40,20,0.85)" stroke-width="0.5"/>
<circle cx="468.59" cy="335.9" r="2.25" fill="rgba(165,40,20,0.85)" stroke="rgba(165,40,20,0.85)" stroke-width="0.5"/>
<circle cx="468.59" cy="341.8" r="2.85" fill="rgba(165,40,20,0.85)" stroke="rgba(165,40,20,0.85)" stroke-width="0.5"/>
<circle cx="468.59" cy="366.4" r="2.25" fill="rgba(55,60,140,0.82)" stroke="rgba(55,60,140,0.82)" stroke-width="0.5"/>
<circle cx="477.57" cy="347.4" r="2.65" fill="rgba(55,60,140,0.82)" stroke="rgba(55,60,140,0.82)" stroke-width="0.5"/>
<circle cx="486.55" cy="352.3" r="2.55" fill="rgba(165,40,20,0.85)" stroke="rgba(165,40,20,0.85)" stroke-width="0.5"/>
<circle cx="495.53" cy="355.9" r="3.55" fill="rgba(55,60,140,0.82)" stroke="rgba(55,60,140,0.82)" stroke-width="0.5"/>
<circle cx="504.51" cy="362.3" r="2.35" fill="rgba(165,40,20,0.85)" stroke="rgba(165,40,20,0.85)" stroke-width="0.5"/>
<circle cx="504.51" cy="372.2" r="3.15" fill="rgba(165,40,20,0.85)" stroke="rgba(165,40,20,0.85)" stroke-width="0.5"/>
<circle cx="504.51" cy="417.2" r="2.65" fill="rgba(55,60,140,0.82)" stroke="rgba(55,60,140,0.82)" stroke-width="0.5"/>
<circle cx="513.49" cy="363.3" r="3.25" fill="rgba(55,60,140,0.82)" stroke="rgba(55,60,140,0.82)" stroke-width="0.5"/>
<circle cx="513.49" cy="368.2" r="3.45" fill="rgba(55,60,140,0.82)" stroke="rgba(55,60,140,0.82)" stroke-width="0.5"/>
<circle cx="513.49" cy="453.8" r="1.85" fill="rgba(55,60,140,0.82)" stroke="rgba(55,60,140,0.82)" stroke-width="0.5"/>
<circle cx="522.47" cy="370" r="3.15" fill="rgba(55,60,140,0.82)" stroke="rgba(55,60,140,0.82)" stroke-width="0.5"/>
<circle cx="531.45" cy="374.6" r="3.25" fill="rgba(55,60,140,0.82)" stroke="rgba(55,60,140,0.82)" stroke-width="0.5"/>
<circle cx="540.43" cy="378.9" r="1.25" fill="rgba(55,60,140,0.82)" stroke="rgba(55,60,140,0.82)" stroke-width="0.5"/>
<circle cx="540.43" cy="391.4" r="2.05" fill="rgba(55,60,140,0.82)" stroke="rgba(55,60,140,0.82)" stroke-width="0.5"/>
<circle cx="540.43" cy="434.4" r="1.85" fill="rgba(55,60,140,0.82)" stroke="rgba(55,60,140,0.82)" stroke-width="0.5"/>
<circle cx="549.41" cy="393.7" r="2.35" fill="rgba(55,60,140,0.82)" stroke="rgba(55,60,140,0.82)" stroke-width="0.5"/>
<circle cx="558.39" cy="404.5" r="1.9500000000000002" fill="rgba(55,60,140,0.82)" stroke="rgba(55,60,140,0.82)" stroke-width="0.5"/>
<circle cx="567.37" cy="422.3" r="3.05" fill="rgba(55,60,140,0.82)" stroke="rgba(55,60,140,0.82)" stroke-width="0.5"/>
<circle cx="576.35" cy="424.1" r="2.35" fill="rgba(55,60,140,0.82)" stroke="rgba(55,60,140,0.82)" stroke-width="0.5"/>
<circle cx="585.33" cy="427.5" r="3.15" fill="rgba(165,40,20,0.85)" stroke="rgba(165,40,20,0.85)" stroke-width="0.5"/>
<circle cx="594.31" cy="425.9" r="2.65" fill="rgba(55,60,140,0.82)" stroke="rgba(55,60,140,0.82)" stroke-width="0.5"/>
<circle cx="603.29" cy="428.6" r="2.05" fill="rgba(165,40,20,0.85)" stroke="rgba(165,40,20,0.85)" stroke-width="0.5"/>
<circle cx="612.27" cy="436" r="2.85" fill="rgba(55,60,140,0.82)" stroke="rgba(55,60,140,0.82)" stroke-width="0.5"/>
<circle cx="621.25" cy="440.4" r="2.35" fill="rgba(55,60,140,0.82)" stroke="rgba(55,60,140,0.82)" stroke-width="0.5"/>
<circle cx="630.23" cy="460.8" r="2.15" fill="rgba(55,60,140,0.82)" stroke="rgba(55,60,140,0.82)" stroke-width="0.5"/>
<circle cx="639.21" cy="460.8" r="2.15" fill="rgba(55,60,140,0.82)" stroke="rgba(55,60,140,0.82)" stroke-width="0.5"/>
<rect x="374.30" y="475" width="8.98" height="11.9" fill="#b4b5b4" stroke="#d8d8d8" stroke-width="0.35"/>
<rect x="374.30" y="486.9" width="8.98" height="11.8" fill="#8d84c8" stroke="#d8d8d8" stroke-width="0.35"/>
<rect x="383.28" y="475" width="8.98" height="11.9" fill="#b4b5b4" stroke="#d8d8d8" stroke-width="0.35"/>
<rect x="383.28" y="486.9" width="8.98" height="11.8" fill="#8d84c8" stroke="#d8d8d8" stroke-width="0.35"/>
<rect x="392.26" y="475" width="8.98" height="11.9" fill="#b4b5b4" stroke="#d8d8d8" stroke-width="0.35"/>
<rect x="392.26" y="486.9" width="8.98" height="11.8" fill="#e69c4c" stroke="#d8d8d8" stroke-width="0.35"/>
<rect x="401.24" y="475" width="8.98" height="11.9" fill="#b4b5b4" stroke="#d8d8d8" stroke-width="0.35"/>
<rect x="401.24" y="486.9" width="8.98" height="11.8" fill="#8d84c8" stroke="#d8d8d8" stroke-width="0.35"/>
<rect x="410.22" y="475" width="8.98" height="11.9" fill="#b4b5b4" stroke="#d8d8d8" stroke-width="0.35"/>
<rect x="410.22" y="486.9" width="8.98" height="11.8" fill="#e69c4c" stroke="#d8d8d8" stroke-width="0.35"/>
<rect x="419.20" y="475" width="8.98" height="11.9" fill="#b4b5b4" stroke="#d8d8d8" stroke-width="0.35"/>
<rect x="419.20" y="486.9" width="8.98" height="11.8" fill="#8d84c8" stroke="#d8d8d8" stroke-width="0.35"/>
<rect x="428.18" y="475" width="8.98" height="11.9" fill="#b4b5b4" stroke="#d8d8d8" stroke-width="0.35"/>
<rect x="428.18" y="486.9" width="8.98" height="11.8" fill="#e69c4c" stroke="#d8d8d8" stroke-width="0.35"/>
<rect x="437.16" y="475" width="8.98" height="11.9" fill="#b4b5b4" stroke="#d8d8d8" stroke-width="0.35"/>
<rect x="437.16" y="486.9" width="8.98" height="11.8" fill="#8d84c8" stroke="#d8d8d8" stroke-width="0.35"/>
<rect x="446.14" y="475" width="8.98" height="11.9" fill="#000000" stroke="#d8d8d8" stroke-width="0.35"/>
<rect x="446.14" y="486.9" width="8.98" height="11.8" fill="#8d84c8" stroke="#d8d8d8" stroke-width="0.35"/>
<rect x="455.12" y="475" width="8.98" height="11.9" fill="#000000" stroke="#d8d8d8" stroke-width="0.35"/>
<rect x="455.12" y="486.9" width="8.98" height="11.8" fill="#e69c4c" stroke="#d8d8d8" stroke-width="0.35"/>
<rect x="464.10" y="475" width="8.98" height="11.9" fill="#b4b5b4" stroke="#d8d8d8" stroke-width="0.35"/>
<rect x="464.10" y="486.9" width="8.98" height="11.8" fill="#e69c4c" stroke="#d8d8d8" stroke-width="0.35"/>
<rect x="473.08" y="475" width="8.98" height="11.9" fill="#000000" stroke="#d8d8d8" stroke-width="0.35"/>
<rect x="473.08" y="486.9" width="8.98" height="11.8" fill="#e69c4c" stroke="#d8d8d8" stroke-width="0.35"/>
<rect x="482.06" y="475" width="8.98" height="11.9" fill="#000000" stroke="#d8d8d8" stroke-width="0.35"/>
<rect x="482.06" y="486.9" width="8.98" height="11.8" fill="#e69c4c" stroke="#d8d8d8" stroke-width="0.35"/>
<rect x="491.04" y="475" width="8.98" height="11.9" fill="#000000" stroke="#d8d8d8" stroke-width="0.35"/>
<rect x="491.04" y="486.9" width="8.98" height="11.8" fill="#8d84c8" stroke="#d8d8d8" stroke-width="0.35"/>
<rect x="500.02" y="475" width="8.98" height="11.9" fill="#000000" stroke="#d8d8d8" stroke-width="0.35"/>
<rect x="500.02" y="486.9" width="8.98" height="11.8" fill="#e69c4c" stroke="#d8d8d8" stroke-width="0.35"/>
<rect x="509.00" y="475" width="8.98" height="11.9" fill="#b4b5b4" stroke="#d8d8d8" stroke-width="0.35"/>
<rect x="509.00" y="486.9" width="8.98" height="11.8" fill="#8d84c8" stroke="#d8d8d8" stroke-width="0.35"/>
<rect x="517.98" y="475" width="8.98" height="11.9" fill="#000000" stroke="#d8d8d8" stroke-width="0.35"/>
<rect x="517.98" y="486.9" width="8.98" height="11.8" fill="#8d84c8" stroke="#d8d8d8" stroke-width="0.35"/>
<rect x="526.96" y="475" width="8.98" height="11.9" fill="#b4b5b4" stroke="#d8d8d8" stroke-width="0.35"/>
<rect x="526.96" y="486.9" width="8.98" height="11.8" fill="#8d84c8" stroke="#d8d8d8" stroke-width="0.35"/>
<rect x="535.94" y="475" width="8.98" height="11.9" fill="#000000" stroke="#d8d8d8" stroke-width="0.35"/>
<rect x="535.94" y="486.9" width="8.98" height="11.8" fill="#e69c4c" stroke="#d8d8d8" stroke-width="0.35"/>
<rect x="544.92" y="475" width="8.98" height="11.9" fill="#b4b5b4" stroke="#d8d8d8" stroke-width="0.35"/>
<rect x="544.92" y="486.9" width="8.98" height="11.8" fill="#8d84c8" stroke="#d8d8d8" stroke-width="0.35"/>
<rect x="553.90" y="475" width="8.98" height="11.9" fill="#b4b5b4" stroke="#d8d8d8" stroke-width="0.35"/>
<rect x="553.90" y="486.9" width="8.98" height="11.8" fill="#8d84c8" stroke="#d8d8d8" stroke-width="0.35"/>
<rect x="562.88" y="475" width="8.98" height="11.9" fill="#b4b5b4" stroke="#d8d8d8" stroke-width="0.35"/>
<rect x="562.88" y="486.9" width="8.98" height="11.8" fill="#8d84c8" stroke="#d8d8d8" stroke-width="0.35"/>
<rect x="571.86" y="475" width="8.98" height="11.9" fill="#000000" stroke="#d8d8d8" stroke-width="0.35"/>
<rect x="571.86" y="486.9" width="8.98" height="11.8" fill="#8d84c8" stroke="#d8d8d8" stroke-width="0.35"/>
<rect x="580.84" y="475" width="8.98" height="11.9" fill="#000000" stroke="#d8d8d8" stroke-width="0.35"/>
<rect x="580.84" y="486.9" width="8.98" height="11.8" fill="#e69c4c" stroke="#d8d8d8" stroke-width="0.35"/>
<rect x="589.82" y="475" width="8.98" height="11.9" fill="#b4b5b4" stroke="#d8d8d8" stroke-width="0.35"/>
<rect x="589.82" y="486.9" width="8.98" height="11.8" fill="#e69c4c" stroke="#d8d8d8" stroke-width="0.35"/>
<rect x="598.80" y="475" width="8.98" height="11.9" fill="#000000" stroke="#d8d8d8" stroke-width="0.35"/>
<rect x="598.80" y="486.9" width="8.98" height="11.8" fill="#e69c4c" stroke="#d8d8d8" stroke-width="0.35"/>
<rect x="607.78" y="475" width="8.98" height="11.9" fill="#b4b5b4" stroke="#d8d8d8" stroke-width="0.35"/>
<rect x="607.78" y="486.9" width="8.98" height="11.8" fill="#e69c4c" stroke="#d8d8d8" stroke-width="0.35"/>
<rect x="616.76" y="475" width="8.98" height="11.9" fill="#000000" stroke="#d8d8d8" stroke-width="0.35"/>
<rect x="616.76" y="486.9" width="8.98" height="11.8" fill="#8d84c8" stroke="#d8d8d8" stroke-width="0.35"/>
<rect x="625.74" y="475" width="8.98" height="11.9" fill="#000000" stroke="#d8d8d8" stroke-width="0.35"/>
<rect x="625.74" y="486.9" width="8.98" height="11.8" fill="#e69c4c" stroke="#d8d8d8" stroke-width="0.35"/>
<rect x="634.72" y="475" width="8.98" height="11.9" fill="#000000" stroke="#d8d8d8" stroke-width="0.35"/>
<rect x="634.72" y="486.9" width="8.98" height="11.8" fill="#8d84c8" stroke="#d8d8d8" stroke-width="0.35"/>
<text x="369.60" y="484.60" font-size="8.8" text-anchor="end" fill="#333" >POD24</text>
<text x="369.60" y="496.20" font-size="8.7" text-anchor="end" fill="#333" >Group</text>
<text x="548.50" y="267.30" font-size="8.7" text-anchor="start" fill="#222" >Biopsy comparison</text>
<ellipse cx="553.4" cy="276" rx="3.3" ry="2.6" fill="#5a5ea6"/>
<ellipse cx="553.4" cy="287.7" rx="3.3" ry="2.6" fill="#b04a36"/>
<text x="560.70" y="280.00" font-size="8.4" text-anchor="start" fill="#222" textLength="22.3" lengthAdjust="spacingAndGlyphs">FL&#8722;FL</text>
<text x="560.70" y="291.70" font-size="8.4" text-anchor="start" fill="#222" textLength="24.3" lengthAdjust="spacingAndGlyphs">FL&#8722;tFL</text>
<text x="643.70" y="267.30" font-size="8.7" text-anchor="start" fill="#222" >Time</text>
<text x="643.70" y="279.30" font-size="8.7" text-anchor="start" fill="#222" >interval (y)</text>
<circle cx="648.9" cy="288" r="2.5" fill="#1f2430"/>
<text x="654.50" y="290.50" font-size="8.0" text-anchor="start" fill="#222" >5</text>
<circle cx="648.9" cy="297.4" r="3.0" fill="#1f2430"/>
<text x="654.50" y="300.40" font-size="8.0" text-anchor="start" fill="#222" >10</text>
<circle cx="648.9" cy="307.3" r="3.4" fill="#1f2430"/>
<text x="654.50" y="309.60" font-size="8.0" text-anchor="start" fill="#222" >15</text>
<text x="645.90" y="332.40" font-size="8.7" text-anchor="start" fill="#222" >POD24</text>
<rect x="645.3" y="335.1" width="7.4" height="7" fill="#b4b5b4"/>
<text x="655.80" y="341.10" font-size="8.5" text-anchor="start" fill="#222" >No</text>
<rect x="645.3" y="344.8" width="7.4" height="7.2" fill="#000"/>
<text x="655.80" y="350.40" font-size="8.5" text-anchor="start" fill="#222" >Yes</text>
<text x="645.90" y="372.10" font-size="8.7" text-anchor="start" fill="#222" >Group</text>
<rect x="645.3" y="376.8" width="7.4" height="7.1" fill="#8d84c8"/>
<text x="655.80" y="381.80" font-size="8.5" text-anchor="start" fill="#222" >nFL</text>
<rect x="645.3" y="385.8" width="7.4" height="6.8" fill="#e69c4c"/>
<text x="655.80" y="392.00" font-size="8.5" text-anchor="start" fill="#222" >tFL</text>
<text x="45.70" y="547.90" font-size="11.8" text-anchor="start" fill="#111" >nFL</text>
<text x="161.00" y="547.90" font-size="11.8" text-anchor="start" fill="#111" >tFL</text>
<text x="0" y="0" font-size="9.3" fill="#111" text-anchor="middle" transform="translate(24.8,608.9) rotate(-90)">Genomic Distance</text>
<line x1="41.80" y1="556.60" x2="41.80" y2="660.40" stroke="#333333" stroke-width="1.0" />
<line x1="41.40" y1="660.00" x2="146.40" y2="660.00" stroke="#333333" stroke-width="1.0" />
<line x1="70.40" y1="660.00" x2="70.40" y2="662.60" stroke="#333333" stroke-width="1.0" />
<line x1="118.50" y1="660.00" x2="118.50" y2="662.60" stroke="#333333" stroke-width="1.0" />
<line x1="39.20" y1="571.50" x2="41.80" y2="571.50" stroke="#333333" stroke-width="1.0" />
<text x="38.00" y="573.95" font-size="7.0" text-anchor="end" fill="#3d3d3d" >15</text>
<line x1="39.20" y1="593.90" x2="41.80" y2="593.90" stroke="#333333" stroke-width="1.0" />
<text x="38.00" y="596.35" font-size="7.0" text-anchor="end" fill="#3d3d3d" >10</text>
<line x1="39.20" y1="616.50" x2="41.80" y2="616.50" stroke="#333333" stroke-width="1.0" />
<text x="38.00" y="618.95" font-size="7.0" text-anchor="end" fill="#3d3d3d" >5</text>
<line x1="39.20" y1="638.90" x2="41.80" y2="638.90" stroke="#333333" stroke-width="1.0" />
<text x="38.00" y="641.35" font-size="7.0" text-anchor="end" fill="#3d3d3d" >0</text>
<line x1="70.90" y1="556.60" x2="119.40" y2="556.60" stroke="#555" stroke-width="1.0" />
<text x="98.60" y="554.80" font-size="8.3" text-anchor="middle" fill="#333" font-style="italic">p&lt;0.007</text>
<path d="M70.40,560.10 L70.73,561.23 L71.04,562.37 L71.35,563.50 L71.69,564.63 L72.06,565.77 L72.50,566.90 L73.03,567.95 L73.70,569.00 L74.47,570.05 L75.30,571.10 L76.17,572.11 L77.12,573.13 L78.14,574.14 L79.21,575.16 L80.29,576.17 L81.36,577.19 L82.40,578.20 L83.45,579.20 L84.55,580.20 L85.68,581.20 L86.77,582.20 L87.79,583.20 L88.68,584.20 L89.40,585.20 L90.04,586.21 L90.68,587.23 L91.28,588.24 L91.80,589.26 L92.22,590.27 L92.50,591.29 L92.60,592.30 L92.52,593.30 L92.30,594.30 L91.96,595.30 L91.55,596.30 L91.08,597.30 L90.59,598.30 L90.10,599.30 L89.57,600.30 L88.93,601.30 L88.22,602.30 L87.46,603.30 L86.69,604.30 L85.92,605.30 L85.20,606.30 L84.49,607.31 L83.78,608.33 L83.07,609.34 L82.36,610.36 L81.66,611.37 L80.97,612.39 L80.30,613.40 L79.65,614.40 L79.01,615.40 L78.37,616.40 L77.75,617.40 L77.15,618.40 L76.56,619.40 L76.00,620.40 L75.45,621.41 L74.90,622.43 L74.36,623.44 L73.85,624.46 L73.36,625.47 L72.91,626.49 L72.50,627.50 L72.11,628.55 L71.74,629.60 L71.43,630.65 L71.20,631.70 L71.05,632.70 L70.92,633.70 L70.81,634.70 L70.70,635.70 L70.61,636.70 L70.51,637.70 L70.40,638.70 L70.29,637.70 L70.19,636.70 L70.10,635.70 L69.99,634.70 L69.88,633.70 L69.75,632.70 L69.60,631.70 L69.37,630.65 L69.06,629.60 L68.69,628.55 L68.30,627.50 L67.89,626.49 L67.44,625.47 L66.95,624.46 L66.44,623.44 L65.90,622.43 L65.35,621.41 L64.80,620.40 L64.24,619.40 L63.65,618.40 L63.05,617.40 L62.43,616.40 L61.79,615.40 L61.15,614.40 L60.50,613.40 L59.83,612.39 L59.14,611.37 L58.44,610.36 L57.73,609.34 L57.02,608.33 L56.31,607.31 L55.60,606.30 L54.88,605.30 L54.11,604.30 L53.34,603.30 L52.58,602.30 L51.87,601.30 L51.23,600.30 L50.70,599.30 L50.21,598.30 L49.72,597.30 L49.25,596.30 L48.84,595.30 L48.50,594.30 L48.28,593.30 L48.20,592.30 L48.30,591.29 L48.58,590.27 L49.00,589.26 L49.52,588.24 L50.12,587.23 L50.76,586.21 L51.40,585.20 L52.12,584.20 L53.01,583.20 L54.03,582.20 L55.12,581.20 L56.25,580.20 L57.35,579.20 L58.40,578.20 L59.44,577.19 L60.51,576.17 L61.59,575.16 L62.66,574.14 L63.68,573.13 L64.63,572.11 L65.50,571.10 L66.33,570.05 L67.10,569.00 L67.77,567.95 L68.30,566.90 L68.74,565.77 L69.11,564.63 L69.45,563.50 L69.76,562.37 L70.07,561.23 L70.40,560.10 Z" fill="none" stroke="#222" stroke-width="0.8" stroke-linejoin="round"/>
<circle cx="70.40" cy="576.80" r="1.3" fill="#000"/>
<circle cx="70.40" cy="580.70" r="1.3" fill="#000"/>
<circle cx="69.20" cy="586.30" r="1.3" fill="#000"/>
<circle cx="71.60" cy="586.30" r="1.3" fill="#000"/>
<circle cx="69.20" cy="590.40" r="1.3" fill="#000"/>
<circle cx="71.60" cy="590.40" r="1.3" fill="#000"/>
<circle cx="68.00" cy="592.30" r="1.3" fill="#000"/>
<circle cx="70.40" cy="592.30" r="1.3" fill="#000"/>
<circle cx="72.80" cy="592.30" r="1.3" fill="#000"/>
<circle cx="69.20" cy="596.20" r="1.3" fill="#000"/>
<circle cx="71.60" cy="596.20" r="1.3" fill="#000"/>
<circle cx="70.40" cy="600.40" r="1.3" fill="#000"/>
<circle cx="69.20" cy="603.50" r="1.3" fill="#000"/>
<circle cx="71.60" cy="603.50" r="1.3" fill="#000"/>
<circle cx="68.00" cy="605.20" r="1.3" fill="#000"/>
<circle cx="70.40" cy="605.20" r="1.3" fill="#000"/>
<circle cx="72.80" cy="605.20" r="1.3" fill="#000"/>
<circle cx="70.40" cy="611.50" r="1.3" fill="#000"/>
<circle cx="70.40" cy="615.10" r="1.3" fill="#000"/>
<circle cx="70.40" cy="620.80" r="1.3" fill="#000"/>
<path d="M118.40,571.10 L118.58,572.33 L118.76,573.57 L119.00,574.80 L119.33,575.92 L119.77,577.05 L120.30,578.17 L120.90,579.30 L121.64,580.40 L122.56,581.50 L123.57,582.60 L124.60,583.70 L125.58,584.70 L126.64,585.70 L127.73,586.70 L128.79,587.70 L129.76,588.70 L130.60,589.70 L131.38,590.76 L132.15,591.81 L132.87,592.87 L133.53,593.93 L134.12,594.99 L134.62,596.04 L135.00,597.10 L135.35,598.28 L135.68,599.46 L135.95,600.64 L136.13,601.82 L136.20,603.00 L136.13,604.00 L135.94,605.00 L135.67,606.00 L135.35,607.00 L135.02,608.00 L134.70,609.00 L134.31,610.18 L133.85,611.36 L133.38,612.54 L132.94,613.72 L132.60,614.90 L132.33,616.00 L132.07,617.10 L131.88,618.20 L131.80,619.30 L131.94,620.42 L132.25,621.55 L132.56,622.67 L132.70,623.80 L132.61,624.90 L132.36,626.00 L132.01,627.10 L131.60,628.20 L131.10,629.20 L130.41,630.20 L129.59,631.20 L128.69,632.20 L127.77,633.20 L126.90,634.20 L125.85,635.38 L124.70,636.56 L123.57,637.74 L122.53,638.92 L121.70,640.10 L121.10,641.10 L120.53,642.10 L120.00,643.10 L119.55,644.10 L119.21,645.10 L119.00,646.10 L118.88,647.11 L118.79,648.12 L118.71,649.14 L118.65,650.15 L118.59,651.16 L118.53,652.18 L118.47,653.19 L118.40,654.20 L118.33,653.19 L118.27,652.18 L118.21,651.16 L118.15,650.15 L118.09,649.14 L118.01,648.12 L117.92,647.11 L117.80,646.10 L117.59,645.10 L117.25,644.10 L116.80,643.10 L116.27,642.10 L115.70,641.10 L115.10,640.10 L114.27,638.92 L113.23,637.74 L112.10,636.56 L110.95,635.38 L109.90,634.20 L109.03,633.20 L108.11,632.20 L107.21,631.20 L106.39,630.20 L105.70,629.20 L105.20,628.20 L104.79,627.10 L104.44,626.00 L104.19,624.90 L104.10,623.80 L104.24,622.67 L104.55,621.55 L104.86,620.42 L105.00,619.30 L104.92,618.20 L104.73,617.10 L104.47,616.00 L104.20,614.90 L103.86,613.72 L103.42,612.54 L102.95,611.36 L102.49,610.18 L102.10,609.00 L101.78,608.00 L101.45,607.00 L101.13,606.00 L100.86,605.00 L100.67,604.00 L100.60,603.00 L100.67,601.82 L100.85,600.64 L101.12,599.46 L101.45,598.28 L101.80,597.10 L102.18,596.04 L102.68,594.99 L103.27,593.93 L103.93,592.87 L104.65,591.81 L105.42,590.76 L106.20,589.70 L107.04,588.70 L108.01,587.70 L109.07,586.70 L110.16,585.70 L111.22,584.70 L112.20,583.70 L113.23,582.60 L114.24,581.50 L115.16,580.40 L115.90,579.30 L116.50,578.17 L117.03,577.05 L117.47,575.92 L117.80,574.80 L118.04,573.57 L118.22,572.33 L118.40,571.10 Z" fill="none" stroke="#222" stroke-width="0.8" stroke-linejoin="round"/>
<circle cx="117.20" cy="593.40" r="1.3" fill="#000"/>
<circle cx="119.60" cy="593.40" r="1.3" fill="#000"/>
<circle cx="118.40" cy="597.40" r="1.3" fill="#000"/>
<circle cx="118.40" cy="603.00" r="1.3" fill="#000"/>
<circle cx="114.80" cy="606.30" r="1.3" fill="#000"/>
<circle cx="117.20" cy="606.30" r="1.3" fill="#000"/>
<circle cx="119.60" cy="606.30" r="1.3" fill="#000"/>
<circle cx="122.00" cy="606.30" r="1.3" fill="#000"/>
<circle cx="118.40" cy="611.60" r="1.3" fill="#000"/>
<circle cx="118.40" cy="620.50" r="1.3" fill="#000"/>
<circle cx="117.20" cy="624.50" r="1.3" fill="#000"/>
<circle cx="119.60" cy="624.50" r="1.3" fill="#000"/>
<circle cx="117.20" cy="629.00" r="1.3" fill="#000"/>
<circle cx="119.60" cy="629.00" r="1.3" fill="#000"/>
<circle cx="118.40" cy="630.50" r="1.3" fill="#000"/>
<circle cx="118.40" cy="632.70" r="1.3" fill="#000"/>
<text x="67.70" y="670.20" font-size="8.7" text-anchor="middle" fill="#222" >divergent</text>
<text x="119.10" y="670.20" font-size="8.5" text-anchor="middle" fill="#222" >linear</text>
<line x1="161.40" y1="558.80" x2="161.40" y2="660.20" stroke="#333333" stroke-width="1.0" />
<line x1="161.00" y1="659.80" x2="267.60" y2="659.80" stroke="#333333" stroke-width="1.0" />
<line x1="190.40" y1="659.80" x2="190.40" y2="662.40" stroke="#333333" stroke-width="1.0" />
<line x1="238.40" y1="659.80" x2="238.40" y2="662.40" stroke="#333333" stroke-width="1.0" />
<line x1="158.80" y1="561.80" x2="161.40" y2="561.80" stroke="#333333" stroke-width="1.0" />
<text x="157.60" y="564.25" font-size="7.0" text-anchor="end" fill="#3d3d3d" >15</text>
<line x1="158.80" y1="588.10" x2="161.40" y2="588.10" stroke="#333333" stroke-width="1.0" />
<text x="157.60" y="590.55" font-size="7.0" text-anchor="end" fill="#3d3d3d" >10</text>
<line x1="158.80" y1="614.30" x2="161.40" y2="614.30" stroke="#333333" stroke-width="1.0" />
<text x="157.60" y="616.75" font-size="7.0" text-anchor="end" fill="#3d3d3d" >5</text>
<line x1="158.80" y1="640.60" x2="161.40" y2="640.60" stroke="#333333" stroke-width="1.0" />
<text x="157.60" y="643.05" font-size="7.0" text-anchor="end" fill="#3d3d3d" >0</text>
<line x1="190.60" y1="561.10" x2="238.60" y2="561.10" stroke="#555" stroke-width="1.0" />
<text x="215.10" y="557.70" font-size="8.4" text-anchor="middle" fill="#333" font-style="italic">p&lt;0.004</text>
<path d="M190.60,562.90 L191.01,564.30 L191.50,565.70 L192.06,566.83 L192.75,567.95 L193.56,569.08 L194.50,570.20 L195.71,571.35 L197.21,572.50 L198.88,573.65 L200.59,574.80 L202.21,575.95 L203.60,577.10 L204.83,578.23 L206.03,579.37 L207.18,580.50 L208.21,581.63 L209.10,582.77 L209.80,583.90 L210.40,585.05 L210.98,586.20 L211.50,587.35 L211.92,588.50 L212.20,589.65 L212.30,590.80 L212.20,591.93 L211.91,593.07 L211.49,594.20 L210.97,595.33 L210.40,596.47 L209.80,597.60 L209.08,598.75 L208.14,599.90 L207.07,601.05 L205.91,602.20 L204.73,603.35 L203.60,604.50 L202.46,605.63 L201.22,606.77 L199.96,607.90 L198.76,609.03 L197.68,610.17 L196.80,611.30 L196.03,612.45 L195.33,613.60 L194.79,614.75 L194.50,615.90 L194.40,617.05 L194.34,618.20 L194.29,619.35 L194.20,620.50 L194.04,621.63 L193.82,622.77 L193.54,623.90 L193.25,625.03 L192.96,626.17 L192.70,627.30 L192.45,628.45 L192.21,629.60 L191.96,630.75 L191.72,631.90 L191.50,633.05 L191.30,634.20 L191.14,635.20 L191.00,636.20 L190.87,637.20 L190.74,638.20 L190.60,639.20 L190.46,638.20 L190.33,637.20 L190.20,636.20 L190.06,635.20 L189.90,634.20 L189.70,633.05 L189.48,631.90 L189.24,630.75 L188.99,629.60 L188.75,628.45 L188.50,627.30 L188.24,626.17 L187.95,625.03 L187.66,623.90 L187.38,622.77 L187.16,621.63 L187.00,620.50 L186.91,619.35 L186.86,618.20 L186.80,617.05 L186.70,615.90 L186.41,614.75 L185.87,613.60 L185.17,612.45 L184.40,611.30 L183.52,610.17 L182.44,609.03 L181.24,607.90 L179.98,606.77 L178.74,605.63 L177.60,604.50 L176.47,603.35 L175.29,602.20 L174.13,601.05 L173.06,599.90 L172.12,598.75 L171.40,597.60 L170.80,596.47 L170.23,595.33 L169.71,594.20 L169.29,593.07 L169.00,591.93 L168.90,590.80 L169.00,589.65 L169.28,588.50 L169.70,587.35 L170.22,586.20 L170.80,585.05 L171.40,583.90 L172.10,582.77 L172.99,581.63 L174.02,580.50 L175.17,579.37 L176.37,578.23 L177.60,577.10 L178.99,575.95 L180.61,574.80 L182.32,573.65 L183.99,572.50 L185.49,571.35 L186.70,570.20 L187.64,569.08 L188.45,567.95 L189.14,566.83 L189.70,565.70 L190.19,564.30 L190.60,562.90 Z" fill="none" stroke="#222" stroke-width="0.8" stroke-linejoin="round"/>
<circle cx="190.60" cy="579.80" r="1.3" fill="#000"/>
<circle cx="190.60" cy="581.70" r="1.3" fill="#000"/>
<circle cx="189.40" cy="585.10" r="1.3" fill="#000"/>
<circle cx="191.80" cy="585.10" r="1.3" fill="#000"/>
<circle cx="190.60" cy="586.20" r="1.3" fill="#000"/>
<circle cx="189.40" cy="588.50" r="1.3" fill="#000"/>
<circle cx="191.80" cy="588.50" r="1.3" fill="#000"/>
<circle cx="189.40" cy="590.80" r="1.3" fill="#000"/>
<circle cx="191.80" cy="590.80" r="1.3" fill="#000"/>
<circle cx="190.60" cy="592.60" r="1.3" fill="#000"/>
<circle cx="189.40" cy="594.20" r="1.3" fill="#000"/>
<circle cx="191.80" cy="594.20" r="1.3" fill="#000"/>
<circle cx="189.40" cy="599.90" r="1.3" fill="#000"/>
<circle cx="191.80" cy="599.90" r="1.3" fill="#000"/>
<circle cx="190.60" cy="605.00" r="1.3" fill="#000"/>
<circle cx="189.40" cy="606.80" r="1.3" fill="#000"/>
<circle cx="191.80" cy="606.80" r="1.3" fill="#000"/>
<circle cx="190.60" cy="622.80" r="1.3" fill="#000"/>
<path d="M238.60,572.10 L238.90,573.10 L239.19,574.10 L239.49,575.10 L239.81,576.10 L240.20,577.10 L240.67,578.11 L241.20,579.12 L241.79,580.13 L242.42,581.14 L243.09,582.16 L243.79,583.17 L244.49,584.18 L245.20,585.19 L245.90,586.20 L246.64,587.22 L247.46,588.24 L248.32,589.27 L249.19,590.29 L250.05,591.31 L250.87,592.33 L251.62,593.36 L252.27,594.38 L252.80,595.40 L253.31,596.54 L253.80,597.68 L254.21,598.82 L254.49,599.96 L254.60,601.10 L254.44,602.24 L254.02,603.38 L253.46,604.52 L252.85,605.66 L252.30,606.80 L251.75,607.93 L251.10,609.07 L250.44,610.20 L249.87,611.33 L249.46,612.47 L249.30,613.60 L249.39,614.75 L249.61,615.90 L249.90,617.05 L250.19,618.20 L250.41,619.35 L250.50,620.50 L250.40,621.63 L250.13,622.77 L249.73,623.90 L249.25,625.03 L248.72,626.17 L248.20,627.30 L247.59,628.45 L246.84,629.60 L246.01,630.75 L245.15,631.90 L244.33,633.05 L243.60,634.20 L242.94,635.33 L242.26,636.47 L241.62,637.60 L241.04,638.73 L240.55,639.87 L240.20,641.00 L239.94,642.15 L239.71,643.30 L239.52,644.45 L239.35,645.60 L239.21,646.75 L239.10,647.90 L239.02,648.90 L238.94,649.90 L238.88,650.90 L238.82,651.90 L238.77,652.90 L238.71,653.90 L238.66,654.90 L238.60,655.90 L238.54,654.90 L238.49,653.90 L238.43,652.90 L238.38,651.90 L238.32,650.90 L238.26,649.90 L238.18,648.90 L238.10,647.90 L237.99,646.75 L237.85,645.60 L237.68,644.45 L237.49,643.30 L237.26,642.15 L237.00,641.00 L236.65,639.87 L236.16,638.73 L235.58,637.60 L234.94,636.47 L234.26,635.33 L233.60,634.20 L232.87,633.05 L232.05,631.90 L231.19,630.75 L230.36,629.60 L229.61,628.45 L229.00,627.30 L228.48,626.17 L227.95,625.03 L227.47,623.90 L227.07,622.77 L226.80,621.63 L226.70,620.50 L226.79,619.35 L227.01,618.20 L227.30,617.05 L227.59,615.90 L227.81,614.75 L227.90,613.60 L227.74,612.47 L227.33,611.33 L226.76,610.20 L226.10,609.07 L225.45,607.93 L224.90,606.80 L224.35,605.66 L223.74,604.52 L223.18,603.38 L222.76,602.24 L222.60,601.10 L222.71,599.96 L222.99,598.82 L223.40,597.68 L223.89,596.54 L224.40,595.40 L224.93,594.38 L225.58,593.36 L226.33,592.33 L227.15,591.31 L228.01,590.29 L228.88,589.27 L229.74,588.24 L230.56,587.22 L231.30,586.20 L232.00,585.19 L232.71,584.18 L233.41,583.17 L234.11,582.16 L234.78,581.14 L235.41,580.13 L236.00,579.12 L236.53,578.11 L237.00,577.10 L237.39,576.10 L237.71,575.10 L238.01,574.10 L238.30,573.10 L238.60,572.10 Z" fill="none" stroke="#222" stroke-width="0.8" stroke-linejoin="round"/>
<circle cx="238.60" cy="594.20" r="1.3" fill="#000"/>
<circle cx="238.60" cy="596.00" r="1.3" fill="#000"/>
<circle cx="235.00" cy="598.80" r="1.3" fill="#000"/>
<circle cx="237.40" cy="598.80" r="1.3" fill="#000"/>
<circle cx="239.80" cy="598.80" r="1.3" fill="#000"/>
<circle cx="242.20" cy="598.80" r="1.3" fill="#000"/>
<circle cx="238.60" cy="603.40" r="1.3" fill="#000"/>
<circle cx="238.60" cy="609.50" r="1.3" fill="#000"/>
<circle cx="238.60" cy="617.70" r="1.3" fill="#000"/>
<circle cx="237.40" cy="623.90" r="1.3" fill="#000"/>
<circle cx="239.80" cy="623.90" r="1.3" fill="#000"/>
<circle cx="237.40" cy="625.50" r="1.3" fill="#000"/>
<circle cx="239.80" cy="625.50" r="1.3" fill="#000"/>
<circle cx="238.60" cy="633.50" r="1.3" fill="#000"/>
<text x="191.70" y="669.60" font-size="8.7" text-anchor="middle" fill="#222" >divergent</text>
<text x="238.20" y="669.60" font-size="8.5" text-anchor="middle" fill="#222" >linear</text>
<text x="0" y="0" font-size="9.5" fill="#111" text-anchor="middle" transform="translate(306.3,609.2) rotate(-90)">Genomic Distance</text>
<line x1="321.60" y1="558.90" x2="321.60" y2="660.40" stroke="#333333" stroke-width="1.0" />
<line x1="321.20" y1="660.00" x2="428.60" y2="660.00" stroke="#333333" stroke-width="1.0" />
<line x1="350.70" y1="660.00" x2="350.70" y2="662.60" stroke="#333333" stroke-width="1.0" />
<line x1="399.30" y1="660.00" x2="399.30" y2="662.60" stroke="#333333" stroke-width="1.0" />
<line x1="319.00" y1="575.30" x2="321.60" y2="575.30" stroke="#333333" stroke-width="1.0" />
<text x="317.80" y="577.92" font-size="7.5" text-anchor="end" fill="#3d3d3d" >15</text>
<line x1="319.00" y1="597.70" x2="321.60" y2="597.70" stroke="#333333" stroke-width="1.0" />
<text x="317.80" y="600.33" font-size="7.5" text-anchor="end" fill="#3d3d3d" >10</text>
<line x1="319.00" y1="619.90" x2="321.60" y2="619.90" stroke="#333333" stroke-width="1.0" />
<text x="317.80" y="622.52" font-size="7.5" text-anchor="end" fill="#3d3d3d" >5</text>
<line x1="319.00" y1="642.30" x2="321.60" y2="642.30" stroke="#333333" stroke-width="1.0" />
<text x="317.80" y="644.92" font-size="7.5" text-anchor="end" fill="#3d3d3d" >0</text>
<line x1="352.00" y1="557.00" x2="399.30" y2="557.00" stroke="#555" stroke-width="1.0" />
<text x="377.60" y="554.80" font-size="8.5" text-anchor="middle" fill="#333" font-style="italic">ns</text>
<path d="M350.60,562.30 L350.87,563.30 L351.13,564.30 L351.38,565.30 L351.63,566.30 L351.90,567.30 L352.19,568.30 L352.52,569.30 L352.90,570.30 L353.48,571.45 L354.23,572.60 L355.10,573.75 L356.01,574.90 L356.90,576.05 L357.70,577.20 L358.37,578.24 L359.04,579.27 L359.72,580.31 L360.39,581.35 L361.05,582.38 L361.69,583.42 L362.32,584.45 L362.91,585.49 L363.48,586.53 L364.01,587.56 L364.50,588.60 L364.96,589.61 L365.42,590.62 L365.87,591.63 L366.30,592.64 L366.70,593.66 L367.06,594.67 L367.37,595.68 L367.62,596.69 L367.80,597.70 L367.96,598.85 L368.10,600.00 L368.22,601.15 L368.32,602.30 L368.38,603.45 L368.40,604.60 L368.24,605.75 L367.80,606.90 L367.18,608.05 L366.45,609.20 L365.69,610.35 L365.00,611.50 L364.41,612.51 L363.77,613.52 L363.09,614.53 L362.40,615.54 L361.71,616.56 L361.03,617.57 L360.40,618.58 L359.81,619.59 L359.30,620.60 L358.84,621.62 L358.40,622.64 L357.99,623.67 L357.60,624.69 L357.23,625.71 L356.87,626.73 L356.54,627.76 L356.21,628.78 L355.90,629.80 L355.61,630.81 L355.33,631.82 L355.08,632.83 L354.83,633.84 L354.59,634.86 L354.35,635.87 L354.11,636.88 L353.86,637.89 L353.60,638.90 L353.27,640.05 L352.92,641.20 L352.56,642.35 L352.22,643.50 L351.93,644.65 L351.70,645.80 L351.54,646.87 L351.39,647.93 L351.27,649.00 L351.15,650.07 L351.04,651.13 L350.93,652.20 L350.83,653.27 L350.72,654.33 L350.60,655.40 L350.48,654.33 L350.37,653.27 L350.27,652.20 L350.16,651.13 L350.05,650.07 L349.93,649.00 L349.81,647.93 L349.66,646.87 L349.50,645.80 L349.27,644.65 L348.98,643.50 L348.64,642.35 L348.28,641.20 L347.93,640.05 L347.60,638.90 L347.34,637.89 L347.09,636.88 L346.85,635.87 L346.61,634.86 L346.37,633.84 L346.12,632.83 L345.87,631.82 L345.59,630.81 L345.30,629.80 L344.99,628.78 L344.66,627.76 L344.33,626.73 L343.97,625.71 L343.60,624.69 L343.21,623.67 L342.80,622.64 L342.36,621.62 L341.90,620.60 L341.39,619.59 L340.80,618.58 L340.17,617.57 L339.49,616.56 L338.80,615.54 L338.11,614.53 L337.43,613.52 L336.79,612.51 L336.20,611.50 L335.51,610.35 L334.75,609.20 L334.02,608.05 L333.40,606.90 L332.96,605.75 L332.80,604.60 L332.82,603.45 L332.88,602.30 L332.98,601.15 L333.10,600.00 L333.24,598.85 L333.40,597.70 L333.58,596.69 L333.83,595.68 L334.14,594.67 L334.50,593.66 L334.90,592.64 L335.33,591.63 L335.78,590.62 L336.24,589.61 L336.70,588.60 L337.19,587.56 L337.72,586.53 L338.29,585.49 L338.88,584.45 L339.51,583.42 L340.15,582.38 L340.81,581.35 L341.48,580.31 L342.16,579.27 L342.83,578.24 L343.50,577.20 L344.30,576.05 L345.19,574.90 L346.10,573.75 L346.97,572.60 L347.72,571.45 L348.30,570.30 L348.68,569.30 L349.01,568.30 L349.30,567.30 L349.57,566.30 L349.82,565.30 L350.07,564.30 L350.33,563.30 L350.60,562.30 Z" fill="none" stroke="#222" stroke-width="0.8" stroke-linejoin="round"/>
<circle cx="350.60" cy="581.30" r="1.3" fill="#000"/>
<circle cx="350.60" cy="585.20" r="1.3" fill="#000"/>
<circle cx="349.40" cy="590.90" r="1.3" fill="#000"/>
<circle cx="351.80" cy="590.90" r="1.3" fill="#000"/>
<circle cx="349.40" cy="595.00" r="1.3" fill="#000"/>
<circle cx="351.80" cy="595.00" r="1.3" fill="#000"/>
<circle cx="348.20" cy="597.70" r="1.3" fill="#000"/>
<circle cx="350.60" cy="597.70" r="1.3" fill="#000"/>
<circle cx="353.00" cy="597.70" r="1.3" fill="#000"/>
<circle cx="349.40" cy="600.50" r="1.3" fill="#000"/>
<circle cx="351.80" cy="600.50" r="1.3" fill="#000"/>
<circle cx="349.40" cy="606.90" r="1.3" fill="#000"/>
<circle cx="351.80" cy="606.90" r="1.3" fill="#000"/>
<circle cx="347.00" cy="609.20" r="1.3" fill="#000"/>
<circle cx="349.40" cy="609.20" r="1.3" fill="#000"/>
<circle cx="351.80" cy="609.20" r="1.3" fill="#000"/>
<circle cx="354.20" cy="609.20" r="1.3" fill="#000"/>
<circle cx="349.40" cy="611.00" r="1.3" fill="#000"/>
<circle cx="351.80" cy="611.00" r="1.3" fill="#000"/>
<circle cx="349.40" cy="616.00" r="1.3" fill="#000"/>
<circle cx="351.80" cy="616.00" r="1.3" fill="#000"/>
<circle cx="349.40" cy="619.90" r="1.3" fill="#000"/>
<circle cx="351.80" cy="619.90" r="1.3" fill="#000"/>
<circle cx="349.40" cy="625.20" r="1.3" fill="#000"/>
<circle cx="351.80" cy="625.20" r="1.3" fill="#000"/>
<circle cx="349.40" cy="629.80" r="1.3" fill="#000"/>
<circle cx="351.80" cy="629.80" r="1.3" fill="#000"/>
<circle cx="350.60" cy="632.00" r="1.3" fill="#000"/>
<circle cx="349.40" cy="634.30" r="1.3" fill="#000"/>
<circle cx="351.80" cy="634.30" r="1.3" fill="#000"/>
<circle cx="350.60" cy="636.60" r="1.3" fill="#000"/>
<path d="M399.30,573.10 L399.58,574.17 L399.83,575.23 L400.08,576.30 L400.36,577.37 L400.69,578.43 L401.10,579.50 L401.64,580.51 L402.36,581.52 L403.24,582.53 L404.22,583.54 L405.28,584.56 L406.39,585.57 L407.50,586.58 L408.58,587.59 L409.60,588.60 L410.63,589.61 L411.73,590.62 L412.88,591.63 L414.04,592.64 L415.17,593.66 L416.23,594.67 L417.20,595.68 L418.04,596.69 L418.70,597.70 L419.35,598.85 L419.98,600.00 L420.54,601.15 L420.99,602.30 L421.29,603.45 L421.40,604.60 L421.16,605.75 L420.53,606.90 L419.62,608.05 L418.56,609.20 L417.48,610.35 L416.50,611.50 L415.46,612.63 L414.22,613.77 L412.94,614.90 L411.81,616.03 L411.01,617.17 L410.70,618.30 L410.70,619.45 L410.70,620.60 L410.70,621.75 L410.70,622.90 L410.70,624.05 L410.70,625.20 L410.54,626.35 L410.11,627.50 L409.49,628.65 L408.76,629.80 L408.01,630.95 L407.30,632.10 L406.59,633.23 L405.78,634.37 L404.94,635.50 L404.10,636.63 L403.34,637.77 L402.70,638.90 L402.13,640.05 L401.57,641.20 L401.05,642.35 L400.59,643.50 L400.24,644.65 L400.00,645.80 L399.87,646.80 L399.76,647.80 L399.67,648.80 L399.59,649.80 L399.52,650.80 L399.45,651.80 L399.38,652.80 L399.30,653.80 L399.22,652.80 L399.15,651.80 L399.08,650.80 L399.01,649.80 L398.93,648.80 L398.84,647.80 L398.73,646.80 L398.60,645.80 L398.36,644.65 L398.01,643.50 L397.55,642.35 L397.03,641.20 L396.47,640.05 L395.90,638.90 L395.26,637.77 L394.50,636.63 L393.66,635.50 L392.82,634.37 L392.01,633.23 L391.30,632.10 L390.59,630.95 L389.84,629.80 L389.11,628.65 L388.49,627.50 L388.06,626.35 L387.90,625.20 L387.90,624.05 L387.90,622.90 L387.90,621.75 L387.90,620.60 L387.90,619.45 L387.90,618.30 L387.59,617.17 L386.79,616.03 L385.66,614.90 L384.38,613.77 L383.14,612.63 L382.10,611.50 L381.12,610.35 L380.04,609.20 L378.98,608.05 L378.07,606.90 L377.44,605.75 L377.20,604.60 L377.31,603.45 L377.61,602.30 L378.06,601.15 L378.62,600.00 L379.25,598.85 L379.90,597.70 L380.56,596.69 L381.40,595.68 L382.37,594.67 L383.43,593.66 L384.56,592.64 L385.72,591.63 L386.87,590.62 L387.97,589.61 L389.00,588.60 L390.02,587.59 L391.10,586.58 L392.21,585.57 L393.32,584.56 L394.38,583.54 L395.36,582.53 L396.24,581.52 L396.96,580.51 L397.50,579.50 L397.91,578.43 L398.24,577.37 L398.52,576.30 L398.77,575.23 L399.02,574.17 L399.30,573.10 Z" fill="none" stroke="#222" stroke-width="0.8" stroke-linejoin="round"/>
<circle cx="399.30" cy="589.70" r="1.3" fill="#000"/>
<circle cx="398.10" cy="592.70" r="1.3" fill="#000"/>
<circle cx="400.50" cy="592.70" r="1.3" fill="#000"/>
<circle cx="398.10" cy="595.50" r="1.3" fill="#000"/>
<circle cx="400.50" cy="595.50" r="1.3" fill="#000"/>
<circle cx="396.90" cy="598.90" r="1.3" fill="#000"/>
<circle cx="399.30" cy="598.90" r="1.3" fill="#000"/>
<circle cx="401.70" cy="598.90" r="1.3" fill="#000"/>
<circle cx="398.10" cy="601.20" r="1.3" fill="#000"/>
<circle cx="400.50" cy="601.20" r="1.3" fill="#000"/>
<circle cx="395.70" cy="604.20" r="1.3" fill="#000"/>
<circle cx="398.10" cy="604.20" r="1.3" fill="#000"/>
<circle cx="400.50" cy="604.20" r="1.3" fill="#000"/>
<circle cx="402.90" cy="604.20" r="1.3" fill="#000"/>
<circle cx="398.10" cy="606.40" r="1.3" fill="#000"/>
<circle cx="400.50" cy="606.40" r="1.3" fill="#000"/>
<circle cx="398.10" cy="608.00" r="1.3" fill="#000"/>
<circle cx="400.50" cy="608.00" r="1.3" fill="#000"/>
<circle cx="399.30" cy="611.00" r="1.3" fill="#000"/>
<circle cx="398.10" cy="614.20" r="1.3" fill="#000"/>
<circle cx="400.50" cy="614.20" r="1.3" fill="#000"/>
<circle cx="398.10" cy="624.10" r="1.3" fill="#000"/>
<circle cx="400.50" cy="624.10" r="1.3" fill="#000"/>
<circle cx="396.90" cy="626.30" r="1.3" fill="#000"/>
<circle cx="399.30" cy="626.30" r="1.3" fill="#000"/>
<circle cx="401.70" cy="626.30" r="1.3" fill="#000"/>
<circle cx="398.10" cy="628.60" r="1.3" fill="#000"/>
<circle cx="400.50" cy="628.60" r="1.3" fill="#000"/>
<circle cx="399.30" cy="636.60" r="1.3" fill="#000"/>
<text x="349.20" y="669.90" font-size="8.8" text-anchor="middle" fill="#222" >nFL</text>
<text x="398.50" y="669.90" font-size="8.6" text-anchor="middle" fill="#222" >tFL</text>
<line x1="442.90" y1="558.30" x2="442.90" y2="660.30" stroke="#333333" stroke-width="1.0" />
<line x1="442.50" y1="659.90" x2="550.80" y2="659.90" stroke="#333333" stroke-width="1.0" />
<line x1="472.70" y1="659.90" x2="472.70" y2="662.50" stroke="#333333" stroke-width="1.0" />
<line x1="521.80" y1="659.90" x2="521.80" y2="662.50" stroke="#333333" stroke-width="1.0" />
<line x1="440.30" y1="574.20" x2="442.90" y2="574.20" stroke="#333333" stroke-width="1.0" />
<text x="439.10" y="577.07" font-size="8.2" text-anchor="end" fill="#3d3d3d" >15</text>
<line x1="440.30" y1="597.00" x2="442.90" y2="597.00" stroke="#333333" stroke-width="1.0" />
<text x="439.10" y="599.87" font-size="8.2" text-anchor="end" fill="#3d3d3d" >10</text>
<line x1="440.30" y1="620.50" x2="442.90" y2="620.50" stroke="#333333" stroke-width="1.0" />
<text x="439.10" y="623.37" font-size="8.2" text-anchor="end" fill="#3d3d3d" >5</text>
<line x1="440.30" y1="643.80" x2="442.90" y2="643.80" stroke="#333333" stroke-width="1.0" />
<text x="439.10" y="646.67" font-size="8.2" text-anchor="end" fill="#3d3d3d" >0</text>
<line x1="474.30" y1="556.90" x2="523.80" y2="556.90" stroke="#555" stroke-width="1.0" />
<text x="500.90" y="554.90" font-size="8.5" text-anchor="middle" fill="#333" font-style="italic">ns</text>
<path d="M472.70,562.90 L472.79,564.05 L472.88,565.20 L472.96,566.35 L473.05,567.50 L473.16,568.65 L473.30,569.80 L473.47,570.80 L473.69,571.80 L473.95,572.80 L474.26,573.80 L474.59,574.80 L474.95,575.80 L475.32,576.80 L475.70,577.80 L476.19,578.98 L476.76,580.16 L477.39,581.34 L478.04,582.52 L478.70,583.70 L479.29,584.70 L479.93,585.70 L480.60,586.70 L481.28,587.70 L481.94,588.70 L482.56,589.70 L483.12,590.70 L483.60,591.70 L484.08,592.83 L484.56,593.96 L485.00,595.09 L485.41,596.21 L485.75,597.34 L486.02,598.47 L486.20,599.60 L486.31,600.60 L486.40,601.60 L486.48,602.60 L486.55,603.60 L486.59,604.60 L486.60,605.60 L486.50,606.60 L486.24,607.60 L485.87,608.60 L485.43,609.60 L484.99,610.60 L484.60,611.60 L484.19,612.73 L483.76,613.86 L483.32,614.99 L482.88,616.11 L482.44,617.24 L482.01,618.37 L481.60,619.50 L481.21,620.60 L480.82,621.70 L480.44,622.80 L480.06,623.90 L479.69,625.00 L479.32,626.10 L478.97,627.20 L478.63,628.30 L478.30,629.40 L478.01,630.40 L477.74,631.40 L477.47,632.40 L477.21,633.40 L476.96,634.40 L476.70,635.40 L476.45,636.40 L476.21,637.40 L475.95,638.40 L475.70,639.40 L475.40,640.53 L475.09,641.66 L474.77,642.79 L474.46,643.91 L474.17,645.04 L473.91,646.17 L473.70,647.30 L473.54,648.30 L473.40,649.30 L473.28,650.30 L473.16,651.30 L473.05,652.30 L472.93,653.30 L472.82,654.30 L472.70,655.30 L472.58,654.30 L472.47,653.30 L472.35,652.30 L472.24,651.30 L472.12,650.30 L472.00,649.30 L471.86,648.30 L471.70,647.30 L471.49,646.17 L471.23,645.04 L470.94,643.91 L470.63,642.79 L470.31,641.66 L470.00,640.53 L469.70,639.40 L469.45,638.40 L469.19,637.40 L468.95,636.40 L468.70,635.40 L468.44,634.40 L468.19,633.40 L467.93,632.40 L467.66,631.40 L467.39,630.40 L467.10,629.40 L466.77,628.30 L466.43,627.20 L466.08,626.10 L465.71,625.00 L465.34,623.90 L464.96,622.80 L464.58,621.70 L464.19,620.60 L463.80,619.50 L463.39,618.37 L462.96,617.24 L462.52,616.11 L462.08,614.99 L461.64,613.86 L461.21,612.73 L460.80,611.60 L460.41,610.60 L459.97,609.60 L459.53,608.60 L459.16,607.60 L458.90,606.60 L458.80,605.60 L458.81,604.60 L458.85,603.60 L458.92,602.60 L459.00,601.60 L459.09,600.60 L459.20,599.60 L459.38,598.47 L459.65,597.34 L459.99,596.21 L460.40,595.09 L460.84,593.96 L461.32,592.83 L461.80,591.70 L462.28,590.70 L462.84,589.70 L463.46,588.70 L464.12,587.70 L464.80,586.70 L465.47,585.70 L466.11,584.70 L466.70,583.70 L467.36,582.52 L468.01,581.34 L468.64,580.16 L469.21,578.98 L469.70,577.80 L470.08,576.80 L470.45,575.80 L470.81,574.80 L471.14,573.80 L471.45,572.80 L471.71,571.80 L471.93,570.80 L472.10,569.80 L472.24,568.65 L472.35,567.50 L472.44,566.35 L472.52,565.20 L472.61,564.05 L472.70,562.90 Z" fill="none" stroke="#222" stroke-width="0.8" stroke-linejoin="round"/>
<circle cx="472.70" cy="580.70" r="1.3" fill="#000"/>
<circle cx="472.70" cy="584.70" r="1.3" fill="#000"/>
<circle cx="471.50" cy="589.70" r="1.3" fill="#000"/>
<circle cx="473.90" cy="589.70" r="1.3" fill="#000"/>
<circle cx="471.50" cy="592.10" r="1.3" fill="#000"/>
<circle cx="473.90" cy="592.10" r="1.3" fill="#000"/>
<circle cx="470.30" cy="594.70" r="1.3" fill="#000"/>
<circle cx="472.70" cy="594.70" r="1.3" fill="#000"/>
<circle cx="475.10" cy="594.70" r="1.3" fill="#000"/>
<circle cx="469.10" cy="597.60" r="1.3" fill="#000"/>
<circle cx="471.50" cy="597.60" r="1.3" fill="#000"/>
<circle cx="473.90" cy="597.60" r="1.3" fill="#000"/>
<circle cx="476.30" cy="597.60" r="1.3" fill="#000"/>
<circle cx="470.30" cy="599.60" r="1.3" fill="#000"/>
<circle cx="472.70" cy="599.60" r="1.3" fill="#000"/>
<circle cx="475.10" cy="599.60" r="1.3" fill="#000"/>
<circle cx="469.10" cy="602.00" r="1.3" fill="#000"/>
<circle cx="471.50" cy="602.00" r="1.3" fill="#000"/>
<circle cx="473.90" cy="602.00" r="1.3" fill="#000"/>
<circle cx="476.30" cy="602.00" r="1.3" fill="#000"/>
<circle cx="470.30" cy="604.60" r="1.3" fill="#000"/>
<circle cx="472.70" cy="604.60" r="1.3" fill="#000"/>
<circle cx="475.10" cy="604.60" r="1.3" fill="#000"/>
<circle cx="469.10" cy="607.20" r="1.3" fill="#000"/>
<circle cx="471.50" cy="607.20" r="1.3" fill="#000"/>
<circle cx="473.90" cy="607.20" r="1.3" fill="#000"/>
<circle cx="476.30" cy="607.20" r="1.3" fill="#000"/>
<circle cx="470.30" cy="609.60" r="1.3" fill="#000"/>
<circle cx="472.70" cy="609.60" r="1.3" fill="#000"/>
<circle cx="475.10" cy="609.60" r="1.3" fill="#000"/>
<circle cx="470.30" cy="612.60" r="1.3" fill="#000"/>
<circle cx="472.70" cy="612.60" r="1.3" fill="#000"/>
<circle cx="475.10" cy="612.60" r="1.3" fill="#000"/>
<circle cx="471.50" cy="615.10" r="1.3" fill="#000"/>
<circle cx="473.90" cy="615.10" r="1.3" fill="#000"/>
<circle cx="472.70" cy="619.50" r="1.3" fill="#000"/>
<circle cx="471.50" cy="621.90" r="1.3" fill="#000"/>
<circle cx="473.90" cy="621.90" r="1.3" fill="#000"/>
<circle cx="470.30" cy="625.10" r="1.3" fill="#000"/>
<circle cx="472.70" cy="625.10" r="1.3" fill="#000"/>
<circle cx="475.10" cy="625.10" r="1.3" fill="#000"/>
<circle cx="471.50" cy="627.10" r="1.3" fill="#000"/>
<circle cx="473.90" cy="627.10" r="1.3" fill="#000"/>
<circle cx="470.30" cy="629.40" r="1.3" fill="#000"/>
<circle cx="472.70" cy="629.40" r="1.3" fill="#000"/>
<circle cx="475.10" cy="629.40" r="1.3" fill="#000"/>
<circle cx="471.50" cy="635.40" r="1.3" fill="#000"/>
<circle cx="473.90" cy="635.40" r="1.3" fill="#000"/>
<circle cx="471.50" cy="637.40" r="1.3" fill="#000"/>
<circle cx="473.90" cy="637.40" r="1.3" fill="#000"/>
<path d="M521.80,576.80 L522.09,577.80 L522.39,578.80 L522.80,579.80 L523.63,580.98 L524.84,582.16 L526.28,583.34 L527.85,584.52 L529.40,585.70 L530.82,586.70 L532.43,587.70 L534.11,588.70 L535.74,589.70 L537.18,590.70 L538.30,591.70 L539.36,592.83 L540.41,593.96 L541.41,595.09 L542.28,596.21 L542.97,597.34 L543.43,598.47 L543.60,599.60 L543.57,600.60 L543.47,601.60 L543.31,602.60 L543.10,603.60 L542.22,604.60 L540.43,605.60 L538.27,606.60 L536.30,607.60 L534.10,608.78 L531.69,609.96 L529.39,611.14 L527.52,612.32 L526.40,613.50 L525.89,614.50 L525.48,615.50 L525.20,616.50 L525.10,617.50 L525.21,618.50 L525.51,619.50 L525.93,620.50 L526.40,621.50 L527.11,622.50 L528.17,623.50 L529.35,624.50 L530.46,625.50 L531.28,626.50 L531.60,627.50 L531.03,628.80 L529.75,630.10 L528.40,631.40 L527.42,632.40 L526.34,633.40 L525.30,634.40 L524.40,635.40 L523.67,636.40 L523.03,637.40 L522.42,638.40 L521.80,639.40 L521.18,638.40 L520.57,637.40 L519.93,636.40 L519.20,635.40 L518.30,634.40 L517.26,633.40 L516.18,632.40 L515.20,631.40 L513.85,630.10 L512.57,628.80 L512.00,627.50 L512.32,626.50 L513.14,625.50 L514.25,624.50 L515.43,623.50 L516.49,622.50 L517.20,621.50 L517.67,620.50 L518.09,619.50 L518.39,618.50 L518.50,617.50 L518.40,616.50 L518.12,615.50 L517.71,614.50 L517.20,613.50 L516.08,612.32 L514.21,611.14 L511.91,609.96 L509.50,608.78 L507.30,607.60 L505.33,606.60 L503.17,605.60 L501.38,604.60 L500.50,603.60 L500.29,602.60 L500.13,601.60 L500.03,600.60 L500.00,599.60 L500.17,598.47 L500.63,597.34 L501.32,596.21 L502.19,595.09 L503.19,593.96 L504.24,592.83 L505.30,591.70 L506.42,590.70 L507.86,589.70 L509.49,588.70 L511.17,587.70 L512.78,586.70 L514.20,585.70 L515.75,584.52 L517.32,583.34 L518.76,582.16 L519.97,580.98 L520.80,579.80 L521.21,578.80 L521.51,577.80 L521.80,576.80 Z" fill="none" stroke="#222" stroke-width="0.8" stroke-linejoin="round"/>
<circle cx="521.80" cy="589.30" r="1.3" fill="#000"/>
<circle cx="521.80" cy="594.70" r="1.3" fill="#000"/>
<circle cx="520.60" cy="599.20" r="1.3" fill="#000"/>
<circle cx="523.00" cy="599.20" r="1.3" fill="#000"/>
<circle cx="520.60" cy="604.60" r="1.3" fill="#000"/>
<circle cx="523.00" cy="604.60" r="1.3" fill="#000"/>
<circle cx="520.60" cy="606.20" r="1.3" fill="#000"/>
<circle cx="523.00" cy="606.20" r="1.3" fill="#000"/>
<circle cx="521.80" cy="610.00" r="1.3" fill="#000"/>
<circle cx="520.60" cy="626.50" r="1.3" fill="#000"/>
<circle cx="523.00" cy="626.50" r="1.3" fill="#000"/>
<text x="472.40" y="670.60" font-size="8.7" text-anchor="middle" fill="#222" >FL-FL</text>
<text x="524.00" y="670.60" font-size="8.6" text-anchor="middle" fill="#222" >FL-DLBCL</text>
<line x1="565.90" y1="557.90" x2="565.90" y2="659.70" stroke="#333333" stroke-width="1.0" />
<line x1="565.50" y1="659.30" x2="674.70" y2="659.30" stroke="#333333" stroke-width="1.0" />
<line x1="595.70" y1="659.30" x2="595.70" y2="661.90" stroke="#333333" stroke-width="1.0" />
<line x1="645.40" y1="659.30" x2="645.40" y2="661.90" stroke="#333333" stroke-width="1.0" />
<line x1="563.30" y1="572.20" x2="565.90" y2="572.20" stroke="#333333" stroke-width="1.0" />
<text x="562.10" y="575.07" font-size="8.2" text-anchor="end" fill="#3d3d3d" >15</text>
<line x1="563.30" y1="595.10" x2="565.90" y2="595.10" stroke="#333333" stroke-width="1.0" />
<text x="562.10" y="597.97" font-size="8.2" text-anchor="end" fill="#3d3d3d" >10</text>
<line x1="563.30" y1="618.10" x2="565.90" y2="618.10" stroke="#333333" stroke-width="1.0" />
<text x="562.10" y="620.97" font-size="8.2" text-anchor="end" fill="#3d3d3d" >5</text>
<line x1="563.30" y1="641.00" x2="565.90" y2="641.00" stroke="#333333" stroke-width="1.0" />
<text x="562.10" y="643.87" font-size="8.2" text-anchor="end" fill="#3d3d3d" >0</text>
<line x1="596.10" y1="556.90" x2="645.40" y2="556.90" stroke="#555" stroke-width="1.0" />
<text x="620.60" y="554.90" font-size="8.7" text-anchor="middle" fill="#333" font-style="italic">p&lt;0.018</text>
<path d="M595.70,562.30 L595.97,563.37 L596.22,564.44 L596.46,565.51 L596.72,566.59 L597.00,567.66 L597.32,568.73 L597.70,569.80 L598.13,570.80 L598.63,571.80 L599.21,572.80 L599.86,573.80 L600.56,574.80 L601.30,575.80 L602.09,576.80 L602.91,577.80 L603.75,578.80 L604.60,579.80 L605.72,580.93 L607.05,582.06 L608.52,583.19 L610.00,584.31 L611.41,585.44 L612.64,586.57 L613.60,587.70 L614.27,588.70 L614.88,589.70 L615.43,590.70 L615.91,591.70 L616.30,592.70 L616.60,593.70 L616.90,594.88 L617.17,596.06 L617.39,597.24 L617.54,598.42 L617.60,599.60 L617.47,600.60 L617.12,601.60 L616.60,602.60 L615.97,603.60 L615.29,604.60 L614.60,605.60 L613.80,606.60 L612.79,607.60 L611.67,608.60 L610.54,609.60 L609.48,610.60 L608.60,611.60 L607.73,612.73 L606.87,613.86 L606.04,614.99 L605.28,616.11 L604.62,617.24 L604.08,618.37 L603.70,619.50 L603.47,620.50 L603.31,621.50 L603.17,622.50 L603.04,623.50 L602.89,624.50 L602.70,625.50 L602.45,626.50 L602.14,627.50 L601.80,628.50 L601.44,629.50 L601.06,630.50 L600.70,631.50 L600.27,632.63 L599.81,633.76 L599.33,634.89 L598.86,636.01 L598.42,637.14 L598.02,638.27 L597.70,639.40 L597.44,640.49 L597.21,641.58 L597.00,642.67 L596.80,643.76 L596.61,644.85 L596.43,645.94 L596.26,647.03 L596.08,648.12 L595.89,649.21 L595.70,650.30 L595.51,649.21 L595.32,648.12 L595.14,647.03 L594.97,645.94 L594.79,644.85 L594.60,643.76 L594.40,642.67 L594.19,641.58 L593.96,640.49 L593.70,639.40 L593.38,638.27 L592.98,637.14 L592.54,636.01 L592.07,634.89 L591.59,633.76 L591.13,632.63 L590.70,631.50 L590.34,630.50 L589.96,629.50 L589.60,628.50 L589.26,627.50 L588.95,626.50 L588.70,625.50 L588.51,624.50 L588.36,623.50 L588.23,622.50 L588.09,621.50 L587.93,620.50 L587.70,619.50 L587.32,618.37 L586.78,617.24 L586.12,616.11 L585.36,614.99 L584.53,613.86 L583.67,612.73 L582.80,611.60 L581.92,610.60 L580.86,609.60 L579.73,608.60 L578.61,607.60 L577.60,606.60 L576.80,605.60 L576.11,604.60 L575.43,603.60 L574.80,602.60 L574.28,601.60 L573.93,600.60 L573.80,599.60 L573.86,598.42 L574.01,597.24 L574.23,596.06 L574.50,594.88 L574.80,593.70 L575.10,592.70 L575.49,591.70 L575.97,590.70 L576.52,589.70 L577.13,588.70 L577.80,587.70 L578.76,586.57 L579.99,585.44 L581.40,584.31 L582.88,583.19 L584.35,582.06 L585.68,580.93 L586.80,579.80 L587.65,578.80 L588.49,577.80 L589.31,576.80 L590.10,575.80 L590.84,574.80 L591.54,573.80 L592.19,572.80 L592.77,571.80 L593.27,570.80 L593.70,569.80 L594.08,568.73 L594.40,567.66 L594.68,566.59 L594.94,565.51 L595.18,564.44 L595.43,563.37 L595.70,562.30 Z" fill="none" stroke="#222" stroke-width="0.8" stroke-linejoin="round"/>
<circle cx="595.70" cy="579.60" r="1.3" fill="#000"/>
<circle cx="595.70" cy="583.30" r="1.3" fill="#000"/>
<circle cx="594.50" cy="588.00" r="1.3" fill="#000"/>
<circle cx="596.90" cy="588.00" r="1.3" fill="#000"/>
<circle cx="594.50" cy="590.00" r="1.3" fill="#000"/>
<circle cx="596.90" cy="590.00" r="1.3" fill="#000"/>
<circle cx="590.90" cy="593.20" r="1.3" fill="#000"/>
<circle cx="593.30" cy="593.20" r="1.3" fill="#000"/>
<circle cx="595.70" cy="593.20" r="1.3" fill="#000"/>
<circle cx="598.10" cy="593.20" r="1.3" fill="#000"/>
<circle cx="600.50" cy="593.20" r="1.3" fill="#000"/>
<circle cx="594.50" cy="596.50" r="1.3" fill="#000"/>
<circle cx="596.90" cy="596.50" r="1.3" fill="#000"/>
<circle cx="593.30" cy="598.70" r="1.3" fill="#000"/>
<circle cx="595.70" cy="598.70" r="1.3" fill="#000"/>
<circle cx="598.10" cy="598.70" r="1.3" fill="#000"/>
<circle cx="592.10" cy="600.60" r="1.3" fill="#000"/>
<circle cx="594.50" cy="600.60" r="1.3" fill="#000"/>
<circle cx="596.90" cy="600.60" r="1.3" fill="#000"/>
<circle cx="599.30" cy="600.60" r="1.3" fill="#000"/>
<circle cx="592.10" cy="604.30" r="1.3" fill="#000"/>
<circle cx="594.50" cy="604.30" r="1.3" fill="#000"/>
<circle cx="596.90" cy="604.30" r="1.3" fill="#000"/>
<circle cx="599.30" cy="604.30" r="1.3" fill="#000"/>
<circle cx="593.30" cy="606.70" r="1.3" fill="#000"/>
<circle cx="595.70" cy="606.70" r="1.3" fill="#000"/>
<circle cx="598.10" cy="606.70" r="1.3" fill="#000"/>
<circle cx="594.50" cy="609.20" r="1.3" fill="#000"/>
<circle cx="596.90" cy="609.20" r="1.3" fill="#000"/>
<circle cx="594.50" cy="613.10" r="1.3" fill="#000"/>
<circle cx="596.90" cy="613.10" r="1.3" fill="#000"/>
<circle cx="595.70" cy="617.80" r="1.3" fill="#000"/>
<circle cx="594.50" cy="624.30" r="1.3" fill="#000"/>
<circle cx="596.90" cy="624.30" r="1.3" fill="#000"/>
<circle cx="594.50" cy="627.30" r="1.3" fill="#000"/>
<circle cx="596.90" cy="627.30" r="1.3" fill="#000"/>
<circle cx="595.70" cy="632.20" r="1.3" fill="#000"/>
<path d="M645.40,576.80 L645.71,578.02 L646.00,579.25 L646.34,580.48 L646.80,581.70 L647.40,582.70 L648.24,583.70 L649.28,584.70 L650.46,585.70 L651.71,586.70 L653.00,587.70 L654.24,588.70 L655.40,589.70 L656.54,590.70 L657.76,591.70 L659.01,592.70 L660.25,593.70 L661.43,594.70 L662.53,595.70 L663.50,596.70 L664.30,597.70 L665.14,598.88 L665.95,600.06 L666.64,601.24 L667.12,602.42 L667.30,603.60 L667.17,604.60 L666.80,605.60 L666.27,606.60 L665.64,607.60 L664.96,608.60 L664.30,609.60 L663.36,610.78 L662.16,611.96 L660.94,613.14 L659.91,614.32 L659.30,615.50 L659.03,616.50 L658.79,617.50 L658.59,618.50 L658.44,619.50 L658.34,620.50 L658.30,621.50 L658.45,622.50 L658.82,623.50 L659.30,624.50 L659.78,625.50 L660.15,626.50 L660.30,627.50 L659.94,628.68 L659.02,629.86 L657.79,631.04 L656.50,632.22 L655.40,633.40 L654.59,634.40 L653.76,635.40 L652.93,636.40 L652.12,637.40 L651.34,638.40 L650.61,639.40 L649.96,640.40 L649.40,641.40 L648.85,642.53 L648.34,643.66 L647.86,644.79 L647.43,645.91 L647.04,647.04 L646.70,648.17 L646.40,649.30 L646.15,650.42 L645.95,651.54 L645.77,652.66 L645.59,653.78 L645.40,654.90 L645.21,653.78 L645.03,652.66 L644.85,651.54 L644.65,650.42 L644.40,649.30 L644.10,648.17 L643.76,647.04 L643.37,645.91 L642.94,644.79 L642.46,643.66 L641.95,642.53 L641.40,641.40 L640.84,640.40 L640.19,639.40 L639.46,638.40 L638.68,637.40 L637.87,636.40 L637.04,635.40 L636.21,634.40 L635.40,633.40 L634.30,632.22 L633.01,631.04 L631.78,629.86 L630.86,628.68 L630.50,627.50 L630.65,626.50 L631.02,625.50 L631.50,624.50 L631.98,623.50 L632.35,622.50 L632.50,621.50 L632.46,620.50 L632.36,619.50 L632.21,618.50 L632.01,617.50 L631.77,616.50 L631.50,615.50 L630.89,614.32 L629.86,613.14 L628.64,611.96 L627.44,610.78 L626.50,609.60 L625.84,608.60 L625.16,607.60 L624.53,606.60 L624.00,605.60 L623.63,604.60 L623.50,603.60 L623.68,602.42 L624.16,601.24 L624.85,600.06 L625.66,598.88 L626.50,597.70 L627.30,596.70 L628.27,595.70 L629.37,594.70 L630.55,593.70 L631.79,592.70 L633.04,591.70 L634.26,590.70 L635.40,589.70 L636.56,588.70 L637.80,587.70 L639.09,586.70 L640.34,585.70 L641.52,584.70 L642.56,583.70 L643.40,582.70 L644.00,581.70 L644.46,580.48 L644.80,579.25 L645.09,578.02 L645.40,576.80 Z" fill="none" stroke="#222" stroke-width="0.8" stroke-linejoin="round"/>
<circle cx="644.20" cy="596.40" r="1.3" fill="#000"/>
<circle cx="646.60" cy="596.40" r="1.3" fill="#000"/>
<circle cx="644.20" cy="598.60" r="1.3" fill="#000"/>
<circle cx="646.60" cy="598.60" r="1.3" fill="#000"/>
<circle cx="645.40" cy="603.40" r="1.3" fill="#000"/>
<circle cx="645.40" cy="605.60" r="1.3" fill="#000"/>
<circle cx="641.80" cy="607.80" r="1.3" fill="#000"/>
<circle cx="644.20" cy="607.80" r="1.3" fill="#000"/>
<circle cx="646.60" cy="607.80" r="1.3" fill="#000"/>
<circle cx="649.00" cy="607.80" r="1.3" fill="#000"/>
<circle cx="645.40" cy="610.30" r="1.3" fill="#000"/>
<circle cx="645.40" cy="614.60" r="1.3" fill="#000"/>
<circle cx="645.40" cy="621.50" r="1.3" fill="#000"/>
<circle cx="643.00" cy="624.70" r="1.3" fill="#000"/>
<circle cx="645.40" cy="624.70" r="1.3" fill="#000"/>
<circle cx="647.80" cy="624.70" r="1.3" fill="#000"/>
<circle cx="644.20" cy="628.40" r="1.3" fill="#000"/>
<circle cx="646.60" cy="628.40" r="1.3" fill="#000"/>
<circle cx="644.20" cy="635.50" r="1.3" fill="#000"/>
<circle cx="646.60" cy="635.50" r="1.3" fill="#000"/>
<text x="593.50" y="670.60" font-size="8.8" text-anchor="middle" fill="#222" >not POD24</text>
<text x="647.00" y="670.60" font-size="8.5" text-anchor="middle" fill="#222" >POD24</text>
</svg></body></html>
